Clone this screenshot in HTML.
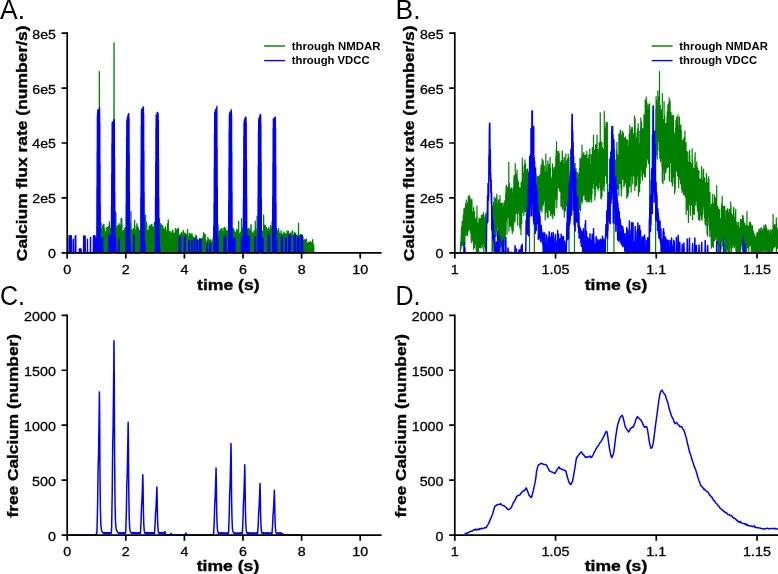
<!DOCTYPE html>
<html><head><meta charset="utf-8"><style>
html,body{margin:0;padding:0;background:#fff;width:778px;height:574px;overflow:hidden}
svg{display:block;font-family:"Liberation Sans",sans-serif;will-change:transform}
</style></head><body>
<svg width="778" height="574" viewBox="0 0 778 574" font-family="Liberation Sans, sans-serif">
<rect width="778" height="574" fill="#fff"/>
<text x="0" y="18.7" font-size="27" textLength="25" lengthAdjust="spacingAndGlyphs">A.</text>
<text x="395.5" y="18.7" font-size="27" textLength="25" lengthAdjust="spacingAndGlyphs">B.</text>
<text x="0" y="305.3" font-size="27" textLength="25" lengthAdjust="spacingAndGlyphs">C.</text>
<text x="395.5" y="305.3" font-size="27" textLength="25" lengthAdjust="spacingAndGlyphs">D.</text>
<polyline points="96.50,245.29 96.60,252.03 96.71,239.69 96.81,252.03 96.91,240.62 97.01,252.03 97.12,237.12 97.22,252.03 97.32,226.10 97.42,252.03 97.53,231.44 97.63,252.03 97.73,229.90 97.83,252.03 97.94,227.73 98.04,252.03 98.14,222.39 98.24,252.03 98.35,220.57 98.45,252.03 98.55,225.92 98.65,252.03 98.76,242.00 98.86,252.03 98.96,242.38 99.06,252.03 99.17,239.80 99.27,252.03 99.37,71.64 99.47,252.03 99.58,226.95 99.68,252.03 99.78,224.25 99.88,252.03 99.99,227.24 100.09,252.03 100.19,232.65 100.29,252.03 100.40,233.50 100.50,252.03 100.60,233.33 100.70,252.03 100.81,228.23 100.91,252.03 101.01,222.54 101.11,252.03 101.22,228.27 101.32,252.03 101.42,233.35 101.52,252.03 101.63,229.20 101.73,252.03 101.83,229.62 101.94,252.03 102.04,230.16 102.14,252.03 102.24,231.69 102.35,252.03 102.45,234.76 102.55,252.03 102.65,226.71 102.76,252.03 102.86,224.99 102.96,252.03 103.06,233.97 103.17,252.03 103.27,232.95 103.37,252.03 103.47,227.77 103.58,252.03 103.68,227.79 103.78,252.03 103.88,224.05 103.99,252.03 104.09,227.03 104.19,252.03 104.29,228.42 104.40,252.03 104.50,230.22 104.60,252.03 104.70,233.09 104.81,252.03 104.91,236.28 105.01,252.03 105.11,231.88 105.22,252.03 105.32,233.26 105.42,252.03 105.52,237.14 105.63,252.03 105.73,237.85 105.83,252.03 105.93,239.84 106.04,252.03 106.14,235.85 106.24,252.03 106.34,227.82 106.45,252.03 106.55,229.67 106.65,252.03 106.76,231.19 106.86,252.03 106.96,230.15 107.06,252.03 107.17,230.48 107.27,252.03 107.37,230.84 107.47,252.03 107.58,227.50 107.68,252.03 107.78,231.06 107.88,252.03 107.99,235.65 108.09,252.03 108.19,230.54 108.29,252.03 108.40,226.66 108.50,252.03 108.60,229.20 108.70,252.03 108.81,229.84 108.91,252.03 109.01,227.40 109.11,252.03 109.22,223.79 109.32,252.03 109.42,221.87 109.52,252.03 109.63,224.81 109.73,252.03 109.83,228.19 109.93,252.03 110.04,229.50 110.14,252.03 110.24,232.10 110.34,252.03 110.45,233.57 110.55,252.03 110.65,228.93 110.75,252.03 110.86,228.13 110.96,252.03 111.06,232.59 111.16,252.03 111.27,233.34 111.37,252.03 111.47,230.28 111.57,252.03 111.68,230.39 111.78,252.03 111.88,234.43 111.99,252.03 112.09,232.13 112.19,252.03 112.29,226.87 112.40,252.03 112.50,223.68 112.60,252.03 112.70,224.74 112.81,252.03 112.91,226.22 113.01,252.03 113.11,228.43 113.22,252.03 113.32,233.57 113.42,252.03 113.52,227.71 113.63,252.03 113.73,223.93 113.83,252.03 113.93,220.49 114.04,42.81 114.14,228.92 114.24,252.03 114.34,229.72 114.45,252.03 114.55,230.57 114.65,252.03 114.75,222.34 114.86,252.03 114.96,224.25 115.06,252.03 115.16,227.86 115.27,211.67 115.37,230.37 115.47,252.03 115.57,229.73 115.68,252.03 115.78,227.60 115.88,213.04 115.98,239.72 116.09,252.03 116.19,228.16 116.29,252.03 116.39,232.37 116.50,252.03 116.60,231.07 116.70,252.03 116.80,234.31 116.91,252.03 117.01,229.11 117.11,252.03 117.22,239.54 117.32,252.03 117.42,225.92 117.52,252.03 117.63,230.53 117.73,252.03 117.83,228.91 117.93,252.03 118.04,226.04 118.14,252.03 118.24,229.07 118.34,252.03 118.45,233.32 118.55,252.03 118.65,238.27 118.75,252.03 118.86,224.60 118.96,252.03 119.06,223.62 119.16,252.03 119.27,230.24 119.37,252.03 119.47,240.85 119.57,252.03 119.68,227.14 119.78,252.03 119.88,225.30 119.98,252.03 120.09,242.28 120.19,252.03 120.29,229.87 120.39,252.03 120.50,229.77 120.60,252.03 120.70,240.01 120.80,252.03 120.91,223.86 121.01,252.03 121.11,218.64 121.21,252.03 121.32,221.05 121.42,252.03 121.52,220.97 121.62,252.03 121.73,218.53 121.83,252.03 121.93,225.37 122.03,252.03 122.14,232.65 122.24,252.03 122.34,233.94 122.45,252.03 122.55,236.45 122.65,252.03 122.75,232.41 122.86,252.03 122.96,233.73 123.06,252.03 123.16,231.64 123.27,252.03 123.37,233.03 123.47,252.03 123.57,230.61 123.68,252.03 123.78,230.61 123.88,252.03 123.98,230.96 124.09,252.03 124.19,237.17 124.29,252.03 124.39,230.57 124.50,252.03 124.60,228.32 124.70,252.03 124.80,230.21 124.91,252.03 125.01,231.77 125.11,252.03 125.21,231.11 125.32,252.03 125.42,228.09 125.52,252.03 125.62,227.29 125.73,252.03 125.83,231.11 125.93,252.03 126.03,230.88 126.14,252.03 126.24,229.48 126.34,252.03 126.44,231.08 126.55,252.03 126.65,234.03 126.75,252.03 126.85,231.00 126.96,252.03 127.06,232.11 127.16,252.03 127.27,230.15 127.37,252.03 127.47,233.30 127.57,252.03 127.68,238.94 127.78,252.03 127.88,238.76 127.98,252.03 128.09,232.97 128.19,143.02 128.29,226.34 128.39,252.03 128.50,223.69 128.60,252.03 128.70,222.72 128.80,252.03 128.91,224.37 129.01,252.03 129.11,227.16 129.21,252.03 129.32,228.15 129.42,252.03 129.52,225.84 129.62,252.03 129.73,230.36 129.83,252.03 129.93,227.45 130.03,252.03 130.14,226.57 130.24,252.03 130.34,224.42 130.44,252.03 130.55,222.82 130.65,252.03 130.75,223.42 130.85,252.03 130.96,211.33 131.06,252.03 131.16,234.70 131.26,252.03 131.37,234.48 131.47,252.03 131.57,228.98 131.67,252.03 131.78,230.81 131.88,252.03 131.98,232.32 132.08,252.03 132.19,233.40 132.29,252.03 132.39,230.75 132.50,252.03 132.60,231.16 132.70,252.03 132.80,231.91 132.91,252.03 133.01,234.53 133.11,252.03 133.21,243.11 133.32,252.03 133.42,228.68 133.52,252.03 133.62,231.51 133.73,252.03 133.83,228.93 133.93,252.03 134.03,230.26 134.14,252.03 134.24,231.04 134.34,252.03 134.44,222.99 134.55,252.03 134.65,220.40 134.75,252.03 134.85,225.63 134.96,252.03 135.06,235.13 135.16,252.03 135.26,236.18 135.37,252.03 135.47,230.44 135.57,252.03 135.67,234.91 135.78,252.03 135.88,232.05 135.98,252.03 136.08,235.14 136.19,252.03 136.29,231.04 136.39,252.03 136.49,228.70 136.60,252.03 136.70,226.04 136.80,252.03 136.90,223.76 137.01,252.03 137.11,224.41 137.21,252.03 137.31,231.75 137.42,252.03 137.52,232.54 137.62,252.03 137.73,235.46 137.83,252.03 137.93,242.38 138.03,252.03 138.14,230.99 138.24,252.03 138.34,227.60 138.44,252.03 138.55,228.92 138.65,252.03 138.75,232.53 138.85,252.03 138.96,233.69 139.06,252.03 139.16,234.42 139.26,252.03 139.37,230.92 139.47,252.03 139.57,231.46 139.67,252.03 139.78,233.39 139.88,252.03 139.98,230.49 140.08,252.03 140.19,233.14 140.29,252.03 140.39,234.84 140.49,252.03 140.60,236.03 140.70,252.03 140.80,233.48 140.90,252.03 141.01,232.03 141.11,252.03 141.21,233.75 141.31,252.03 141.42,234.99 141.52,252.03 141.62,235.15 141.72,252.03 141.83,230.58 141.93,252.03 142.03,227.95 142.13,252.03 142.24,231.89 142.34,252.03 142.44,230.18 142.54,252.03 142.65,237.39 142.75,143.02 142.85,239.61 142.96,252.03 143.06,232.64 143.16,252.03 143.26,225.29 143.37,252.03 143.47,227.21 143.57,252.03 143.67,232.56 143.78,252.03 143.88,238.43 143.98,217.16 144.08,245.22 144.19,252.03 144.29,232.95 144.39,252.03 144.49,229.21 144.60,252.03 144.70,228.37 144.80,252.03 144.90,226.36 145.01,252.03 145.11,225.22 145.21,252.03 145.31,230.18 145.42,252.03 145.52,215.03 145.62,252.03 145.72,229.53 145.83,252.03 145.93,231.58 146.03,252.03 146.13,235.19 146.24,252.03 146.34,229.74 146.44,252.03 146.54,222.12 146.65,252.03 146.75,223.88 146.85,252.03 146.95,232.05 147.06,252.03 147.16,236.33 147.26,252.03 147.36,240.33 147.47,252.03 147.57,233.05 147.67,252.03 147.78,230.84 147.88,252.03 147.98,230.51 148.08,252.03 148.19,231.33 148.29,252.03 148.39,232.46 148.49,252.03 148.60,235.32 148.70,252.03 148.80,237.51 148.90,252.03 149.01,230.20 149.11,252.03 149.21,225.91 149.31,252.03 149.42,229.85 149.52,252.03 149.62,229.86 149.72,252.03 149.83,226.97 149.93,252.03 150.03,225.82 150.13,252.03 150.24,228.24 150.34,252.03 150.44,228.17 150.54,252.03 150.65,227.31 150.75,252.03 150.85,229.63 150.95,252.03 151.06,224.83 151.16,252.03 151.26,227.81 151.36,252.03 151.47,225.48 151.57,252.03 151.67,226.48 151.77,252.03 151.88,224.51 151.98,252.03 152.08,228.49 152.18,252.03 152.29,228.81 152.39,252.03 152.49,231.40 152.59,252.03 152.70,231.52 152.80,252.03 152.90,227.10 153.01,252.03 153.11,227.06 153.21,252.03 153.31,227.05 153.42,252.03 153.52,232.94 153.62,252.03 153.72,234.83 153.83,252.03 153.93,232.26 154.03,252.03 154.13,231.31 154.24,252.03 154.34,222.46 154.44,252.03 154.54,222.62 154.65,252.03 154.75,222.50 154.85,252.03 154.95,228.32 155.06,252.03 155.16,229.72 155.26,252.03 155.36,226.48 155.47,252.03 155.57,224.99 155.67,252.03 155.77,237.29 155.88,252.03 155.98,225.21 156.08,252.03 156.18,229.67 156.29,252.03 156.39,232.97 156.49,252.03 156.59,239.50 156.70,252.03 156.80,234.61 156.90,143.02 157.00,232.31 157.11,252.03 157.21,232.10 157.31,252.03 157.41,225.81 157.52,252.03 157.62,224.69 157.72,252.03 157.82,226.65 157.93,252.03 158.03,232.92 158.13,252.03 158.24,230.35 158.34,252.03 158.44,229.90 158.54,252.03 158.65,231.53 158.75,252.03 158.85,235.76 158.95,252.03 159.06,241.40 159.16,252.03 159.26,244.04 159.36,252.03 159.47,218.53 159.57,252.03 159.67,234.18 159.77,252.03 159.88,237.50 159.98,252.03 160.08,232.95 160.18,252.03 160.29,230.03 160.39,252.03 160.49,226.08 160.59,252.03 160.70,223.64 160.80,252.03 160.90,224.38 161.00,252.03 161.11,225.48 161.21,252.03 161.31,241.09 161.41,252.03 161.52,237.67 161.62,252.03 161.72,236.15 161.82,252.03 161.93,227.31 162.03,252.03 162.13,225.21 162.23,252.03 162.34,230.64 162.44,252.03 162.54,230.59 162.64,252.03 162.75,231.09 162.85,252.03 162.95,226.71 163.05,252.03 163.16,240.01 163.26,252.03 163.36,235.38 163.47,252.03 163.57,233.81 163.67,252.03 163.77,229.28 163.88,252.03 163.98,242.90 164.08,252.03 164.18,234.05 164.29,252.03 164.39,229.03 164.49,252.03 164.59,230.89 164.70,252.03 164.80,236.10 164.90,252.03 165.00,244.71 165.11,252.03 165.21,229.65 165.31,252.03 165.41,226.68 165.52,252.03 165.62,229.88 165.72,252.03 165.82,232.27 165.93,252.03 166.03,231.58 166.13,252.03 166.23,232.52 166.34,252.03 166.44,236.26 166.54,252.03 166.64,237.14 166.75,252.03 166.85,234.90 166.95,252.03 167.05,232.41 167.16,252.03 167.26,229.06 167.36,252.03 167.46,223.78 167.57,252.03 167.67,225.05 167.77,252.03 167.87,229.70 167.98,252.03 168.08,237.24 168.18,252.03 168.29,219.90 168.39,252.03 168.49,234.85 168.59,252.03 168.70,233.94 168.80,252.03 168.90,237.59 169.00,252.03 169.11,237.43 169.21,252.03 169.31,235.29 169.41,252.03 169.52,231.59 169.62,252.03 169.72,233.46 169.82,252.03 169.93,233.14 170.03,252.03 170.13,231.13 170.23,252.03 170.34,232.89 170.44,252.03 170.54,236.24 170.64,252.03 170.75,233.33 170.85,252.03 170.95,234.04 171.05,252.03 171.16,236.60 171.26,252.03 171.36,236.27 171.46,252.03 171.57,235.94 171.67,252.03 171.77,234.56 171.87,252.03 171.98,231.82 172.08,252.03 172.18,235.04 172.28,252.03 172.39,234.23 172.49,252.03 172.59,230.57 172.69,252.03 172.80,229.79 172.90,252.03 173.00,232.25 173.10,252.03 173.21,245.88 173.31,252.03 173.41,236.02 173.52,252.03 173.62,235.21 173.72,252.03 173.82,234.40 173.93,252.03 174.03,238.05 174.13,252.03 174.23,233.81 174.34,252.03 174.44,233.25 174.54,252.03 174.64,233.95 174.75,252.03 174.85,235.14 174.95,252.03 175.05,238.31 175.16,252.03 175.26,233.44 175.36,252.03 175.46,228.43 175.57,252.03 175.67,230.32 175.77,252.03 175.87,234.29 175.98,252.03 176.08,235.09 176.18,252.03 176.28,232.64 176.39,252.03 176.49,236.65 176.59,252.03 176.69,233.56 176.80,252.03 176.90,229.81 177.00,252.03 177.10,229.43 177.21,252.03 177.31,234.74 177.41,252.03 177.51,238.80 177.62,252.03 177.72,231.91 177.82,252.03 177.92,230.23 178.03,252.03 178.13,228.08 178.23,252.03 178.33,228.26 178.44,252.03 178.54,235.15 178.64,252.03 178.75,232.76 178.85,252.03 178.95,236.21 179.05,252.03 179.16,238.14 179.26,252.03 179.36,239.11 179.46,252.03 179.57,238.57 179.67,252.03 179.77,239.41 179.87,252.03 179.98,236.84 180.08,252.03 180.18,235.07 180.28,252.03 180.39,237.64 180.49,252.03 180.59,239.93 180.69,252.03 180.80,237.03 180.90,252.03 181.00,233.28 181.10,252.03 181.21,234.81 181.31,252.03 181.41,238.37 181.51,252.03 181.62,235.75 181.72,252.03 181.82,232.35 181.92,252.03 182.03,237.88 182.13,252.03 182.23,238.70 182.33,252.03 182.44,235.08 182.54,252.03 182.64,238.40 182.74,252.03 182.85,238.38 182.95,252.03 183.05,244.61 183.15,252.03 183.26,230.51 183.36,252.03 183.46,234.30 183.56,252.03 183.67,237.26 183.77,252.03 183.87,238.34 183.98,252.03 184.08,238.99 184.18,252.03 184.28,234.41 184.39,252.03 184.49,242.00 184.59,252.03 184.69,232.80 184.80,252.03 184.90,233.27 185.00,252.03 185.10,233.47 185.21,252.03 185.31,237.78 185.41,252.03 185.51,234.37 185.62,252.03 185.72,234.62 185.82,252.03 185.92,235.34 186.03,252.03 186.13,239.05 186.23,252.03 186.33,235.97 186.44,252.03 186.54,244.59 186.64,252.03 186.74,234.12 186.85,252.03 186.95,235.23 187.05,252.03 187.15,235.64 187.26,252.03 187.36,234.24 187.46,252.03 187.56,229.29 187.67,252.03 187.77,236.51 187.87,252.03 187.97,245.80 188.08,252.03 188.18,237.35 188.28,252.03 188.38,237.85 188.49,252.03 188.59,236.65 188.69,252.03 188.80,245.35 188.90,252.03 189.00,239.07 189.10,252.03 189.21,237.42 189.31,252.03 189.41,233.52 189.51,252.03 189.62,236.69 189.72,252.03 189.82,238.30 189.92,252.03 190.03,234.11 190.13,252.03 190.23,234.61 190.33,252.03 190.44,240.93 190.54,252.03 190.64,239.53 190.74,252.03 190.85,236.06 190.95,252.03 191.05,235.16 191.15,252.03 191.26,238.70 191.36,252.03 191.46,236.86 191.56,252.03 191.67,238.30 191.77,252.03 191.87,233.65 191.97,252.03 192.08,233.92 192.18,252.03 192.28,235.70 192.38,252.03 192.49,236.72 192.59,252.03 192.69,245.57 192.79,252.03 192.90,237.96 193.00,252.03 193.10,239.29 193.20,252.03 193.31,238.53 193.41,252.03 193.51,245.64 193.61,252.03 193.72,237.20 193.82,252.03 193.92,237.79 194.03,252.03 194.13,241.98 194.23,252.03 194.33,238.91 194.44,252.03 194.54,245.64 194.64,252.03 194.74,239.43 194.85,252.03 194.95,239.44 195.05,252.03 195.15,245.71 195.26,252.03 195.36,238.25 195.46,252.03 195.56,237.85 195.67,252.03 195.77,235.23 195.87,252.03 195.97,235.69 196.08,252.03 196.18,246.35 196.28,252.03 196.38,239.95 196.49,252.03 196.59,236.21 196.69,252.03 196.79,238.00 196.90,252.03 197.00,239.68 197.10,252.03 197.20,241.00 197.31,252.03 197.41,239.35 197.51,252.03 197.61,240.23 197.72,252.03 197.82,241.57 197.92,252.03 198.02,240.17 198.13,252.03 198.23,240.40 198.33,252.03 198.43,242.35 198.54,252.03 198.64,241.94 198.74,252.03 198.84,241.22 198.95,252.03 199.05,243.32 199.15,252.03 199.26,241.57 199.36,252.03 199.46,239.37 199.56,252.03 199.67,239.15 199.77,252.03 199.87,241.40 199.97,252.03 200.08,239.39 200.18,252.03 200.28,246.45 200.38,252.03 200.49,246.36 200.59,252.03 200.69,243.98 200.79,252.03 200.90,245.26 201.00,252.03 201.10,242.99 201.20,252.03 201.31,239.08 201.41,252.03 201.51,239.23 201.61,252.03 201.72,246.83 201.82,252.03 201.92,243.40 202.02,252.03 202.13,242.38 202.23,252.03 202.33,241.47 202.43,252.03 202.54,239.79 202.64,252.03 202.74,238.04 202.84,252.03 202.95,245.65 203.05,252.03 203.15,236.33 203.25,252.03 203.36,237.24 203.46,252.03 203.56,232.66 203.66,252.03 203.77,240.47 203.87,252.03 203.97,233.37 204.07,252.03 204.18,236.64 204.28,252.03 204.38,241.01 204.49,252.03 204.59,239.33 204.69,252.03 204.79,239.65 204.90,252.03 205.00,241.09 205.10,252.03 205.20,234.57 205.31,252.03 205.41,241.51 205.51,252.03 205.61,239.49 205.72,252.03 205.82,239.96 205.92,252.03 206.02,241.88 206.13,252.03 206.23,242.08 206.33,252.03 206.43,243.97 206.54,252.03 206.64,242.99 206.74,252.03 206.84,243.53 206.95,252.03 207.05,244.62 207.15,252.03 207.25,243.03 207.36,252.03 207.46,240.82 207.56,252.03 207.66,240.20 207.77,252.03 207.87,237.41 207.97,252.03 208.07,240.37 208.18,252.03 208.28,240.60 208.38,252.03 208.48,240.33 208.59,252.03 208.69,239.30 208.79,252.03 208.89,241.31 209.00,252.03 209.10,244.22 209.20,252.03 209.31,242.33 209.41,252.03 209.51,241.93 209.61,252.03 209.72,241.04 209.82,252.03 209.92,241.56 210.02,252.03 210.13,240.37 210.23,252.03 210.33,240.03 210.43,252.03 210.54,239.61 210.64,252.03 210.74,243.29 210.84,252.03 210.95,240.62 211.05,252.03 211.15,246.96 211.25,252.03 211.36,241.24 211.46,252.03 211.56,241.99 211.66,252.03 211.77,242.65 211.87,252.03 211.97,244.86 212.07,252.03 212.18,242.66 212.28,252.03 212.38,242.22 212.48,252.03 212.59,247.87 212.69,252.03 212.79,240.68 212.89,252.03 213.00,238.59 213.10,252.03 213.20,239.00 213.30,252.03 213.41,237.08 213.51,252.03 213.61,225.91 213.71,252.03 213.82,238.61 213.92,252.03 214.02,234.47 214.12,252.03 214.23,238.89 214.33,252.03 214.43,237.19 214.54,252.03 214.64,232.39 214.74,252.03 214.84,222.44 214.95,252.03 215.05,238.49 215.15,252.03 215.25,241.64 215.36,252.03 215.46,238.36 215.56,252.03 215.66,234.10 215.77,252.03 215.87,231.70 215.97,252.03 216.07,143.02 216.18,252.03 216.28,233.92 216.38,252.03 216.48,231.24 216.59,252.03 216.69,233.87 216.79,252.03 216.89,234.51 217.00,252.03 217.10,238.43 217.20,252.03 217.30,229.13 217.41,252.03 217.51,226.94 217.61,252.03 217.71,223.80 217.82,252.03 217.92,224.96 218.02,252.03 218.12,226.67 218.23,252.03 218.33,234.23 218.43,252.03 218.53,234.75 218.64,252.03 218.74,237.22 218.84,252.03 218.94,238.06 219.05,252.03 219.15,239.66 219.25,252.03 219.35,238.40 219.46,252.03 219.56,231.00 219.66,252.03 219.77,231.27 219.87,252.03 219.97,231.86 220.07,252.03 220.18,230.10 220.28,252.03 220.38,232.31 220.48,252.03 220.59,232.70 220.69,252.03 220.79,232.58 220.89,252.03 221.00,229.04 221.10,252.03 221.20,229.51 221.30,252.03 221.41,231.11 221.51,252.03 221.61,240.27 221.71,252.03 221.82,228.59 221.92,252.03 222.02,228.46 222.12,252.03 222.23,233.48 222.33,252.03 222.43,232.79 222.53,252.03 222.64,235.80 222.74,252.03 222.84,234.13 222.94,252.03 223.05,231.34 223.15,252.03 223.25,232.94 223.35,252.03 223.46,232.70 223.56,252.03 223.66,232.17 223.76,252.03 223.87,228.15 223.97,252.03 224.07,229.86 224.17,252.03 224.28,227.13 224.38,252.03 224.48,229.12 224.58,252.03 224.69,228.35 224.79,252.03 224.89,227.87 225.00,252.03 225.10,228.83 225.20,252.03 225.30,228.50 225.41,252.03 225.51,234.18 225.61,252.03 225.71,232.20 225.82,252.03 225.92,242.30 226.02,252.03 226.12,230.36 226.23,252.03 226.33,240.42 226.43,252.03 226.53,234.12 226.64,252.03 226.74,231.84 226.84,252.03 226.94,230.94 227.05,252.03 227.15,233.09 227.25,252.03 227.35,242.79 227.46,252.03 227.56,232.36 227.66,252.03 227.76,231.24 227.87,252.03 227.97,231.87 228.07,252.03 228.17,232.47 228.28,252.03 228.38,227.07 228.48,252.03 228.58,227.20 228.69,252.03 228.79,215.26 228.89,252.03 228.99,230.39 229.10,252.03 229.20,227.32 229.30,252.03 229.40,227.72 229.51,252.03 229.61,231.19 229.71,252.03 229.82,241.70 229.92,252.03 230.02,228.93 230.12,252.03 230.23,232.29 230.33,252.03 230.43,239.65 230.53,252.03 230.64,240.54 230.74,252.03 230.84,240.27 230.94,143.02 231.05,244.49 231.15,252.03 231.25,230.13 231.35,252.03 231.46,230.12 231.56,252.03 231.66,227.95 231.76,252.03 231.87,230.11 231.97,252.03 232.07,232.29 232.17,252.03 232.28,231.78 232.38,252.03 232.48,235.86 232.58,252.03 232.69,241.56 232.79,252.03 232.89,228.88 232.99,252.03 233.10,228.25 233.20,252.03 233.30,233.79 233.40,252.03 233.51,231.48 233.61,252.03 233.71,234.94 233.81,252.03 233.92,229.62 234.02,252.03 234.12,232.40 234.22,252.03 234.33,232.02 234.43,252.03 234.53,234.50 234.63,252.03 234.74,237.03 234.84,252.03 234.94,235.17 235.05,252.03 235.15,231.96 235.25,252.03 235.35,232.33 235.46,252.03 235.56,243.24 235.66,252.03 235.76,245.05 235.87,252.03 235.97,235.75 236.07,252.03 236.17,234.49 236.28,252.03 236.38,233.62 236.48,252.03 236.58,234.61 236.69,252.03 236.79,229.16 236.89,252.03 236.99,230.61 237.10,252.03 237.20,236.92 237.30,252.03 237.40,235.85 237.51,252.03 237.61,230.62 237.71,252.03 237.81,231.96 237.92,252.03 238.02,231.84 238.12,252.03 238.22,229.93 238.33,252.03 238.43,229.83 238.53,252.03 238.63,221.28 238.74,252.03 238.84,237.86 238.94,252.03 239.04,233.20 239.15,252.03 239.25,234.73 239.35,252.03 239.45,234.76 239.56,252.03 239.66,237.83 239.76,252.03 239.86,234.28 239.97,252.03 240.07,234.60 240.17,252.03 240.28,236.28 240.38,252.03 240.48,232.18 240.58,252.03 240.69,233.33 240.79,252.03 240.89,233.76 240.99,252.03 241.10,239.02 241.20,252.03 241.30,233.17 241.40,252.03 241.51,218.73 241.61,252.03 241.71,224.95 241.81,252.03 241.92,228.93 242.02,252.03 242.12,229.96 242.22,252.03 242.33,231.43 242.43,252.03 242.53,229.68 242.63,252.03 242.74,234.15 242.84,252.03 242.94,228.04 243.04,252.03 243.15,232.74 243.25,252.03 243.35,231.94 243.45,252.03 243.56,232.49 243.66,252.03 243.76,232.20 243.86,252.03 243.97,231.15 244.07,252.03 244.17,230.38 244.27,252.03 244.38,234.46 244.48,252.03 244.58,241.14 244.68,252.03 244.79,143.02 244.89,252.03 244.99,238.12 245.09,252.03 245.20,233.88 245.30,252.03 245.40,233.70 245.51,252.03 245.61,235.73 245.71,252.03 245.81,234.09 245.92,217.16 246.02,229.58 246.12,252.03 246.22,231.94 246.33,252.03 246.43,222.83 246.53,252.03 246.63,228.72 246.74,252.03 246.84,242.05 246.94,252.03 247.04,230.23 247.15,252.03 247.25,244.00 247.35,252.03 247.45,232.74 247.56,252.03 247.66,229.23 247.76,252.03 247.86,230.74 247.97,252.03 248.07,232.08 248.17,252.03 248.27,236.11 248.38,252.03 248.48,235.76 248.58,252.03 248.68,230.79 248.79,252.03 248.89,228.25 248.99,252.03 249.09,228.52 249.20,252.03 249.30,231.76 249.40,252.03 249.50,230.89 249.61,252.03 249.71,231.57 249.81,252.03 249.91,230.30 250.02,252.03 250.12,230.89 250.22,252.03 250.33,235.52 250.43,252.03 250.53,236.10 250.63,252.03 250.74,242.40 250.84,252.03 250.94,224.70 251.04,252.03 251.15,225.34 251.25,252.03 251.35,241.57 251.45,252.03 251.56,232.36 251.66,252.03 251.76,232.01 251.86,252.03 251.97,232.85 252.07,252.03 252.17,232.75 252.27,252.03 252.38,233.93 252.48,252.03 252.58,245.04 252.68,252.03 252.79,234.18 252.89,252.03 252.99,233.77 253.09,252.03 253.20,233.43 253.30,252.03 253.40,235.68 253.50,252.03 253.61,240.85 253.71,252.03 253.81,241.03 253.91,252.03 254.02,230.80 254.12,252.03 254.22,232.03 254.32,252.03 254.43,233.15 254.53,252.03 254.63,231.88 254.73,252.03 254.84,236.21 254.94,252.03 255.04,233.17 255.14,252.03 255.25,221.04 255.35,252.03 255.45,228.39 255.56,252.03 255.66,228.63 255.76,252.03 255.86,233.83 255.97,252.03 256.07,237.76 256.17,252.03 256.27,231.85 256.38,252.03 256.48,232.46 256.58,252.03 256.68,234.15 256.79,252.03 256.89,235.46 256.99,252.03 257.09,216.22 257.20,252.03 257.30,233.45 257.40,252.03 257.50,234.29 257.61,252.03 257.71,231.91 257.81,252.03 257.91,230.53 258.02,252.03 258.12,230.70 258.22,252.03 258.32,230.95 258.43,252.03 258.53,233.19 258.63,252.03 258.73,234.21 258.84,252.03 258.94,243.15 259.04,252.03 259.14,232.59 259.25,252.03 259.35,233.24 259.45,252.03 259.55,236.04 259.66,252.03 259.76,238.09 259.86,252.03 259.96,143.02 260.07,252.03 260.17,235.36 260.27,252.03 260.37,229.52 260.48,252.03 260.58,231.69 260.68,252.03 260.79,232.85 260.89,252.03 260.99,235.50 261.09,252.03 261.20,240.48 261.30,252.03 261.40,237.08 261.50,252.03 261.61,232.01 261.71,252.03 261.81,230.89 261.91,252.03 262.02,232.19 262.12,252.03 262.22,233.39 262.32,252.03 262.43,236.86 262.53,252.03 262.63,234.26 262.73,252.03 262.84,231.21 262.94,252.03 263.04,234.64 263.14,252.03 263.25,236.31 263.35,252.03 263.45,231.78 263.55,252.03 263.66,215.09 263.76,252.03 263.86,228.13 263.96,252.03 264.07,225.70 264.17,252.03 264.27,224.96 264.37,252.03 264.48,231.71 264.58,252.03 264.68,231.77 264.78,252.03 264.89,233.85 264.99,252.03 265.09,227.60 265.19,252.03 265.30,225.45 265.40,252.03 265.50,229.43 265.60,252.03 265.71,234.83 265.81,252.03 265.91,237.87 266.02,252.03 266.12,232.23 266.22,252.03 266.32,227.37 266.43,252.03 266.53,230.64 266.63,252.03 266.73,231.28 266.84,252.03 266.94,233.53 267.04,252.03 267.14,235.23 267.25,252.03 267.35,236.52 267.45,252.03 267.55,233.25 267.66,252.03 267.76,229.19 267.86,252.03 267.96,232.07 268.07,252.03 268.17,231.89 268.27,252.03 268.37,229.77 268.48,252.03 268.58,227.80 268.68,252.03 268.78,230.29 268.89,252.03 268.99,232.93 269.09,252.03 269.19,232.61 269.30,252.03 269.40,234.62 269.50,252.03 269.60,232.36 269.71,252.03 269.81,232.31 269.91,252.03 270.01,229.51 270.12,252.03 270.22,229.00 270.32,252.03 270.42,225.40 270.53,252.03 270.63,227.25 270.73,252.03 270.84,228.42 270.94,252.03 271.04,229.86 271.14,252.03 271.25,232.40 271.35,252.03 271.45,233.23 271.55,252.03 271.66,229.30 271.76,252.03 271.86,228.52 271.96,252.03 272.07,221.47 272.17,252.03 272.27,230.11 272.37,252.03 272.48,240.74 272.58,252.03 272.68,232.44 272.78,252.03 272.89,236.21 272.99,252.03 273.09,234.62 273.19,252.03 273.30,236.19 273.40,252.03 273.50,234.79 273.60,252.03 273.71,236.62 273.81,252.03 273.91,231.22 274.01,252.03 274.12,229.08 274.22,252.03 274.32,143.02 274.42,252.03 274.53,243.34 274.63,252.03 274.73,232.41 274.83,252.03 274.94,237.43 275.04,252.03 275.14,238.32 275.24,252.03 275.35,237.27 275.45,252.03 275.55,230.99 275.65,252.03 275.76,231.63 275.86,252.03 275.96,234.90 276.07,252.03 276.17,243.49 276.27,252.03 276.37,228.56 276.48,252.03 276.58,240.52 276.68,252.03 276.78,232.15 276.89,252.03 276.99,236.68 277.09,252.03 277.19,231.57 277.30,252.03 277.40,230.69 277.50,252.03 277.60,236.33 277.71,252.03 277.81,238.01 277.91,252.03 278.01,234.52 278.12,252.03 278.22,232.72 278.32,252.03 278.42,230.68 278.53,252.03 278.63,228.66 278.73,252.03 278.83,231.01 278.94,252.03 279.04,235.30 279.14,252.03 279.24,236.78 279.35,252.03 279.45,236.01 279.55,252.03 279.65,233.32 279.76,252.03 279.86,234.25 279.96,252.03 280.06,234.66 280.17,252.03 280.27,235.69 280.37,252.03 280.47,236.39 280.58,252.03 280.68,236.08 280.78,252.03 280.88,235.36 280.99,252.03 281.09,230.70 281.19,252.03 281.30,233.01 281.40,252.03 281.50,233.15 281.60,252.03 281.71,233.46 281.81,252.03 281.91,238.42 282.01,252.03 282.12,234.62 282.22,252.03 282.32,237.87 282.42,252.03 282.53,236.99 282.63,252.03 282.73,237.80 282.83,252.03 282.94,243.35 283.04,252.03 283.14,234.16 283.24,252.03 283.35,234.56 283.45,252.03 283.55,235.59 283.65,252.03 283.76,234.74 283.86,252.03 283.96,231.83 284.06,252.03 284.17,242.93 284.27,252.03 284.37,235.49 284.47,252.03 284.58,239.02 284.68,252.03 284.78,233.38 284.88,252.03 284.99,234.10 285.09,252.03 285.19,236.00 285.29,252.03 285.40,236.37 285.50,252.03 285.60,236.12 285.70,252.03 285.81,234.94 285.91,252.03 286.01,234.11 286.11,252.03 286.22,234.37 286.32,252.03 286.42,236.75 286.53,252.03 286.63,241.09 286.73,252.03 286.83,244.80 286.94,252.03 287.04,230.93 287.14,252.03 287.24,231.68 287.35,252.03 287.45,237.69 287.55,252.03 287.65,239.19 287.76,252.03 287.86,238.81 287.96,252.03 288.06,236.21 288.17,252.03 288.27,233.33 288.37,252.03 288.47,231.33 288.58,252.03 288.68,232.23 288.78,252.03 288.88,244.19 288.99,252.03 289.09,244.98 289.19,252.03 289.29,235.47 289.40,252.03 289.50,234.17 289.60,252.03 289.70,234.52 289.81,252.03 289.91,237.03 290.01,252.03 290.11,236.65 290.22,252.03 290.32,237.82 290.42,252.03 290.52,234.53 290.63,252.03 290.73,232.98 290.83,252.03 290.93,237.15 291.04,252.03 291.14,236.22 291.24,252.03 291.35,237.83 291.45,252.03 291.55,240.63 291.65,252.03 291.76,246.86 291.86,252.03 291.96,237.00 292.06,252.03 292.17,231.64 292.27,252.03 292.37,230.68 292.47,252.03 292.58,234.89 292.68,252.03 292.78,238.24 292.88,252.03 292.99,237.35 293.09,252.03 293.19,236.89 293.29,252.03 293.40,238.57 293.50,252.03 293.60,236.83 293.70,252.03 293.81,235.65 293.91,252.03 294.01,235.83 294.11,252.03 294.22,232.13 294.32,252.03 294.42,243.92 294.52,252.03 294.63,238.25 294.73,252.03 294.83,242.02 294.93,252.03 295.04,240.78 295.14,252.03 295.24,238.52 295.34,252.03 295.45,235.92 295.55,252.03 295.65,233.27 295.75,252.03 295.86,234.81 295.96,252.03 296.06,239.10 296.16,252.03 296.27,244.25 296.37,252.03 296.47,238.92 296.58,252.03 296.68,236.87 296.78,252.03 296.88,235.53 296.99,252.03 297.09,245.75 297.19,252.03 297.29,237.17 297.40,252.03 297.50,237.08 297.60,252.03 297.70,239.08 297.81,252.03 297.91,238.40 298.01,252.03 298.11,234.88 298.22,252.03 298.32,239.47 298.42,252.03 298.52,223.19 298.63,252.03 298.73,240.93 298.83,252.03 298.93,240.14 299.04,252.03 299.14,235.51 299.24,252.03 299.34,235.17 299.45,252.03 299.55,238.18 299.65,252.03 299.75,243.33 299.86,252.03 299.96,241.85 300.06,252.03 300.16,240.78 300.27,252.03 300.37,246.65 300.47,252.03 300.57,234.39 300.68,252.03 300.78,234.59 300.88,252.03 300.98,237.98 301.09,252.03 301.19,245.08 301.29,252.03 301.39,238.76 301.50,252.03 301.60,238.72 301.70,252.03 301.81,235.27 301.91,252.03 302.01,235.46 302.11,252.03 302.22,239.22 302.32,252.03 302.42,239.61 302.52,252.03 302.63,237.12 302.73,252.03 302.83,238.04 302.93,252.03 303.04,240.28 303.14,252.03 303.24,240.03 303.34,252.03 303.45,240.71 303.55,252.03 303.65,241.31 303.75,252.03 303.86,241.48 303.96,252.03 304.06,242.37 304.16,252.03 304.27,241.95 304.37,252.03 304.47,239.85 304.57,252.03 304.68,239.96 304.78,252.03 304.88,243.72 304.98,252.03 305.09,245.80 305.19,252.03 305.29,242.46 305.39,252.03 305.50,239.79 305.60,252.03 305.70,240.11 305.80,252.03 305.91,239.97 306.01,252.03 306.11,240.91 306.21,252.03 306.32,238.95 306.42,252.03 306.52,241.46 306.62,252.03 306.73,243.01 306.83,252.03 306.93,243.82 307.04,252.03 307.14,243.87 307.24,252.03 307.34,243.11 307.45,252.03 307.55,244.22 307.65,252.03 307.75,243.57 307.86,252.03 307.96,243.18 308.06,252.03 308.16,242.82 308.27,252.03 308.37,242.54 308.47,252.03 308.57,243.80 308.68,252.03 308.78,244.15 308.88,252.03 308.98,244.71 309.09,252.03 309.19,244.57 309.29,252.03 309.39,243.64 309.50,252.03 309.60,242.31 309.70,252.03 309.80,243.07 309.91,252.03 310.01,243.49 310.11,252.03 310.21,244.76 310.32,252.03 310.42,241.71 310.52,252.03 310.62,243.50 310.73,252.03 310.83,242.37 310.93,252.03 311.03,244.55 311.14,252.03 311.24,244.41 311.34,252.03 311.44,243.58 311.55,252.03 311.65,245.90 311.75,252.03 311.86,243.55 311.96,252.03 312.06,243.11 312.16,252.03 312.27,242.49 312.37,252.03 312.47,242.53 312.57,252.03 312.68,239.68 312.78,252.03 312.88,242.17 312.98,252.03 313.09,245.50 313.19,252.03 313.29,244.31 313.39,252.03 313.50,244.79 313.60,252.03 313.70,246.34 313.80,252.85" fill="none" stroke="#008000" stroke-width="1.3" stroke-linejoin="round"/>
<polyline points="67.20,252.85 67.30,252.85 67.41,252.85 67.51,252.85 67.61,252.85 67.71,252.85 67.82,252.85 67.92,252.85 68.02,252.85 68.12,252.85 68.23,252.85 68.33,252.85 68.43,252.85 68.53,252.85 68.64,252.85 68.74,252.85 68.84,252.85 68.94,252.85 69.05,235.66 69.15,252.85 69.25,236.33 69.35,252.85 69.46,235.84 69.56,252.85 69.66,236.30 69.76,252.85 69.87,236.23 69.97,252.85 70.07,235.65 70.17,252.85 70.28,235.56 70.38,252.85 70.48,235.95 70.58,252.85 70.69,236.13 70.79,252.85 70.89,235.85 70.99,252.85 71.10,236.28 71.20,252.85 71.30,235.65 71.40,252.85 71.51,252.85 71.61,252.85 71.71,252.85 71.81,252.85 71.92,252.85 72.02,252.85 72.12,252.85 72.22,252.85 72.33,252.85 72.43,252.85 72.53,252.85 72.64,252.85 72.74,252.85 72.84,252.85 72.94,252.85 73.05,252.85 73.15,239.76 73.25,252.85 73.35,239.17 73.46,252.85 73.56,252.85 73.66,252.85 73.76,252.85 73.87,252.85 73.97,252.85 74.07,252.85 74.17,252.85 74.28,252.85 74.38,252.85 74.48,252.85 74.58,252.85 74.69,252.85 74.79,252.85 74.89,252.85 74.99,252.85 75.10,252.85 75.20,236.23 75.30,252.85 75.40,235.70 75.51,252.85 75.61,235.59 75.71,252.85 75.81,236.14 75.92,252.85 76.02,252.85 76.12,252.85 76.22,252.85 76.33,252.85 76.43,252.85 76.53,252.85 76.63,252.85 76.74,252.85 76.84,252.85 76.94,252.85 77.04,252.85 77.15,252.85 77.25,252.85 77.35,252.85 77.45,252.85 77.56,252.85 77.66,252.85 77.76,252.85 77.87,252.85 77.97,252.85 78.07,252.85 78.17,252.85 78.28,252.85 78.38,252.85 78.48,252.85 78.58,252.85 78.69,252.85 78.79,252.85 78.89,252.85 78.99,252.85 79.10,252.85 79.20,252.85 79.30,249.08 79.40,252.85 79.51,249.10 79.61,252.85 79.71,249.03 79.81,252.85 79.92,249.07 80.02,252.85 80.12,249.15 80.22,252.85 80.33,249.10 80.43,252.85 80.53,249.09 80.63,252.85 80.74,249.04 80.84,252.85 80.94,249.17 81.04,252.85 81.15,249.06 81.25,252.85 81.35,252.85 81.45,252.85 81.56,252.85 81.66,252.85 81.76,252.85 81.86,252.85 81.97,252.85 82.07,252.85 82.17,252.85 82.27,252.85 82.38,252.85 82.48,252.85 82.58,252.85 82.69,252.85 82.79,252.85 82.89,252.85 82.99,252.85 83.10,252.85 83.20,252.85 83.30,252.85 83.40,252.85 83.51,252.85 83.61,235.90 83.71,252.85 83.81,236.56 83.92,252.85 84.02,236.39 84.12,252.85 84.22,236.38 84.33,252.85 84.43,236.59 84.53,252.85 84.63,235.86 84.74,252.85 84.84,235.92 84.94,252.85 85.04,236.16 85.15,252.85 85.25,236.30 85.35,252.85 85.45,252.85 85.56,252.85 85.66,252.85 85.76,252.85 85.86,252.85 85.97,252.85 86.07,252.85 86.17,252.85 86.27,252.85 86.38,252.85 86.48,252.85 86.58,252.85 86.68,252.85 86.79,252.85 86.89,252.85 86.99,252.85 87.09,252.85 87.20,252.85 87.30,252.85 87.40,252.85 87.50,239.27 87.61,252.85 87.71,252.85 87.81,252.85 87.92,252.85 88.02,252.85 88.12,252.85 88.22,252.85 88.33,252.85 88.43,252.85 88.53,252.85 88.63,252.85 88.74,252.85 88.84,252.85 88.94,252.85 89.04,252.85 89.15,252.85 89.25,252.85 89.35,252.85 89.45,252.85 89.56,252.85 89.66,252.85 89.76,252.85 89.86,252.85 89.97,252.85 90.07,252.85 90.17,252.85 90.27,252.85 90.38,237.34 90.48,252.85 90.58,237.48 90.68,252.85 90.79,252.85 90.89,252.85 90.99,252.85 91.09,252.85 91.20,252.85 91.30,252.85 91.40,252.85 91.50,252.85 91.61,252.85 91.71,252.85 91.81,252.85 91.91,252.85 92.02,252.85 92.12,252.85 92.22,252.85 92.32,252.85 92.43,252.85 92.53,252.85 92.63,252.85 92.73,252.85 92.84,252.85 92.94,252.85 93.04,252.85 93.15,252.85 93.25,252.85 93.35,236.18 93.45,252.85 93.56,235.91 93.66,252.85 93.76,235.56 93.86,252.85 93.97,235.85 94.07,252.85 94.17,235.59 94.27,252.85 94.38,236.38 94.48,252.85 94.58,236.29 94.68,252.85 94.79,235.75 94.89,252.85 94.99,236.41 95.09,252.85 95.20,236.33 95.30,252.85 95.40,252.85 95.50,252.85 95.61,252.85 95.71,252.85 95.81,252.85 95.91,252.85 96.02,252.85 96.12,252.85 96.22,252.85 96.32,252.85 96.43,252.85 96.53,238.12 96.63,252.85 96.73,237.87 96.84,252.85 96.94,187.54 97.04,252.30 97.14,151.44 97.25,252.30 97.35,115.85 97.45,252.30 97.55,112.60 97.66,252.30 97.76,109.86 97.86,252.30 97.97,113.22 98.07,252.30 98.17,112.97 98.27,252.30 98.38,110.13 98.48,252.30 98.58,110.92 98.68,252.30 98.79,110.24 98.89,252.30 98.99,111.40 99.09,252.30 99.20,109.22 99.30,252.30 99.40,109.91 99.50,252.30 99.61,107.66 99.71,252.30 99.81,123.34 99.91,252.30 100.02,163.57 100.12,252.30 100.22,203.34 100.32,238.06 100.43,252.85 100.53,241.83 100.63,252.85 100.73,244.79 100.84,252.85 100.94,243.72 101.04,252.85 101.14,247.15 101.25,252.85 101.35,252.85 101.45,252.85 101.55,252.85 101.66,252.85 101.76,252.85 101.86,252.85 101.96,252.85 102.07,237.97 102.17,252.85 102.27,238.47 102.37,252.85 102.48,237.98 102.58,252.85 102.68,237.78 102.78,252.85 102.89,252.85 102.99,252.85 103.09,252.85 103.20,252.85 103.30,252.85 103.40,252.85 103.50,252.85 103.61,252.85 103.71,252.85 103.81,252.85 103.91,252.85 104.02,252.85 104.12,252.85 104.22,252.85 104.32,252.85 104.43,252.85 104.53,252.85 104.63,252.85 104.73,252.85 104.84,252.85 104.94,252.85 105.04,252.85 105.14,252.85 105.25,252.85 105.35,252.85 105.45,252.85 105.55,252.85 105.66,252.85 105.76,252.85 105.86,252.85 105.96,252.85 106.07,252.85 106.17,252.85 106.27,252.85 106.37,252.85 106.48,252.85 106.58,252.85 106.68,252.85 106.78,252.85 106.89,252.85 106.99,252.85 107.09,252.85 107.19,252.85 107.30,252.85 107.40,252.85 107.50,252.85 107.60,252.85 107.71,252.85 107.81,252.85 107.91,252.85 108.01,252.85 108.12,252.85 108.22,252.85 108.32,252.85 108.43,252.85 108.53,252.85 108.63,252.85 108.73,235.04 108.84,252.85 108.94,235.26 109.04,252.85 109.14,235.79 109.25,252.85 109.35,235.19 109.45,252.85 109.55,235.90 109.66,252.85 109.76,235.76 109.86,252.85 109.96,235.82 110.07,252.85 110.17,235.46 110.27,252.85 110.37,235.82 110.48,252.85 110.58,236.13 110.68,252.85 110.78,252.85 110.89,252.85 110.99,252.85 111.09,252.85 111.19,252.85 111.30,252.85 111.40,252.85 111.50,205.80 111.60,252.30 111.71,173.65 111.81,252.30 111.91,143.62 112.01,252.30 112.12,122.67 112.22,252.30 112.32,122.52 112.42,252.30 112.53,123.56 112.63,252.30 112.73,123.81 112.83,252.30 112.94,121.92 113.04,252.30 113.14,122.22 113.24,252.30 113.35,121.21 113.45,252.30 113.55,122.51 113.66,252.30 113.76,119.43 113.86,252.30 113.96,120.76 114.07,252.30 114.17,120.23 114.27,252.30 114.37,120.36 114.48,252.30 114.58,157.63 114.68,252.30 114.78,192.70 114.89,252.30 114.99,235.79 115.09,252.85 115.19,236.90 115.30,252.85 115.40,239.14 115.50,252.85 115.60,241.99 115.71,252.85 115.81,247.35 115.91,252.85 116.01,252.85 116.12,252.85 116.22,252.85 116.32,252.85 116.42,252.85 116.53,252.85 116.63,252.85 116.73,252.85 116.83,252.85 116.94,252.85 117.04,252.85 117.14,252.85 117.24,252.85 117.35,252.85 117.45,252.85 117.55,252.85 117.65,252.85 117.76,252.85 117.86,252.85 117.96,252.85 118.06,252.85 118.17,252.85 118.27,252.85 118.37,252.85 118.47,239.88 118.58,252.85 118.68,239.56 118.78,252.85 118.89,239.16 118.99,252.85 119.09,239.22 119.19,252.85 119.30,239.89 119.40,252.85 119.50,252.85 119.60,252.85 119.71,252.85 119.81,252.85 119.91,252.85 120.01,252.85 120.12,252.85 120.22,252.85 120.32,252.85 120.42,252.85 120.53,252.85 120.63,252.85 120.73,252.85 120.83,252.85 120.94,252.85 121.04,252.85 121.14,252.85 121.24,252.85 121.35,252.85 121.45,252.85 121.55,252.85 121.65,252.85 121.76,252.85 121.86,252.85 121.96,252.85 122.06,252.85 122.17,252.85 122.27,252.85 122.37,252.85 122.47,252.85 122.58,252.85 122.68,252.85 122.78,252.85 122.88,252.85 122.99,252.85 123.09,252.85 123.19,252.85 123.29,252.85 123.40,252.85 123.50,252.85 123.60,252.85 123.71,252.85 123.81,252.85 123.91,252.85 124.01,252.85 124.12,252.85 124.22,252.85 124.32,252.85 124.42,252.85 124.53,252.85 124.63,252.85 124.73,252.85 124.83,252.85 124.94,252.85 125.04,252.85 125.14,252.85 125.24,252.85 125.35,252.85 125.45,252.85 125.55,252.85 125.65,252.85 125.76,252.85 125.86,252.85 125.96,252.85 126.06,252.85 126.17,202.78 126.27,252.30 126.37,168.15 126.47,252.30 126.58,137.28 126.68,252.30 126.78,120.67 126.88,252.30 126.99,120.49 127.09,252.30 127.19,118.35 127.29,252.30 127.40,117.98 127.50,252.30 127.60,117.06 127.70,252.30 127.81,116.03 127.91,252.30 128.01,115.01 128.11,252.30 128.22,117.25 128.32,252.30 128.42,117.88 128.52,252.30 128.63,116.00 128.73,252.30 128.83,113.47 128.94,252.30 129.04,118.62 129.14,252.30 129.24,153.76 129.35,252.30 129.45,193.04 129.55,252.30 129.65,236.50 129.76,252.85 129.86,242.15 129.96,252.85 130.06,243.46 130.17,252.85 130.27,244.34 130.37,252.85 130.47,245.21 130.58,252.85 130.68,252.85 130.78,252.85 130.88,252.85 130.99,252.85 131.09,252.85 131.19,252.85 131.29,252.85 131.40,252.85 131.50,252.85 131.60,252.85 131.70,252.85 131.81,252.85 131.91,252.85 132.01,252.85 132.11,252.85 132.22,252.85 132.32,252.85 132.42,252.85 132.52,252.85 132.63,252.85 132.73,252.85 132.83,252.85 132.93,252.85 133.04,252.85 133.14,252.85 133.24,252.85 133.34,252.85 133.45,252.85 133.55,252.85 133.65,252.85 133.75,235.35 133.86,252.85 133.96,234.98 134.06,252.85 134.17,235.09 134.27,252.85 134.37,235.14 134.47,252.85 134.58,252.85 134.68,252.85 134.78,252.85 134.88,252.85 134.99,252.85 135.09,252.85 135.19,252.85 135.29,252.85 135.40,252.85 135.50,252.85 135.60,252.85 135.70,252.85 135.81,252.85 135.91,252.85 136.01,252.85 136.11,252.85 136.22,252.85 136.32,252.85 136.42,252.85 136.52,252.85 136.63,252.85 136.73,252.85 136.83,252.85 136.93,252.85 137.04,252.85 137.14,252.85 137.24,252.85 137.34,252.85 137.45,252.85 137.55,252.85 137.65,252.85 137.75,252.85 137.86,252.85 137.96,252.85 138.06,252.85 138.16,252.85 138.27,252.85 138.37,252.85 138.47,252.85 138.57,252.85 138.68,252.85 138.78,252.85 138.88,252.85 138.99,252.85 139.09,252.85 139.19,252.85 139.29,252.85 139.40,252.85 139.50,252.85 139.60,252.85 139.70,252.85 139.81,252.85 139.91,252.85 140.01,252.85 140.11,252.85 140.22,252.85 140.32,252.85 140.42,252.85 140.52,252.85 140.63,252.85 140.73,252.85 140.83,197.33 140.93,252.30 141.04,161.08 141.14,252.30 141.24,126.11 141.34,252.30 141.45,111.61 141.55,252.30 141.65,109.47 141.75,252.30 141.86,108.86 141.96,252.30 142.06,111.30 142.16,252.30 142.27,109.94 142.37,252.30 142.47,109.00 142.57,252.30 142.68,110.78 142.78,252.30 142.88,108.47 142.98,252.30 143.09,106.66 143.19,252.30 143.29,107.04 143.39,252.30 143.50,107.30 143.60,252.30 143.70,114.40 143.80,252.30 143.91,151.12 144.01,252.30 144.11,192.29 144.22,239.76 144.32,252.85 144.42,238.31 144.52,252.85 144.63,245.18 144.73,252.85 144.83,244.65 144.93,252.85 145.04,244.01 145.14,252.85 145.24,252.85 145.34,252.85 145.45,252.85 145.55,252.85 145.65,252.85 145.75,252.85 145.86,252.85 145.96,252.85 146.06,252.85 146.16,252.85 146.27,252.85 146.37,252.85 146.47,252.85 146.57,252.85 146.68,252.85 146.78,252.85 146.88,252.85 146.98,252.85 147.09,252.85 147.19,252.85 147.29,252.85 147.39,252.85 147.50,252.85 147.60,252.85 147.70,252.85 147.80,252.85 147.91,252.85 148.01,252.85 148.11,252.85 148.21,252.85 148.32,252.85 148.42,252.85 148.52,252.85 148.62,252.85 148.73,252.85 148.83,252.85 148.93,252.85 149.03,252.85 149.14,252.85 149.24,252.85 149.34,252.85 149.45,252.85 149.55,252.85 149.65,252.85 149.75,252.85 149.86,252.85 149.96,252.85 150.06,252.85 150.16,252.85 150.27,252.85 150.37,252.85 150.47,252.85 150.57,252.85 150.68,252.85 150.78,252.85 150.88,252.85 150.98,252.85 151.09,252.85 151.19,252.85 151.29,252.85 151.39,252.85 151.50,252.85 151.60,252.85 151.70,252.85 151.80,252.85 151.91,252.85 152.01,252.85 152.11,252.85 152.21,252.85 152.32,252.85 152.42,252.85 152.52,252.85 152.62,252.85 152.73,252.85 152.83,252.85 152.93,252.85 153.03,252.85 153.14,252.85 153.24,252.85 153.34,252.85 153.44,252.85 153.55,252.85 153.65,252.85 153.75,252.85 153.85,252.85 153.96,252.85 154.06,252.85 154.16,252.85 154.26,252.85 154.37,252.85 154.47,252.85 154.57,252.85 154.68,252.85 154.78,252.85 154.88,252.85 154.98,252.85 155.09,252.85 155.19,252.85 155.29,252.85 155.39,252.85 155.50,197.15 155.60,252.30 155.70,162.35 155.80,252.30 155.91,127.82 156.01,252.30 156.11,115.26 156.21,252.30 156.32,115.59 156.42,252.30 156.52,116.40 156.62,252.30 156.73,116.40 156.83,252.30 156.93,116.76 157.03,252.30 157.14,112.26 157.24,252.30 157.34,113.79 157.44,252.30 157.55,112.50 157.65,252.30 157.75,113.06 157.85,252.30 157.96,113.23 158.06,252.30 158.16,113.27 158.26,252.30 158.37,120.45 158.47,252.30 158.57,158.80 158.67,252.30 158.78,197.79 158.88,239.51 158.98,235.58 159.08,240.89 159.19,235.19 159.29,244.88 159.39,252.85 159.50,245.25 159.60,252.85 159.70,247.32 159.80,252.85 159.91,252.85 160.01,252.85 160.11,252.85 160.21,252.85 160.32,252.85 160.42,252.85 160.52,252.85 160.62,252.85 160.73,252.85 160.83,252.85 160.93,252.85 161.03,252.85 161.14,252.85 161.24,252.85 161.34,252.85 161.44,252.85 161.55,252.85 161.65,252.85 161.75,252.85 161.85,252.85 161.96,252.85 162.06,252.85 162.16,252.85 162.26,252.85 162.37,252.85 162.47,252.85 162.57,252.85 162.67,252.85 162.78,252.85 162.88,252.85 162.98,252.85 163.08,252.85 163.19,252.85 163.29,252.85 163.39,252.85 163.49,252.85 163.60,252.85 163.70,252.85 163.80,252.85 163.90,252.85 164.01,252.85 164.11,252.85 164.21,252.85 164.31,252.85 164.42,252.85 164.52,252.85 164.62,252.85 164.73,252.85 164.83,252.85 164.93,252.85 165.03,252.85 165.14,252.85 165.24,252.85 165.34,252.85 165.44,252.85 165.55,252.85 165.65,252.85 165.75,252.85 165.85,252.85 165.96,252.85 166.06,252.85 166.16,252.85 166.26,252.85 166.37,252.85 166.47,252.85 166.57,252.85 166.67,252.85 166.78,252.85 166.88,252.85 166.98,252.85 167.08,252.85 167.19,252.85 167.29,252.85 167.39,252.85 167.49,252.85 167.60,252.85 167.70,252.85 167.80,252.85 167.90,252.85 168.01,252.85 168.11,252.85 168.21,252.85 168.31,252.85 168.42,252.85 168.52,252.85 168.62,252.85 168.72,252.85 168.83,252.85 168.93,252.85 169.03,252.85 169.13,252.85 169.24,252.85 169.34,252.85 169.44,252.85 169.54,252.85 169.65,252.85 169.75,252.85 169.85,252.85 169.96,252.85 170.06,252.85 170.16,252.85 170.26,252.85 170.37,252.85 170.47,252.85 170.57,252.85 170.67,252.85 170.78,252.85 170.88,252.85 170.98,252.85 171.08,252.85 171.19,252.85 171.29,252.85 171.39,252.85 171.49,252.85 171.60,252.85 171.70,252.85 171.80,252.85 171.90,252.85 172.01,252.85 172.11,252.85 172.21,252.85 172.31,252.85 172.42,252.85 172.52,252.85 172.62,252.85 172.72,252.85 172.83,252.85 172.93,252.85 173.03,252.85 173.13,252.85 173.24,252.85 173.34,252.85 173.44,252.85 173.54,252.85 173.65,252.85 173.75,252.85 173.85,252.85 173.95,252.85 174.06,252.85 174.16,252.85 174.26,252.85 174.36,252.85 174.47,252.85 174.57,252.85 174.67,252.85 174.77,252.85 174.88,252.85 174.98,252.85 175.08,252.85 175.19,252.85 175.29,252.85 175.39,252.85 175.49,252.85 175.60,252.85 175.70,252.85 175.80,252.85 175.90,252.85 176.01,252.85 176.11,252.85 176.21,252.85 176.31,252.85 176.42,252.85 176.52,252.85 176.62,252.85 176.72,252.85 176.83,252.85 176.93,252.85 177.03,252.85 177.13,252.85 177.24,252.85 177.34,252.85 177.44,252.85 177.54,252.85 177.65,252.85 177.75,252.85 177.85,252.85 177.95,252.85 178.06,252.85 178.16,252.85 178.26,252.85 178.36,252.85 178.47,252.85 178.57,252.85 178.67,252.85 178.77,252.85 178.88,252.85 178.98,252.85 179.08,237.05 179.18,252.85 179.29,236.52 179.39,252.85 179.49,236.74 179.59,252.85 179.70,236.86 179.80,252.85 179.90,237.18 180.00,252.85 180.11,236.35 180.21,252.85 180.31,237.37 180.42,252.85 180.52,237.25 180.62,252.85 180.72,252.85 180.83,252.85 180.93,252.85 181.03,252.85 181.13,252.85 181.24,252.85 181.34,252.85 181.44,252.85 181.54,252.85 181.65,252.85 181.75,252.85 181.85,252.85 181.95,252.85 182.06,252.85 182.16,252.85 182.26,252.85 182.36,252.85 182.47,252.85 182.57,252.85 182.67,252.85 182.77,252.85 182.88,252.85 182.98,252.85 183.08,252.85 183.18,252.85 183.29,252.85 183.39,252.85 183.49,252.85 183.59,252.85 183.70,252.85 183.80,252.85 183.90,252.85 184.00,252.85 184.11,252.85 184.21,252.85 184.31,237.33 184.41,252.85 184.52,237.56 184.62,252.85 184.72,236.51 184.82,252.85 184.93,237.36 185.03,252.85 185.13,236.75 185.24,252.85 185.34,237.11 185.44,252.85 185.54,252.85 185.65,252.85 185.75,252.85 185.85,252.85 185.95,252.85 186.06,252.85 186.16,252.85 186.26,252.85 186.36,252.85 186.47,252.85 186.57,252.85 186.67,252.85 186.77,252.85 186.88,252.85 186.98,252.85 187.08,252.85 187.18,252.85 187.29,252.85 187.39,252.85 187.49,252.85 187.59,252.85 187.70,252.85 187.80,252.85 187.90,252.85 188.00,252.85 188.11,252.85 188.21,252.85 188.31,252.85 188.41,252.85 188.52,252.85 188.62,252.85 188.72,252.85 188.82,240.81 188.93,252.85 189.03,240.88 189.13,252.85 189.23,240.89 189.34,252.85 189.44,240.63 189.54,252.85 189.64,252.85 189.75,252.85 189.85,252.85 189.95,252.85 190.05,252.85 190.16,252.85 190.26,252.85 190.36,252.85 190.47,252.85 190.57,252.85 190.67,252.85 190.77,252.85 190.88,252.85 190.98,252.85 191.08,252.85 191.18,252.85 191.29,252.85 191.39,252.85 191.49,252.85 191.59,252.85 191.70,240.62 191.80,252.85 191.90,240.63 192.00,252.85 192.11,240.62 192.21,252.85 192.31,252.85 192.41,252.85 192.52,252.85 192.62,252.85 192.72,252.85 192.82,252.85 192.93,252.85 193.03,252.85 193.13,252.85 193.23,252.85 193.34,252.85 193.44,252.85 193.54,252.85 193.64,252.85 193.75,252.85 193.85,252.85 193.95,252.85 194.05,252.85 194.16,252.85 194.26,238.67 194.36,252.85 194.46,238.69 194.57,252.85 194.67,238.55 194.77,252.85 194.87,238.03 194.98,252.85 195.08,252.85 195.18,252.85 195.28,252.85 195.39,252.85 195.49,252.85 195.59,252.85 195.70,252.85 195.80,252.85 195.90,252.85 196.00,252.85 196.11,252.85 196.21,252.85 196.31,252.85 196.41,252.85 196.52,252.85 196.62,252.85 196.72,252.85 196.82,252.85 196.93,252.85 197.03,240.02 197.13,252.85 197.23,240.29 197.34,252.85 197.44,252.85 197.54,252.85 197.64,252.85 197.75,252.85 197.85,252.85 197.95,252.85 198.05,252.85 198.16,252.85 198.26,252.85 198.36,252.85 198.46,252.85 198.57,252.85 198.67,252.85 198.77,252.85 198.87,252.85 198.98,252.85 199.08,252.85 199.18,252.85 199.28,252.85 199.39,252.85 199.49,239.39 199.59,252.85 199.69,238.76 199.80,252.85 199.90,239.14 200.00,252.85 200.10,238.91 200.21,252.85 200.31,239.33 200.41,252.85 200.51,239.71 200.62,252.85 200.72,239.65 200.82,252.85 200.93,238.93 201.03,252.85 201.13,239.01 201.23,252.85 201.34,252.85 201.44,252.85 201.54,252.85 201.64,252.85 201.75,252.85 201.85,252.85 201.95,252.85 202.05,252.85 202.16,252.85 202.26,252.85 202.36,252.85 202.46,252.85 202.57,252.85 202.67,252.85 202.77,252.85 202.87,252.85 202.98,252.85 203.08,252.85 203.18,252.85 203.28,252.85 203.39,252.85 203.49,252.85 203.59,252.85 203.69,252.85 203.80,252.85 203.90,252.85 204.00,252.85 204.10,252.85 204.21,252.85 204.31,252.85 204.41,252.85 204.51,252.85 204.62,252.85 204.72,252.85 204.82,252.85 204.92,252.85 205.03,252.85 205.13,252.85 205.23,252.85 205.33,252.85 205.44,252.85 205.54,252.85 205.64,252.85 205.75,252.85 205.85,252.85 205.95,252.85 206.05,252.85 206.16,252.85 206.26,252.85 206.36,252.85 206.46,252.85 206.57,252.85 206.67,252.85 206.77,252.85 206.87,252.85 206.98,252.85 207.08,242.89 207.18,252.85 207.28,243.01 207.39,252.85 207.49,243.02 207.59,252.85 207.69,252.85 207.80,252.85 207.90,252.85 208.00,252.85 208.10,252.85 208.21,252.85 208.31,252.85 208.41,252.85 208.51,252.85 208.62,252.85 208.72,252.85 208.82,252.85 208.92,252.85 209.03,252.85 209.13,252.85 209.23,252.85 209.33,252.85 209.44,252.85 209.54,252.85 209.64,243.90 209.74,252.85 209.85,244.07 209.95,252.85 210.05,244.00 210.15,252.85 210.26,243.92 210.36,252.85 210.46,244.25 210.56,252.85 210.67,243.91 210.77,252.85 210.87,252.85 210.98,252.85 211.08,252.85 211.18,252.85 211.28,252.85 211.39,252.85 211.49,252.85 211.59,252.85 211.69,252.85 211.80,252.85 211.90,252.85 212.00,252.85 212.10,252.85 212.21,252.85 212.31,252.85 212.41,252.85 212.51,252.85 212.62,252.85 212.72,252.85 212.82,252.85 212.92,252.85 213.03,252.85 213.13,252.85 213.23,252.85 213.33,252.85 213.44,252.85 213.54,252.85 213.64,252.85 213.74,252.85 213.85,252.85 213.95,252.85 214.05,202.37 214.15,252.30 214.26,167.75 214.36,252.30 214.46,133.55 214.56,252.30 214.67,112.91 214.77,252.30 214.87,111.85 214.97,252.30 215.08,112.21 215.18,252.30 215.28,111.26 215.38,252.30 215.49,109.59 215.59,252.30 215.69,110.83 215.79,252.30 215.90,109.54 216.00,252.30 216.10,110.62 216.21,252.30 216.31,108.38 216.41,252.30 216.51,109.14 216.62,252.30 216.72,109.76 216.82,252.30 216.92,106.11 217.03,252.30 217.13,148.59 217.23,252.30 217.33,186.60 217.44,252.30 217.54,240.37 217.64,252.85 217.74,237.69 217.85,252.85 217.95,240.38 218.05,252.85 218.15,246.69 218.26,252.85 218.36,248.18 218.46,252.85 218.56,252.85 218.67,252.85 218.77,252.85 218.87,252.85 218.97,252.85 219.08,252.85 219.18,252.85 219.28,252.85 219.38,252.85 219.49,252.85 219.59,252.85 219.69,252.85 219.79,252.85 219.90,252.85 220.00,252.85 220.10,252.85 220.20,252.85 220.31,252.85 220.41,252.85 220.51,252.85 220.61,252.85 220.72,252.85 220.82,252.85 220.92,252.85 221.03,252.85 221.13,252.85 221.23,252.85 221.33,252.85 221.44,252.85 221.54,252.85 221.64,252.85 221.74,252.85 221.85,252.85 221.95,252.85 222.05,252.85 222.15,252.85 222.26,252.85 222.36,252.85 222.46,252.85 222.56,252.85 222.67,252.85 222.77,252.85 222.87,252.85 222.97,252.85 223.08,252.85 223.18,252.85 223.28,252.85 223.38,252.85 223.49,252.85 223.59,252.85 223.69,252.85 223.79,252.85 223.90,252.85 224.00,252.85 224.10,236.27 224.20,252.85 224.31,236.82 224.41,252.85 224.51,236.40 224.61,252.85 224.72,236.70 224.82,252.85 224.92,235.81 225.02,252.85 225.13,236.19 225.23,252.85 225.33,236.23 225.43,252.85 225.54,235.80 225.64,252.85 225.74,236.88 225.84,252.85 225.95,236.89 226.05,252.85 226.15,252.85 226.26,252.85 226.36,252.85 226.46,252.85 226.56,252.85 226.67,252.85 226.77,252.85 226.87,252.85 226.97,252.85 227.08,252.85 227.18,252.85 227.28,252.85 227.38,252.85 227.49,252.85 227.59,252.85 227.69,252.85 227.79,252.85 227.90,252.85 228.00,252.85 228.10,252.85 228.20,252.85 228.31,252.85 228.41,252.85 228.51,252.85 228.61,252.85 228.72,201.00 228.82,252.30 228.92,167.76 229.02,252.30 229.13,130.75 229.23,252.30 229.33,116.01 229.43,252.30 229.54,113.40 229.64,252.30 229.74,115.18 229.84,252.30 229.95,112.13 230.05,252.30 230.15,112.76 230.25,252.30 230.36,112.12 230.46,252.30 230.56,112.25 230.66,252.30 230.77,113.69 230.87,252.30 230.97,111.91 231.07,252.30 231.18,109.61 231.28,252.30 231.38,110.77 231.49,252.30 231.59,114.67 231.69,252.30 231.79,152.49 231.90,252.30 232.00,191.22 232.10,252.30 232.20,241.33 232.31,252.85 232.41,243.75 232.51,252.85 232.61,243.05 232.72,252.85 232.82,245.19 232.92,252.85 233.02,245.66 233.13,252.85 233.23,252.85 233.33,252.85 233.43,252.85 233.54,252.85 233.64,238.16 233.74,252.85 233.84,238.17 233.95,252.85 234.05,238.83 234.15,252.85 234.25,238.49 234.36,252.85 234.46,238.17 234.56,252.85 234.66,238.43 234.77,252.85 234.87,238.35 234.97,252.85 235.07,238.45 235.18,252.85 235.28,252.85 235.38,252.85 235.48,252.85 235.59,252.85 235.69,252.85 235.79,252.85 235.89,252.85 236.00,252.85 236.10,252.85 236.20,252.85 236.30,252.85 236.41,252.85 236.51,252.85 236.61,252.85 236.72,252.85 236.82,252.85 236.92,252.85 237.02,252.85 237.13,252.85 237.23,252.85 237.33,252.85 237.43,252.85 237.54,252.85 237.64,252.85 237.74,252.85 237.84,252.85 237.95,252.85 238.05,252.85 238.15,252.85 238.25,252.85 238.36,252.85 238.46,252.85 238.56,252.85 238.66,252.85 238.77,252.85 238.87,252.85 238.97,252.85 239.07,252.85 239.18,252.85 239.28,252.85 239.38,252.85 239.48,252.85 239.59,252.85 239.69,252.85 239.79,252.85 239.89,252.85 240.00,252.85 240.10,252.85 240.20,252.85 240.30,252.85 240.41,252.85 240.51,252.85 240.61,252.85 240.71,252.85 240.82,252.85 240.92,252.85 241.02,252.85 241.12,252.85 241.23,252.85 241.33,252.85 241.43,252.85 241.54,237.57 241.64,252.85 241.74,237.03 241.84,252.85 241.95,236.97 242.05,252.85 242.15,237.63 242.25,252.85 242.36,236.76 242.46,252.85 242.56,252.85 242.66,252.85 242.77,252.85 242.87,252.85 242.97,252.85 243.07,252.85 243.18,252.85 243.28,252.85 243.38,200.65 243.48,252.30 243.59,168.01 243.69,252.30 243.79,135.89 243.89,252.30 244.00,122.67 244.10,252.30 244.20,121.30 244.30,252.30 244.41,119.91 244.51,252.30 244.61,120.96 244.71,252.30 244.82,118.92 244.92,252.30 245.02,121.36 245.12,252.30 245.23,117.39 245.33,252.30 245.43,120.05 245.53,252.30 245.64,118.99 245.74,252.30 245.84,116.81 245.94,252.30 246.05,117.96 246.15,252.30 246.25,122.38 246.35,252.30 246.46,159.56 246.56,252.30 246.66,196.96 246.77,236.56 246.87,252.85 246.97,237.06 247.07,252.85 247.18,245.07 247.28,252.85 247.38,242.28 247.48,252.85 247.59,246.37 247.69,252.85 247.79,252.85 247.89,252.85 248.00,252.85 248.10,252.85 248.20,236.61 248.30,252.85 248.41,236.08 248.51,252.85 248.61,236.21 248.71,252.85 248.82,236.49 248.92,252.85 249.02,236.96 249.12,252.85 249.23,236.30 249.33,252.85 249.43,252.85 249.53,252.85 249.64,252.85 249.74,252.85 249.84,252.85 249.94,252.85 250.05,252.85 250.15,252.85 250.25,252.85 250.35,252.85 250.46,252.85 250.56,252.85 250.66,252.85 250.76,252.85 250.87,252.85 250.97,252.85 251.07,252.85 251.17,252.85 251.28,252.85 251.38,252.85 251.48,252.85 251.58,252.85 251.69,252.85 251.79,252.85 251.89,252.85 252.00,252.85 252.10,252.85 252.20,252.85 252.30,252.85 252.41,252.85 252.51,252.85 252.61,252.85 252.71,252.85 252.82,252.85 252.92,252.85 253.02,252.85 253.12,252.85 253.23,252.85 253.33,252.85 253.43,252.85 253.53,252.85 253.64,252.85 253.74,252.85 253.84,252.85 253.94,252.85 254.05,252.85 254.15,252.85 254.25,252.85 254.35,252.85 254.46,252.85 254.56,252.85 254.66,252.85 254.76,252.85 254.87,252.85 254.97,237.11 255.07,252.85 255.17,236.78 255.28,252.85 255.38,236.74 255.48,252.85 255.58,236.64 255.69,252.85 255.79,252.85 255.89,252.85 255.99,252.85 256.10,252.85 256.20,252.85 256.30,252.85 256.40,252.85 256.51,252.85 256.61,252.85 256.71,252.85 256.81,252.85 256.92,252.85 257.02,252.85 257.12,252.85 257.23,252.85 257.33,252.85 257.43,252.85 257.53,252.85 257.64,252.85 257.74,252.85 257.84,252.85 257.94,252.85 258.05,197.84 258.15,252.30 258.25,165.23 258.35,252.30 258.46,130.91 258.56,252.30 258.66,120.05 258.76,252.30 258.87,119.14 258.97,252.30 259.07,117.98 259.17,252.30 259.28,117.18 259.38,252.30 259.48,118.67 259.58,252.30 259.69,116.48 259.79,252.30 259.89,115.06 259.99,252.30 260.10,115.06 260.20,252.30 260.30,116.05 260.40,252.30 260.51,114.52 260.61,252.30 260.71,115.37 260.81,252.30 260.92,124.38 261.02,252.30 261.12,161.58 261.22,252.30 261.33,198.28 261.43,237.74 261.53,238.05 261.63,240.92 261.74,238.26 261.84,238.51 261.94,238.82 262.05,244.07 262.15,238.59 262.25,245.07 262.35,238.31 262.46,252.85 262.56,238.00 262.66,252.85 262.76,238.30 262.87,252.85 262.97,238.25 263.07,252.85 263.17,252.85 263.28,252.85 263.38,252.85 263.48,252.85 263.58,252.85 263.69,252.85 263.79,252.85 263.89,252.85 263.99,252.85 264.10,252.85 264.20,252.85 264.30,252.85 264.40,252.85 264.51,252.85 264.61,252.85 264.71,252.85 264.81,252.85 264.92,252.85 265.02,252.85 265.12,252.85 265.22,252.85 265.33,252.85 265.43,252.85 265.53,252.85 265.63,252.85 265.74,252.85 265.84,252.85 265.94,252.85 266.04,252.85 266.15,252.85 266.25,252.85 266.35,252.85 266.45,252.85 266.56,252.85 266.66,252.85 266.76,252.85 266.86,252.85 266.97,252.85 267.07,252.85 267.17,252.85 267.28,252.85 267.38,252.85 267.48,252.85 267.58,252.85 267.69,252.85 267.79,252.85 267.89,252.85 267.99,252.85 268.10,252.85 268.20,233.96 268.30,252.85 268.40,234.25 268.51,252.85 268.61,234.29 268.71,252.85 268.81,234.02 268.92,252.85 269.02,234.83 269.12,252.85 269.22,235.11 269.33,252.85 269.43,235.13 269.53,252.85 269.63,252.85 269.74,252.85 269.84,252.85 269.94,252.85 270.04,252.85 270.15,252.85 270.25,252.85 270.35,252.85 270.45,252.85 270.56,252.85 270.66,252.85 270.76,252.85 270.86,252.85 270.97,252.85 271.07,252.85 271.17,252.85 271.27,252.85 271.38,252.85 271.48,252.85 271.58,252.85 271.68,252.85 271.79,252.85 271.89,252.85 271.99,252.85 272.09,252.85 272.20,252.85 272.30,252.85 272.40,252.85 272.51,252.85 272.61,252.85 272.71,196.16 272.81,252.30 272.92,162.76 273.02,252.30 273.12,128.68 273.22,252.30 273.33,118.86 273.43,252.30 273.53,120.65 273.63,252.30 273.74,119.44 273.84,252.30 273.94,119.46 274.04,252.30 274.15,119.46 274.25,252.30 274.35,118.04 274.45,252.30 274.56,118.79 274.66,252.30 274.76,118.34 274.86,252.30 274.97,117.48 275.07,252.30 275.17,117.25 275.27,252.30 275.38,116.79 275.48,252.30 275.58,128.05 275.68,252.30 275.79,165.30 275.89,252.30 275.99,202.04 276.09,237.27 276.20,252.85 276.30,238.97 276.40,252.85 276.50,240.08 276.61,252.85 276.71,241.95 276.81,252.85 276.91,244.80 277.02,252.85 277.12,252.85 277.22,252.85 277.32,252.85 277.43,252.85 277.53,252.85 277.63,252.85 277.74,252.85 277.84,252.85 277.94,252.85 278.04,252.85 278.15,252.85 278.25,252.85 278.35,252.85 278.45,252.85 278.56,252.85 278.66,252.85 278.76,252.85 278.86,252.85 278.97,252.85 279.07,252.85 279.17,252.85 279.27,252.85 279.38,252.85 279.48,252.85 279.58,252.85 279.68,252.85 279.79,252.85 279.89,252.85 279.99,252.85 280.09,252.85 280.20,252.85 280.30,252.85 280.40,252.85 280.50,252.85 280.61,252.85 280.71,252.85 280.81,252.85 280.91,252.85 281.02,252.85 281.12,252.85 281.22,252.85 281.32,237.03 281.43,252.85 281.53,236.60 281.63,252.85 281.73,237.14 281.84,252.85 281.94,236.40 282.04,252.85 282.14,237.11 282.25,252.85 282.35,237.07 282.45,252.85 282.56,237.37 282.66,252.85 282.76,252.85 282.86,252.85 282.97,252.85 283.07,252.85 283.17,252.85 283.27,252.85 283.38,252.85 283.48,252.85 283.58,252.85 283.68,252.85 283.79,252.85 283.89,252.85 283.99,252.85 284.09,252.85 284.20,252.85 284.30,252.85 284.40,252.85 284.50,252.85 284.61,252.85 284.71,252.85 284.81,252.85 284.91,252.85 285.02,252.85 285.12,252.85 285.22,252.85 285.32,252.85 285.43,252.85 285.53,238.00 285.63,252.85 285.73,238.89 285.84,252.85 285.94,238.95 286.04,252.85 286.14,238.51 286.25,252.85 286.35,238.35 286.45,252.85 286.55,252.85 286.66,252.85 286.76,252.85 286.86,252.85 286.96,252.85 287.07,252.85 287.17,252.85 287.27,252.85 287.37,252.85 287.48,252.85 287.58,252.85 287.68,252.85 287.79,252.85 287.89,252.85 287.99,252.85 288.09,252.85 288.20,252.85 288.30,252.85 288.40,252.85 288.50,252.85 288.61,234.98 288.71,252.85 288.81,235.17 288.91,252.85 289.02,235.19 289.12,252.85 289.22,236.00 289.32,252.85 289.43,235.49 289.53,252.85 289.63,234.93 289.73,252.85 289.84,236.08 289.94,252.85 290.04,235.70 290.14,252.85 290.25,235.29 290.35,252.85 290.45,235.29 290.55,252.85 290.66,252.85 290.76,252.85 290.86,252.85 290.96,252.85 291.07,252.85 291.17,252.85 291.27,252.85 291.37,252.85 291.48,252.85 291.58,252.85 291.68,252.85 291.78,252.85 291.89,252.85 291.99,252.85 292.09,252.85 292.19,252.85 292.30,252.85 292.40,252.85 292.50,252.85 292.60,252.85 292.71,252.85 292.81,252.85 292.91,252.85 293.02,252.85 293.12,252.85 293.22,252.85 293.32,252.85 293.43,252.85 293.53,252.85 293.63,252.85 293.73,252.85 293.84,252.85 293.94,252.85 294.04,252.85 294.14,234.88 294.25,252.85 294.35,235.11 294.45,252.85 294.55,234.07 294.66,252.85 294.76,234.58 294.86,252.85 294.96,235.05 295.07,252.85 295.17,234.73 295.27,252.85 295.37,252.85 295.48,252.85 295.58,252.85 295.68,252.85 295.78,252.85 295.89,252.85 295.99,252.85 296.09,252.85 296.19,252.85 296.30,252.85 296.40,252.85 296.50,252.85 296.60,252.85 296.71,252.85 296.81,252.85 296.91,252.85 297.01,252.85 297.12,252.85 297.22,252.85 297.32,237.73 297.42,252.85 297.53,237.53 297.63,252.85 297.73,236.89 297.83,252.85 297.94,237.26 298.04,252.85 298.14,237.00 298.25,252.85 298.35,236.81 298.45,252.85 298.55,237.18 298.66,252.85 298.76,237.20 298.86,252.85 298.96,237.66 299.07,252.85 299.17,252.85 299.27,252.85 299.37,252.85 299.48,252.85 299.58,252.85 299.68,252.85 299.78,252.85 299.89,252.85 299.99,252.85 300.09,252.85 300.19,252.85 300.30,252.85 300.40,252.85 300.50,252.85 300.60,252.85 300.71,252.85 300.81,252.85 300.91,252.85 301.01,252.85 301.12,235.39 301.22,252.85 301.32,235.38 301.42,252.85 301.53,235.93 301.63,252.85 301.73,235.48 301.83,252.85 301.94,235.37 302.04,252.85 302.14,235.32 302.24,252.85 302.35,235.30 302.45,252.85 302.55,236.28 302.65,252.85 302.76,252.85 302.86,252.85 302.96,252.85 303.07,252.85 303.17,252.85 303.27,252.85 303.37,252.85 303.48,252.85 303.58,252.85 303.68,252.85 303.78,252.85 303.89,252.85 303.99,252.85 304.09,252.85 304.19,252.85 304.30,252.85 304.40,252.85 304.50,252.85" fill="none" stroke="#0000ff" stroke-width="1.3" stroke-linejoin="round"/>
<polyline points="454.80,252.85 454.87,252.85 454.94,252.85 455.01,252.85 455.08,252.85 455.15,252.85 455.22,252.85 455.29,252.85 455.36,252.85 455.43,252.85 455.51,252.85 455.58,252.85 455.65,252.85 455.72,252.85 455.79,252.85 455.86,252.85 455.93,252.85 456.00,252.85 456.07,252.85 456.14,252.85 456.21,252.85 456.28,252.85 456.35,252.85 456.42,252.85 456.49,252.85 456.56,252.85 456.63,252.85 456.70,252.85 456.77,252.85 456.84,252.85 456.92,252.85 456.99,252.85 457.06,252.85 457.13,252.85 457.20,252.85 457.27,252.85 457.34,252.85 457.41,252.85 457.48,252.85 457.55,252.85 457.62,252.85 457.69,252.85 457.76,252.85 457.83,252.85 457.90,252.85 457.97,252.85 458.04,252.85 458.11,252.85 458.18,252.85 458.26,252.85 458.33,252.85 458.40,252.85 458.47,252.85 458.54,252.85 458.61,252.85 458.68,252.85 458.75,252.85 458.82,252.85 458.89,252.85 458.96,252.85 459.03,252.85 459.10,252.85 459.17,252.85 459.24,252.85 459.31,252.85 459.38,252.85 459.45,252.85 459.52,252.85 459.59,252.85 459.67,252.85 459.74,252.85 459.81,252.85 459.88,252.85 459.95,252.85 460.02,252.85 460.09,252.85 460.16,252.85 460.23,252.85 460.30,252.85 460.37,252.85 460.44,247.30 460.51,247.22 460.58,241.89 460.65,245.02 460.72,246.64 460.79,242.51 460.86,249.58 460.93,246.01 461.01,242.30 461.08,242.17 461.15,237.05 461.22,247.28 461.29,245.72 461.36,228.39 461.43,240.63 461.50,234.08 461.57,226.79 461.64,238.79 461.71,229.20 461.78,235.39 461.85,236.52 461.92,239.46 461.99,244.44 462.06,226.93 462.13,226.54 462.20,221.30 462.27,237.17 462.35,240.13 462.42,231.04 462.49,240.03 462.56,233.02 462.63,241.04 462.70,224.29 462.77,245.76 462.84,228.17 462.91,238.72 462.98,242.48 463.05,224.89 463.12,235.75 463.19,217.34 463.26,216.59 463.33,214.77 463.40,221.91 463.47,217.71 463.54,234.92 463.61,238.30 463.68,237.69 463.76,234.12 463.83,243.04 463.90,213.84 463.97,208.50 464.04,237.31 464.11,245.66 464.18,240.01 464.25,230.64 464.32,212.88 464.39,230.29 464.46,230.25 464.53,231.43 464.60,210.87 464.67,223.56 464.74,216.63 464.81,219.15 464.88,244.47 464.95,214.07 465.02,227.87 465.10,207.59 465.17,228.09 465.24,230.96 465.31,210.17 465.38,226.82 465.45,213.05 465.52,213.66 465.59,210.41 465.66,203.60 465.73,214.45 465.80,230.50 465.87,220.01 465.94,231.75 466.01,235.48 466.08,227.51 466.15,234.82 466.22,200.02 466.29,215.79 466.36,207.88 466.43,231.24 466.51,208.01 466.58,220.44 466.65,219.98 466.72,215.25 466.79,228.62 466.86,210.07 466.93,213.44 467.00,224.26 467.07,205.31 467.14,231.39 467.21,231.78 467.28,206.11 467.35,223.27 467.42,221.58 467.49,234.83 467.56,202.87 467.63,216.81 467.70,235.69 467.77,202.72 467.85,225.08 467.92,204.73 467.99,223.98 468.06,231.26 468.13,208.53 468.20,206.99 468.27,196.53 468.34,207.12 468.41,217.15 468.48,200.17 468.55,228.51 468.62,230.48 468.69,222.81 468.76,213.18 468.83,217.44 468.90,197.94 468.97,206.34 469.04,221.01 469.11,229.04 469.18,208.69 469.26,195.46 469.33,215.39 469.40,199.65 469.47,229.29 469.54,224.29 469.61,199.94 469.68,229.54 469.75,218.98 469.82,216.34 469.89,204.86 469.96,205.05 470.03,223.74 470.10,211.47 470.17,217.47 470.24,198.07 470.31,209.61 470.38,228.53 470.45,206.20 470.52,232.53 470.60,200.12 470.67,221.78 470.74,222.01 470.81,209.89 470.88,214.35 470.95,206.52 471.02,211.12 471.09,224.97 471.16,234.16 471.23,242.65 471.30,226.17 471.37,217.66 471.44,199.88 471.51,224.61 471.58,215.68 471.65,234.10 471.72,213.40 471.79,204.79 471.86,239.81 471.94,199.31 472.01,218.02 472.08,227.98 472.15,216.62 472.22,238.15 472.29,223.89 472.36,216.69 472.43,238.17 472.50,236.44 472.57,212.15 472.64,235.39 472.71,232.58 472.78,235.56 472.85,225.04 472.92,241.49 472.99,235.35 473.06,234.14 473.13,235.45 473.20,236.64 473.27,229.38 473.35,216.31 473.42,238.43 473.49,243.07 473.56,249.25 473.63,207.49 473.70,240.75 473.77,225.35 473.84,237.28 473.91,225.12 473.98,243.11 474.05,221.98 474.12,225.77 474.19,232.46 474.26,234.06 474.33,215.99 474.40,211.55 474.47,228.83 474.54,234.31 474.61,225.39 474.69,247.72 474.76,218.93 474.83,230.20 474.90,225.57 474.97,221.47 475.04,241.95 475.11,222.71 475.18,224.40 475.25,223.57 475.32,220.34 475.39,236.11 475.46,231.80 475.53,238.68 475.60,239.84 475.67,225.63 475.74,243.59 475.81,243.56 475.88,230.54 475.95,228.76 476.02,239.56 476.10,217.51 476.17,233.11 476.24,225.74 476.31,251.33 476.38,236.81 476.45,241.37 476.52,225.50 476.59,234.74 476.66,234.14 476.73,216.53 476.80,223.53 476.87,247.25 476.94,206.17 477.01,237.15 477.08,234.79 477.15,252.85 477.22,245.65 477.29,234.13 477.36,222.25 477.44,232.69 477.51,244.08 477.58,240.70 477.65,251.78 477.72,240.45 477.79,238.81 477.86,250.66 477.93,251.08 478.00,250.43 478.07,247.67 478.14,248.22 478.21,223.67 478.28,240.22 478.35,234.89 478.42,239.61 478.49,231.62 478.56,245.21 478.63,251.79 478.70,226.40 478.77,237.24 478.85,241.99 478.92,218.28 478.99,244.42 479.06,226.24 479.13,232.26 479.20,228.38 479.27,233.34 479.34,220.11 479.41,218.75 479.48,220.62 479.55,224.92 479.62,247.49 479.69,229.80 479.76,222.94 479.83,227.61 479.90,237.02 479.97,220.56 480.04,241.66 480.11,241.73 480.19,242.59 480.26,247.45 480.33,237.86 480.40,232.76 480.47,237.77 480.54,247.68 480.61,218.61 480.68,235.85 480.75,228.84 480.82,219.42 480.89,241.86 480.96,243.14 481.03,219.28 481.10,226.68 481.17,230.87 481.24,235.44 481.31,238.18 481.38,215.23 481.45,223.98 481.52,244.22 481.60,238.81 481.67,228.02 481.74,239.67 481.81,228.52 481.88,236.14 481.95,248.26 482.02,244.27 482.09,219.10 482.16,218.56 482.23,239.58 482.30,246.35 482.37,246.26 482.44,235.85 482.51,227.21 482.58,221.01 482.65,215.14 482.72,223.36 482.79,214.65 482.86,227.80 482.94,231.52 483.01,242.16 483.08,242.85 483.15,223.46 483.22,221.05 483.29,237.76 483.36,230.58 483.43,214.90 483.50,232.10 483.57,212.58 483.64,222.23 483.71,220.57 483.78,217.03 483.85,251.83 483.92,228.66 483.99,244.57 484.06,235.89 484.13,237.51 484.20,218.63 484.28,228.83 484.35,217.65 484.42,239.01 484.49,218.43 484.56,229.69 484.63,222.13 484.70,224.31 484.77,239.46 484.84,247.01 484.91,219.68 484.98,229.54 485.05,221.52 485.12,239.54 485.19,232.64 485.26,240.32 485.33,215.01 485.40,245.77 485.47,240.85 485.54,249.38 485.61,230.22 485.69,238.12 485.76,227.26 485.83,213.71 485.90,235.03 485.97,230.06 486.04,252.85 486.11,252.85 486.18,252.85 486.25,252.85 486.32,252.85 486.39,252.85 486.46,252.85 486.53,252.85 486.60,252.85 486.67,252.85 486.74,252.85 486.81,252.85 486.88,252.85 486.95,252.85 487.03,252.85 487.10,252.85 487.17,252.85 487.24,252.85 487.31,252.85 487.38,252.85 487.45,252.85 487.52,252.85 487.59,252.85 487.66,252.85 487.73,252.85 487.80,252.85 487.87,252.85 487.94,252.85 488.01,252.85 488.08,252.85 488.15,252.85 488.22,252.85 488.29,252.85 488.36,252.85 488.44,252.85 488.51,252.85 488.58,252.85 488.65,252.85 488.72,252.85 488.79,252.85 488.86,252.85 488.93,252.85 489.00,252.85 489.07,252.85 489.14,252.85 489.21,252.85 489.28,252.85 489.35,252.85 489.42,252.85 489.49,252.85 489.56,252.85 489.63,252.85 489.70,252.85 489.78,252.85 489.85,252.85 489.92,252.85 489.99,252.85 490.06,252.85 490.13,252.85 490.20,252.85 490.27,252.85 490.34,252.85 490.41,252.85 490.48,252.85 490.55,252.85 490.62,252.85 490.69,252.85 490.76,252.85 490.83,252.85 490.90,252.85 490.97,252.85 491.04,252.85 491.11,252.85 491.19,252.85 491.26,252.85 491.33,252.85 491.40,252.85 491.47,252.85 491.54,252.85 491.61,252.85 491.68,252.85 491.75,252.85 491.82,252.85 491.89,252.85 491.96,252.85 492.03,252.85 492.10,233.59 492.17,218.09 492.24,222.87 492.31,206.97 492.38,211.82 492.45,232.04 492.53,221.03 492.60,218.66 492.67,217.62 492.74,224.42 492.81,222.36 492.88,228.98 492.95,208.98 493.02,205.33 493.09,250.84 493.16,208.74 493.23,212.90 493.30,240.23 493.37,212.69 493.44,202.08 493.51,237.41 493.58,229.01 493.65,217.94 493.72,216.63 493.79,222.22 493.87,224.15 493.94,211.88 494.01,233.74 494.08,232.74 494.15,218.29 494.22,197.03 494.29,222.66 494.36,215.25 494.43,236.43 494.50,222.26 494.57,204.60 494.64,223.62 494.71,229.54 494.78,236.45 494.85,215.85 494.92,209.53 494.99,236.38 495.06,229.18 495.13,235.95 495.20,220.19 495.28,236.25 495.35,233.17 495.42,212.10 495.49,236.61 495.56,198.50 495.63,219.99 495.70,229.67 495.77,206.35 495.84,201.22 495.91,225.10 495.98,227.90 496.05,208.57 496.12,204.77 496.19,236.19 496.26,208.71 496.33,200.97 496.40,196.67 496.47,219.79 496.54,217.54 496.62,210.42 496.69,196.38 496.76,196.60 496.83,230.90 496.90,194.05 496.97,213.84 497.04,199.65 497.11,207.27 497.18,208.06 497.25,221.09 497.32,203.33 497.39,209.97 497.46,221.55 497.53,219.04 497.60,225.67 497.67,205.65 497.74,216.16 497.81,227.02 497.88,217.33 497.95,211.18 498.03,223.29 498.10,208.76 498.17,226.65 498.24,224.47 498.31,236.66 498.38,227.77 498.45,217.34 498.52,204.03 498.59,199.80 498.66,200.00 498.73,216.50 498.80,239.62 498.87,232.22 498.94,227.17 499.01,206.59 499.08,232.01 499.15,204.66 499.22,221.02 499.29,227.89 499.37,216.19 499.44,209.72 499.51,214.27 499.58,238.56 499.65,205.89 499.72,241.48 499.79,209.64 499.86,235.19 499.93,195.60 500.00,202.29 500.07,213.60 500.14,225.40 500.21,247.61 500.28,226.42 500.35,247.09 500.42,231.14 500.49,233.24 500.56,232.51 500.63,210.50 500.70,237.71 500.78,245.34 500.85,209.39 500.92,240.95 500.99,240.39 501.06,244.57 501.13,203.43 501.20,225.61 501.27,217.76 501.34,208.18 501.41,215.67 501.48,239.13 501.55,215.64 501.62,224.77 501.69,242.38 501.76,205.93 501.83,212.04 501.90,226.52 501.97,246.90 502.04,219.87 502.12,234.10 502.19,236.12 502.26,203.34 502.33,209.30 502.40,236.02 502.47,223.94 502.54,219.80 502.61,242.35 502.68,242.11 502.75,206.46 502.82,216.81 502.89,226.36 502.96,209.89 503.03,222.54 503.10,242.01 503.17,222.00 503.24,210.93 503.31,226.22 503.38,225.17 503.46,243.79 503.53,207.34 503.60,247.02 503.67,230.96 503.74,231.67 503.81,229.54 503.88,202.81 503.95,233.65 504.02,211.91 504.09,203.53 504.16,244.93 504.23,239.12 504.30,211.60 504.37,204.72 504.44,238.81 504.51,226.95 504.58,214.58 504.65,235.44 504.72,209.84 504.79,205.97 504.87,200.67 504.94,220.28 505.01,237.22 505.08,228.71 505.15,238.63 505.22,238.44 505.29,229.52 505.36,233.93 505.43,218.99 505.50,230.11 505.57,204.62 505.64,203.91 505.71,194.43 505.78,212.47 505.85,192.86 505.92,198.09 505.99,220.23 506.06,194.45 506.13,186.11 506.21,204.39 506.28,188.65 506.35,198.29 506.42,192.99 506.49,202.32 506.56,185.01 506.63,211.00 506.70,195.50 506.77,214.34 506.84,214.18 506.91,223.93 506.98,234.28 507.05,218.35 507.12,223.25 507.19,196.81 507.26,206.81 507.33,198.37 507.40,195.05 507.47,201.94 507.54,207.47 507.62,209.25 507.69,215.40 507.76,191.43 507.83,187.61 507.90,192.24 507.97,192.97 508.04,191.02 508.11,217.60 508.18,210.56 508.25,208.03 508.32,190.55 508.39,198.40 508.46,186.42 508.53,206.31 508.60,190.98 508.67,205.42 508.74,189.99 508.81,162.24 508.88,183.35 508.96,230.97 509.03,224.25 509.10,226.98 509.17,202.26 509.24,204.82 509.31,200.95 509.38,183.21 509.45,188.87 509.52,204.82 509.59,198.20 509.66,196.38 509.73,193.03 509.80,190.72 509.87,189.66 509.94,217.37 510.01,194.53 510.08,221.45 510.15,198.48 510.22,194.57 510.29,225.85 510.37,189.00 510.44,218.11 510.51,213.51 510.58,217.19 510.65,220.90 510.72,206.30 510.79,209.10 510.86,199.35 510.93,226.93 511.00,211.97 511.07,203.94 511.14,211.15 511.21,223.42 511.28,217.63 511.35,206.10 511.42,224.87 511.49,187.86 511.56,192.14 511.63,209.93 511.71,223.03 511.78,198.98 511.85,230.11 511.92,207.34 511.99,230.30 512.06,205.65 512.13,228.15 512.20,194.04 512.27,233.53 512.34,225.44 512.41,223.94 512.48,192.78 512.55,225.05 512.62,227.24 512.69,209.40 512.76,223.76 512.83,195.36 512.90,199.65 512.97,190.02 513.04,188.46 513.12,213.43 513.19,188.28 513.26,230.80 513.33,199.54 513.40,219.00 513.47,199.07 513.54,209.80 513.61,188.85 513.68,224.72 513.75,206.96 513.82,199.67 513.89,178.36 513.96,205.28 514.03,219.36 514.10,175.63 514.17,177.12 514.24,185.35 514.31,195.57 514.38,219.09 514.46,203.51 514.53,203.93 514.60,203.15 514.67,192.68 514.74,190.75 514.81,179.22 514.88,213.11 514.95,190.54 515.02,221.89 515.09,180.20 515.16,221.02 515.23,163.62 515.30,213.06 515.37,205.85 515.44,192.56 515.51,195.54 515.58,204.02 515.65,196.44 515.72,213.03 515.80,181.33 515.87,179.78 515.94,203.61 516.01,178.61 516.08,212.98 516.15,175.28 516.22,174.05 516.29,197.78 516.36,186.34 516.43,198.32 516.50,191.08 516.57,179.34 516.64,207.78 516.71,213.48 516.78,205.11 516.85,188.21 516.92,194.13 516.99,183.22 517.06,169.88 517.13,207.90 517.21,212.92 517.28,178.23 517.35,202.24 517.42,181.90 517.49,210.89 517.56,178.14 517.63,197.02 517.70,225.26 517.77,180.15 517.84,189.78 517.91,205.96 517.98,200.79 518.05,199.31 518.12,184.37 518.19,200.45 518.26,210.69 518.33,191.23 518.40,200.26 518.47,182.18 518.55,191.22 518.62,195.56 518.69,202.72 518.76,200.44 518.83,196.25 518.90,195.96 518.97,201.63 519.04,205.13 519.11,187.16 519.18,212.99 519.25,213.97 519.32,188.13 519.39,201.59 519.46,213.34 519.53,211.63 519.60,214.30 519.67,196.91 519.74,226.79 519.81,212.80 519.88,225.56 519.96,218.55 520.03,208.89 520.10,191.77 520.17,228.89 520.24,207.43 520.31,222.78 520.38,202.92 520.45,187.98 520.52,224.31 520.59,201.68 520.66,219.81 520.73,203.46 520.80,214.40 520.87,221.33 520.94,217.93 521.01,234.77 521.08,199.88 521.15,182.47 521.22,198.66 521.30,207.88 521.37,210.47 521.44,197.93 521.51,219.00 521.58,191.28 521.65,210.71 521.72,223.74 521.79,196.48 521.86,181.15 521.93,213.30 522.00,195.12 522.07,210.81 522.14,199.50 522.21,199.92 522.28,158.13 522.35,179.14 522.42,195.00 522.49,212.17 522.56,199.23 522.63,189.15 522.71,193.39 522.78,188.21 522.85,175.46 522.92,166.04 522.99,186.97 523.06,195.58 523.13,191.00 523.20,209.24 523.27,193.62 523.34,202.10 523.41,199.08 523.48,202.58 523.55,176.00 523.62,199.33 523.69,190.83 523.76,173.06 523.83,215.47 523.90,213.38 523.97,177.35 524.05,206.82 524.12,198.63 524.19,200.29 524.26,181.95 524.33,198.90 524.40,185.33 524.47,202.86 524.54,198.47 524.61,164.05 524.68,170.67 524.75,200.61 524.82,191.86 524.89,159.91 524.96,176.24 525.03,173.50 525.10,210.60 525.17,211.64 525.24,164.89 525.31,163.50 525.39,174.21 525.46,206.16 525.53,188.01 525.60,164.26 525.67,181.49 525.74,211.28 525.81,179.91 525.88,203.73 525.95,207.18 526.02,205.99 526.09,172.59 526.16,207.83 526.23,174.59 526.30,202.42 526.37,217.25 526.44,176.24 526.51,218.04 526.58,196.07 526.65,169.94 526.72,211.72 526.80,218.84 526.87,215.87 526.94,188.17 527.01,199.27 527.08,221.52 527.15,181.70 527.22,208.18 527.29,204.82 527.36,174.38 527.43,168.93 527.50,195.20 527.57,184.74 527.64,182.97 527.71,178.74 527.78,180.32 527.85,214.03 527.92,202.95 527.99,185.21 528.06,204.77 528.14,191.09 528.21,189.57 528.28,180.83 528.35,194.67 528.42,192.46 528.49,198.33 528.56,200.09 528.63,199.20 528.70,201.68 528.77,183.74 528.84,179.74 528.91,205.14 528.98,199.39 529.05,200.25 529.12,200.75 529.19,181.85 529.26,193.14 529.33,168.58 529.40,211.12 529.47,184.28 529.55,252.85 529.62,252.85 529.69,252.85 529.76,252.85 529.83,252.85 529.90,252.85 529.97,252.85 530.04,252.85 530.11,252.85 530.18,252.85 530.25,252.85 530.32,252.85 530.39,252.85 530.46,252.85 530.53,252.85 530.60,252.85 530.67,252.85 530.74,252.85 530.81,252.85 530.89,252.85 530.96,252.85 531.03,252.85 531.10,252.85 531.17,252.85 531.24,252.85 531.31,252.85 531.38,252.85 531.45,252.85 531.52,252.85 531.59,252.85 531.66,252.85 531.73,252.85 531.80,252.85 531.87,252.85 531.94,252.85 532.01,252.85 532.08,252.85 532.15,252.85 532.22,252.85 532.30,252.85 532.37,252.85 532.44,252.85 532.51,252.85 532.58,252.85 532.65,252.85 532.72,252.85 532.79,252.85 532.86,252.85 532.93,252.85 533.00,252.85 533.07,252.85 533.14,252.85 533.21,252.85 533.28,252.85 533.35,252.85 533.42,252.85 533.49,252.85 533.56,252.85 533.64,252.85 533.71,252.85 533.78,252.85 533.85,252.85 533.92,252.85 533.99,252.85 534.06,252.85 534.13,252.85 534.20,252.85 534.27,252.85 534.34,252.85 534.41,185.20 534.48,211.69 534.55,209.45 534.62,211.12 534.69,188.57 534.76,191.04 534.83,215.52 534.90,209.35 534.97,170.12 535.05,218.81 535.12,174.09 535.19,187.74 535.26,170.71 535.33,213.95 535.40,201.92 535.47,217.33 535.54,207.84 535.61,214.86 535.68,185.42 535.75,173.12 535.82,201.52 535.89,215.91 535.96,214.61 536.03,175.04 536.10,225.39 536.17,212.00 536.24,215.24 536.31,230.89 536.39,225.16 536.46,217.95 536.53,224.38 536.60,189.93 536.67,194.70 536.74,198.82 536.81,187.98 536.88,198.66 536.95,191.65 537.02,196.90 537.09,187.18 537.16,202.56 537.23,195.42 537.30,205.55 537.37,176.60 537.44,177.77 537.51,220.59 537.58,199.47 537.65,216.11 537.73,196.13 537.80,215.74 537.87,195.02 537.94,184.50 538.01,214.51 538.08,184.01 538.15,179.90 538.22,176.68 538.29,197.90 538.36,205.50 538.43,193.88 538.50,211.83 538.57,200.97 538.64,190.04 538.71,178.37 538.78,206.31 538.85,202.69 538.92,190.13 538.99,215.90 539.06,183.99 539.14,201.46 539.21,218.67 539.28,193.47 539.35,201.34 539.42,175.19 539.49,209.24 539.56,213.48 539.63,197.29 539.70,228.25 539.77,221.19 539.84,183.95 539.91,199.98 539.98,203.81 540.05,210.38 540.12,175.10 540.19,186.76 540.26,210.76 540.33,181.25 540.40,198.50 540.48,184.65 540.55,179.68 540.62,207.85 540.69,172.77 540.76,194.68 540.83,180.04 540.90,168.60 540.97,167.81 541.04,192.19 541.11,176.37 541.18,165.18 541.25,204.31 541.32,183.16 541.39,197.71 541.46,176.74 541.53,209.73 541.60,195.40 541.67,188.18 541.74,165.85 541.81,209.54 541.89,186.20 541.96,167.19 542.03,212.12 542.10,197.41 542.17,158.95 542.24,172.95 542.31,179.05 542.38,185.44 542.45,166.82 542.52,194.83 542.59,165.39 542.66,187.81 542.73,167.61 542.80,200.90 542.87,192.42 542.94,202.54 543.01,190.72 543.08,204.87 543.15,205.19 543.23,160.81 543.30,200.91 543.37,165.36 543.44,202.93 543.51,204.31 543.58,175.76 543.65,165.60 543.72,198.13 543.79,197.41 543.86,166.18 543.93,184.78 544.00,177.25 544.07,190.97 544.14,188.51 544.21,165.78 544.28,167.96 544.35,181.37 544.42,200.71 544.49,179.72 544.56,192.04 544.64,197.22 544.71,196.27 544.78,175.33 544.85,200.06 544.92,194.00 544.99,181.21 545.06,172.84 545.13,203.78 545.20,219.90 545.27,180.90 545.34,210.05 545.41,192.79 545.48,177.18 545.55,172.17 545.62,188.33 545.69,174.42 545.76,190.53 545.83,154.15 545.90,212.31 545.98,186.47 546.05,164.93 546.12,206.41 546.19,182.85 546.26,166.83 546.33,180.97 546.40,205.53 546.47,197.63 546.54,206.32 546.61,185.83 546.68,174.08 546.75,209.38 546.82,207.87 546.89,171.96 546.96,187.52 547.03,202.25 547.10,180.21 547.17,203.84 547.24,197.10 547.32,216.90 547.39,188.33 547.46,174.31 547.53,193.85 547.60,179.05 547.67,179.62 547.74,176.01 547.81,160.74 547.88,204.22 547.95,195.63 548.02,179.13 548.09,217.79 548.16,167.71 548.23,176.01 548.30,209.23 548.37,178.65 548.44,193.00 548.51,183.55 548.58,201.68 548.65,187.15 548.73,178.35 548.80,209.36 548.87,193.03 548.94,202.11 549.01,176.85 549.08,164.45 549.15,190.06 549.22,172.10 549.29,180.60 549.36,208.77 549.43,182.57 549.50,210.27 549.57,185.88 549.64,182.80 549.71,197.89 549.78,202.63 549.85,196.48 549.92,210.41 549.99,199.40 550.07,157.35 550.14,186.48 550.21,170.98 550.28,201.79 550.35,191.06 550.42,168.19 550.49,186.27 550.56,215.70 550.63,211.98 550.70,198.62 550.77,181.87 550.84,188.47 550.91,191.34 550.98,203.88 551.05,179.81 551.12,190.29 551.19,178.95 551.26,194.23 551.33,213.32 551.40,204.42 551.48,199.48 551.55,199.64 551.62,212.65 551.69,208.89 551.76,205.16 551.83,198.04 551.90,192.48 551.97,183.59 552.04,176.67 552.11,179.85 552.18,197.21 552.25,216.87 552.32,188.94 552.39,167.50 552.46,212.15 552.53,163.93 552.60,210.33 552.67,188.45 552.74,218.70 552.82,174.00 552.89,211.83 552.96,170.06 553.03,194.69 553.10,207.37 553.17,176.45 553.24,196.09 553.31,214.16 553.38,209.79 553.45,176.21 553.52,201.36 553.59,173.95 553.66,207.66 553.73,182.88 553.80,187.40 553.87,197.22 553.94,191.05 554.01,167.57 554.08,173.84 554.15,208.06 554.23,203.83 554.30,187.45 554.37,204.94 554.44,186.56 554.51,177.37 554.58,215.85 554.65,198.92 554.72,196.25 554.79,177.44 554.86,187.94 554.93,207.16 555.00,194.54 555.07,192.58 555.14,191.41 555.21,178.28 555.28,167.21 555.35,199.59 555.42,184.99 555.49,181.99 555.57,165.32 555.64,196.23 555.71,197.65 555.78,165.59 555.85,156.20 555.92,183.32 555.99,163.35 556.06,183.37 556.13,167.30 556.20,149.75 556.27,189.06 556.34,188.31 556.41,168.98 556.48,192.37 556.55,141.65 556.62,197.84 556.69,172.50 556.76,208.00 556.83,178.58 556.90,156.01 556.98,181.63 557.05,177.37 557.12,170.19 557.19,199.67 557.26,186.54 557.33,166.39 557.40,162.59 557.47,165.66 557.54,170.86 557.61,185.56 557.68,184.73 557.75,159.26 557.82,160.32 557.89,151.38 557.96,179.20 558.03,187.74 558.10,179.08 558.17,151.51 558.24,187.44 558.32,178.21 558.39,162.20 558.46,185.66 558.53,151.70 558.60,187.44 558.67,151.29 558.74,172.40 558.81,169.55 558.88,179.90 558.95,167.49 559.02,169.26 559.09,160.40 559.16,188.93 559.23,153.32 559.30,186.21 559.37,180.38 559.44,173.50 559.51,164.19 559.58,162.51 559.66,161.72 559.73,191.17 559.80,178.23 559.87,191.11 559.94,185.89 560.01,181.80 560.08,168.78 560.15,162.37 560.22,163.44 560.29,167.28 560.36,175.32 560.43,169.98 560.50,190.77 560.57,191.66 560.64,189.79 560.71,182.33 560.78,166.78 560.85,185.78 560.92,206.23 560.99,192.02 561.07,178.10 561.14,163.13 561.21,179.90 561.28,177.01 561.35,160.70 561.42,169.16 561.49,170.96 561.56,185.61 561.63,188.18 561.70,182.15 561.77,189.66 561.84,172.30 561.91,168.76 561.98,180.27 562.05,180.38 562.12,171.15 562.19,207.91 562.26,151.15 562.33,203.45 562.41,151.14 562.48,172.85 562.55,160.28 562.62,190.54 562.69,163.34 562.76,200.50 562.83,190.13 562.90,209.57 562.97,196.20 563.04,176.59 563.11,183.14 563.18,165.66 563.25,191.69 563.32,191.20 563.39,175.75 563.46,192.12 563.53,174.24 563.60,196.20 563.67,166.45 563.74,167.13 563.82,198.39 563.89,159.73 563.96,170.18 564.03,164.48 564.10,190.96 564.17,157.35 564.24,217.16 564.31,157.55 564.38,207.12 564.45,199.56 564.52,166.09 564.59,195.42 564.66,189.58 564.73,174.05 564.80,195.89 564.87,211.22 564.94,167.50 565.01,178.25 565.08,169.86 565.16,163.84 565.23,173.51 565.30,171.12 565.37,210.95 565.44,204.29 565.51,173.06 565.58,168.59 565.65,205.48 565.72,160.22 565.79,154.00 565.86,174.89 565.93,175.25 566.00,179.94 566.07,171.44 566.14,193.88 566.21,171.16 566.28,182.76 566.35,192.68 566.42,184.56 566.49,182.97 566.57,165.93 566.64,205.37 566.71,160.84 566.78,183.26 566.85,183.35 566.92,176.33 566.99,163.38 567.06,173.22 567.13,195.94 567.20,202.86 567.27,163.30 567.34,178.14 567.41,205.00 567.48,184.54 567.55,210.81 567.62,158.81 567.69,203.39 567.76,173.11 567.83,200.17 567.91,198.52 567.98,177.66 568.05,198.46 568.12,186.56 568.19,153.99 568.26,201.28 568.33,174.08 568.40,203.77 568.47,159.69 568.54,174.38 568.61,178.21 568.68,202.71 568.75,172.41 568.82,192.65 568.89,157.29 568.96,181.67 569.03,252.85 569.10,252.85 569.17,252.85 569.25,252.85 569.32,252.85 569.39,252.85 569.46,252.85 569.53,252.85 569.60,252.85 569.67,252.85 569.74,252.85 569.81,252.85 569.88,252.85 569.95,252.85 570.02,252.85 570.09,252.85 570.16,252.85 570.23,252.85 570.30,252.85 570.37,252.85 570.44,252.85 570.51,252.85 570.58,252.85 570.66,252.85 570.73,252.85 570.80,252.85 570.87,252.85 570.94,252.85 571.01,252.85 571.08,252.85 571.15,252.85 571.22,252.85 571.29,252.85 571.36,252.85 571.43,252.85 571.50,252.85 571.57,252.85 571.64,252.85 571.71,252.85 571.78,252.85 571.85,252.85 571.92,252.85 572.00,252.85 572.07,252.85 572.14,252.85 572.21,252.85 572.28,252.85 572.35,252.85 572.42,252.85 572.49,252.85 572.56,252.85 572.63,252.85 572.70,252.85 572.77,252.85 572.84,252.85 572.91,252.85 572.98,252.85 573.05,252.85 573.12,252.85 573.19,252.85 573.26,252.85 573.33,252.85 573.41,252.85 573.48,252.85 573.55,252.85 573.62,252.85 573.69,252.85 573.76,252.85 573.83,252.85 573.90,252.85 573.97,252.85 574.04,252.85 574.11,252.85 574.18,252.85 574.25,252.85 574.32,252.85 574.39,252.85 574.46,252.85 574.53,187.50 574.60,179.66 574.67,208.21 574.75,196.69 574.82,163.38 574.89,172.60 574.96,181.24 575.03,171.68 575.10,163.29 575.17,170.93 575.24,206.12 575.31,209.60 575.38,177.56 575.45,198.21 575.52,172.22 575.59,202.93 575.66,177.76 575.73,171.86 575.80,190.94 575.87,177.80 575.94,191.58 576.01,178.28 576.08,168.58 576.16,194.29 576.23,174.56 576.30,180.86 576.37,198.15 576.44,204.73 576.51,186.99 576.58,186.26 576.65,205.65 576.72,199.72 576.79,205.50 576.86,205.09 576.93,173.40 577.00,205.72 577.07,173.89 577.14,206.84 577.21,213.29 577.28,172.26 577.35,207.77 577.42,178.93 577.50,219.45 577.57,208.32 577.64,177.23 577.71,177.71 577.78,191.13 577.85,192.66 577.92,194.81 577.99,221.39 578.06,217.02 578.13,195.28 578.20,194.47 578.27,185.99 578.34,226.58 578.41,209.84 578.48,207.42 578.55,183.26 578.62,173.85 578.69,178.92 578.76,202.14 578.84,177.01 578.91,182.30 578.98,187.46 579.05,183.42 579.12,182.45 579.19,192.81 579.26,202.23 579.33,188.02 579.40,210.02 579.47,181.27 579.54,168.43 579.61,206.03 579.68,180.46 579.75,193.43 579.82,182.39 579.89,185.10 579.96,158.23 580.03,158.54 580.10,202.12 580.17,200.05 580.25,161.78 580.32,206.78 580.39,160.02 580.46,186.40 580.53,210.63 580.60,197.06 580.67,171.52 580.74,168.03 580.81,163.38 580.88,170.90 580.95,205.12 581.02,181.50 581.09,184.46 581.16,166.99 581.23,159.38 581.30,175.31 581.37,167.59 581.44,157.58 581.51,200.17 581.59,188.13 581.66,164.39 581.73,167.13 581.80,187.49 581.87,169.58 581.94,162.51 582.01,145.17 582.08,195.27 582.15,192.59 582.22,180.88 582.29,155.89 582.36,202.32 582.43,193.63 582.50,194.14 582.57,179.05 582.64,160.16 582.71,173.51 582.78,184.02 582.85,154.34 582.92,157.86 583.00,195.00 583.07,177.88 583.14,184.73 583.21,168.92 583.28,195.88 583.35,194.28 583.42,190.23 583.49,165.98 583.56,191.75 583.63,186.24 583.70,191.73 583.77,183.20 583.84,152.42 583.91,194.72 583.98,167.82 584.05,170.21 584.12,172.41 584.19,182.96 584.26,193.02 584.34,180.26 584.41,174.95 584.48,183.70 584.55,164.82 584.62,180.56 584.69,176.38 584.76,174.24 584.83,155.61 584.90,195.77 584.97,199.45 585.04,164.13 585.11,172.82 585.18,191.04 585.25,162.73 585.32,166.97 585.39,198.15 585.46,195.81 585.53,190.27 585.60,160.93 585.67,162.48 585.75,161.21 585.82,183.65 585.89,154.78 585.96,162.80 586.03,199.78 586.10,178.24 586.17,201.95 586.24,184.03 586.31,185.33 586.38,183.30 586.45,189.88 586.52,173.03 586.59,199.88 586.66,187.52 586.73,161.80 586.80,194.51 586.87,151.25 586.94,173.25 587.01,167.17 587.09,193.02 587.16,165.09 587.23,198.67 587.30,186.83 587.37,180.67 587.44,162.24 587.51,158.52 587.58,170.29 587.65,192.15 587.72,194.33 587.79,201.70 587.86,186.20 587.93,160.50 588.00,175.65 588.07,186.88 588.14,160.69 588.21,174.73 588.28,170.93 588.35,189.37 588.42,161.16 588.50,183.81 588.57,195.83 588.64,164.01 588.71,176.98 588.78,184.21 588.85,154.95 588.92,201.75 588.99,175.01 589.06,157.10 589.13,176.24 589.20,200.09 589.27,181.01 589.34,191.60 589.41,170.62 589.48,198.48 589.55,177.73 589.62,191.36 589.69,171.27 589.76,201.81 589.84,149.04 589.91,191.12 589.98,194.19 590.05,189.91 590.12,192.00 590.19,188.01 590.26,199.58 590.33,189.46 590.40,173.36 590.47,193.27 590.54,183.21 590.61,190.79 590.68,164.85 590.75,187.30 590.82,191.58 590.89,176.82 590.96,173.57 591.03,170.53 591.10,169.08 591.18,197.30 591.25,185.98 591.32,154.49 591.39,170.15 591.46,158.72 591.53,177.07 591.60,178.89 591.67,202.06 591.74,171.29 591.81,171.85 591.88,181.22 591.95,193.45 592.02,193.02 592.09,193.94 592.16,179.10 592.23,155.76 592.30,178.75 592.37,147.70 592.44,187.26 592.51,154.30 592.59,150.49 592.66,169.64 592.73,182.54 592.80,152.52 592.87,172.61 592.94,159.07 593.01,163.64 593.08,163.72 593.15,183.25 593.22,177.73 593.29,177.02 593.36,153.69 593.43,156.93 593.50,135.14 593.57,171.19 593.64,147.39 593.71,153.26 593.78,177.18 593.85,168.57 593.93,188.89 594.00,166.86 594.07,171.01 594.14,181.47 594.21,175.11 594.28,150.67 594.35,163.44 594.42,181.56 594.49,172.94 594.56,186.83 594.63,183.20 594.70,167.37 594.77,178.60 594.84,200.26 594.91,154.10 594.98,167.39 595.05,175.03 595.12,185.18 595.19,177.88 595.26,196.03 595.34,189.12 595.41,148.67 595.48,174.44 595.55,190.10 595.62,145.01 595.69,152.92 595.76,182.62 595.83,154.96 595.90,181.46 595.97,150.47 596.04,162.49 596.11,161.76 596.18,144.05 596.25,185.64 596.32,150.10 596.39,154.65 596.46,165.17 596.53,183.53 596.60,179.18 596.68,149.75 596.75,166.33 596.82,173.98 596.89,166.06 596.96,158.85 597.03,135.01 597.10,165.70 597.17,149.77 597.24,184.92 597.31,153.22 597.38,187.72 597.45,185.58 597.52,183.31 597.59,187.43 597.66,149.41 597.73,179.06 597.80,153.99 597.87,149.45 597.94,162.59 598.01,190.25 598.09,167.06 598.16,159.68 598.23,189.35 598.30,165.32 598.37,171.38 598.44,158.93 598.51,181.26 598.58,167.78 598.65,177.50 598.72,158.67 598.79,161.71 598.86,187.57 598.93,154.48 599.00,158.11 599.07,182.41 599.14,173.50 599.21,142.56 599.28,153.54 599.35,156.07 599.43,145.34 599.50,159.54 599.57,155.10 599.64,182.00 599.71,160.65 599.78,166.30 599.85,182.10 599.92,160.11 599.99,171.27 600.06,148.71 600.13,163.18 600.20,178.42 600.27,112.82 600.34,189.76 600.41,156.54 600.48,140.99 600.55,175.46 600.62,141.13 600.69,180.75 600.77,150.82 600.84,198.09 600.91,158.17 600.98,196.26 601.05,176.25 601.12,182.08 601.19,199.06 601.26,161.57 601.33,158.30 601.40,160.32 601.47,185.01 601.54,155.23 601.61,167.80 601.68,185.83 601.75,162.94 601.82,158.94 601.89,142.23 601.96,196.39 602.03,189.25 602.10,185.64 602.18,182.57 602.25,187.54 602.32,147.43 602.39,162.65 602.46,184.86 602.53,189.46 602.60,172.69 602.67,179.52 602.74,176.76 602.81,175.75 602.88,168.21 602.95,180.82 603.02,158.85 603.09,168.90 603.16,176.05 603.23,149.07 603.30,153.33 603.37,178.29 603.44,180.20 603.52,154.47 603.59,152.33 603.66,153.28 603.73,186.59 603.80,183.65 603.87,186.58 603.94,190.66 604.01,171.81 604.08,191.12 604.15,163.57 604.22,169.75 604.29,111.45 604.36,156.82 604.43,180.80 604.50,182.33 604.57,184.09 604.64,159.29 604.71,136.74 604.78,167.80 604.85,166.29 604.93,159.04 605.00,158.69 605.07,168.26 605.14,128.17 605.21,152.69 605.28,167.38 605.35,153.30 605.42,175.66 605.49,167.15 605.56,146.33 605.63,159.23 605.70,138.56 605.77,168.61 605.84,171.35 605.91,125.44 605.98,137.96 606.05,162.99 606.12,122.20 606.19,133.50 606.27,161.49 606.34,153.80 606.41,167.30 606.48,130.75 606.55,134.24 606.62,183.06 606.69,134.82 606.76,174.09 606.83,149.07 606.90,169.04 606.97,136.37 607.04,156.75 607.11,143.39 607.18,170.17 607.25,165.01 607.32,122.54 607.39,149.71 607.46,178.30 607.53,252.85 607.60,252.85 607.68,252.85 607.75,252.85 607.82,252.85 607.89,252.85 607.96,252.85 608.03,252.85 608.10,252.85 608.17,252.85 608.24,252.85 608.31,252.85 608.38,252.85 608.45,252.85 608.52,252.85 608.59,252.85 608.66,252.85 608.73,252.85 608.80,252.85 608.87,252.85 608.94,252.85 609.02,252.85 609.09,252.85 609.16,252.85 609.23,252.85 609.30,252.85 609.37,252.85 609.44,252.85 609.51,252.85 609.58,252.85 609.65,252.85 609.72,252.85 609.79,252.85 609.86,252.85 609.93,252.85 610.00,252.85 610.07,252.85 610.14,252.85 610.21,252.85 610.28,252.85 610.35,252.85 610.43,252.85 610.50,252.85 610.57,252.85 610.64,252.85 610.71,252.85 610.78,252.85 610.85,252.85 610.92,252.85 610.99,252.85 611.06,252.85 611.13,252.85 611.20,252.85 611.27,252.85 611.34,252.85 611.41,252.85 611.48,252.85 611.55,252.85 611.62,252.85 611.69,252.85 611.77,252.85 611.84,252.85 611.91,252.85 611.98,252.85 612.05,252.85 612.12,252.85 612.19,252.85 612.26,252.85 612.33,252.85 612.40,252.85 612.47,252.85 612.54,252.85 612.61,252.85 612.68,252.85 612.75,252.85 612.82,252.85 612.89,252.85 612.96,252.85 613.03,252.85 613.11,252.85 613.18,252.85 613.25,252.85 613.32,252.85 613.39,252.85 613.46,252.85 613.53,252.85 613.60,252.85 613.67,252.85 613.74,252.85 613.81,252.85 613.88,252.85 613.95,252.85 614.02,189.40 614.09,151.98 614.16,178.06 614.23,169.87 614.30,202.16 614.37,148.63 614.44,151.31 614.52,182.00 614.59,159.36 614.66,182.77 614.73,185.73 614.80,182.55 614.87,180.14 614.94,168.43 615.01,161.67 615.08,174.42 615.15,159.81 615.22,163.25 615.29,162.47 615.36,171.58 615.43,175.74 615.50,190.08 615.57,181.29 615.64,177.87 615.71,177.11 615.78,161.70 615.86,186.95 615.93,171.10 616.00,184.14 616.07,199.30 616.14,174.14 616.21,187.82 616.28,198.73 616.35,172.15 616.42,151.77 616.49,150.90 616.56,155.39 616.63,156.33 616.70,179.76 616.77,148.45 616.84,180.08 616.91,142.27 616.98,166.23 617.05,164.59 617.12,171.79 617.19,161.59 617.27,182.99 617.34,177.67 617.41,178.07 617.48,165.40 617.55,189.11 617.62,154.93 617.69,174.00 617.76,156.81 617.83,159.05 617.90,172.03 617.97,171.15 618.04,169.24 618.11,162.23 618.18,177.94 618.25,171.20 618.32,180.88 618.39,178.78 618.46,169.50 618.53,183.84 618.61,176.18 618.68,189.33 618.75,167.46 618.82,195.35 618.89,134.08 618.96,136.33 619.03,167.51 619.10,155.16 619.17,160.48 619.24,175.36 619.31,177.16 619.38,145.65 619.45,171.20 619.52,173.52 619.59,156.03 619.66,168.66 619.73,152.77 619.80,183.52 619.87,148.98 619.94,150.71 620.02,133.22 620.09,157.36 620.16,172.29 620.23,130.10 620.30,162.33 620.37,130.33 620.44,138.16 620.51,145.54 620.58,154.44 620.65,142.48 620.72,175.41 620.79,134.16 620.86,180.96 620.93,180.81 621.00,187.59 621.07,188.40 621.14,135.23 621.21,151.59 621.28,196.10 621.36,158.75 621.43,141.33 621.50,180.93 621.57,173.75 621.64,153.35 621.71,178.47 621.78,189.22 621.85,161.84 621.92,156.01 621.99,173.34 622.06,149.87 622.13,137.04 622.20,168.13 622.27,130.86 622.34,151.55 622.41,154.68 622.48,163.89 622.55,138.73 622.62,135.99 622.70,169.00 622.77,140.39 622.84,159.42 622.91,179.04 622.98,148.31 623.05,169.95 623.12,166.84 623.19,139.63 623.26,143.46 623.33,132.97 623.40,177.93 623.47,174.83 623.54,157.78 623.61,174.72 623.68,175.59 623.75,159.70 623.82,138.38 623.89,186.74 623.96,145.00 624.03,184.64 624.11,159.78 624.18,167.35 624.25,138.13 624.32,148.95 624.39,163.11 624.46,184.96 624.53,178.43 624.60,142.29 624.67,166.60 624.74,165.42 624.81,170.46 624.88,161.86 624.95,170.79 625.02,141.47 625.09,180.80 625.16,149.63 625.23,147.87 625.30,145.52 625.37,137.69 625.45,152.49 625.52,136.94 625.59,158.01 625.66,158.81 625.73,182.68 625.80,145.86 625.87,153.58 625.94,170.21 626.01,149.55 626.08,160.72 626.15,159.96 626.22,147.46 626.29,171.86 626.36,187.70 626.43,179.56 626.50,139.67 626.57,187.90 626.64,163.19 626.71,179.81 626.78,198.34 626.86,167.11 626.93,154.29 627.00,190.38 627.07,176.39 627.14,196.59 627.21,155.00 627.28,162.54 627.35,182.41 627.42,160.25 627.49,158.37 627.56,173.85 627.63,143.92 627.70,140.29 627.77,182.22 627.84,167.24 627.91,153.59 627.98,187.68 628.05,195.94 628.12,175.33 628.20,163.94 628.27,171.02 628.34,189.40 628.41,189.80 628.48,168.33 628.55,174.36 628.62,170.91 628.69,192.52 628.76,155.23 628.83,145.87 628.90,182.15 628.97,155.34 629.04,152.26 629.11,166.60 629.18,134.28 629.25,157.48 629.32,151.86 629.39,157.95 629.46,168.39 629.53,146.62 629.61,141.83 629.68,168.74 629.75,186.32 629.82,125.55 629.89,178.58 629.96,179.87 630.03,179.94 630.10,172.79 630.17,165.88 630.24,140.42 630.31,155.30 630.38,155.07 630.45,137.75 630.52,164.67 630.59,156.40 630.66,158.09 630.73,132.07 630.80,146.19 630.87,163.94 630.95,168.24 631.02,157.01 631.09,129.84 631.16,192.11 631.23,151.14 631.30,146.04 631.37,149.65 631.44,176.10 631.51,167.63 631.58,144.11 631.65,167.05 631.72,127.70 631.79,164.90 631.86,161.25 631.93,161.34 632.00,146.11 632.07,168.83 632.14,156.03 632.21,132.74 632.28,127.39 632.36,150.29 632.43,131.32 632.50,130.17 632.57,149.95 632.64,153.98 632.71,182.10 632.78,137.31 632.85,184.09 632.92,140.61 632.99,138.56 633.06,150.51 633.13,135.64 633.20,175.41 633.27,137.47 633.34,148.92 633.41,138.94 633.48,175.76 633.55,175.59 633.62,169.82 633.70,161.19 633.77,162.07 633.84,165.59 633.91,151.73 633.98,133.39 634.05,147.35 634.12,150.81 634.19,166.17 634.26,146.70 634.33,160.99 634.40,157.18 634.47,115.79 634.54,165.58 634.61,176.63 634.68,137.88 634.75,134.84 634.82,190.45 634.89,180.82 634.96,166.56 635.04,179.60 635.11,118.86 635.18,166.08 635.25,132.37 635.32,144.38 635.39,165.41 635.46,143.92 635.53,177.26 635.60,165.17 635.67,172.63 635.74,180.39 635.81,171.18 635.88,152.06 635.95,186.25 636.02,165.06 636.09,137.54 636.16,177.87 636.23,181.25 636.30,141.38 636.37,179.57 636.45,145.86 636.52,177.87 636.59,158.05 636.66,184.87 636.73,171.30 636.80,149.39 636.87,179.70 636.94,153.79 637.01,144.72 637.08,132.46 637.15,135.46 637.22,173.21 637.29,163.58 637.36,140.35 637.43,151.28 637.50,161.08 637.57,169.41 637.64,170.71 637.71,128.58 637.79,176.07 637.86,156.16 637.93,134.09 638.00,136.50 638.07,129.49 638.14,152.05 638.21,123.76 638.28,133.01 638.35,147.85 638.42,148.11 638.49,196.07 638.56,189.05 638.63,145.00 638.70,169.96 638.77,166.63 638.84,176.93 638.91,148.78 638.98,171.89 639.05,171.91 639.12,171.21 639.20,165.05 639.27,172.45 639.34,154.36 639.41,155.02 639.48,155.96 639.55,159.02 639.62,191.83 639.69,143.02 639.76,161.86 639.83,131.09 639.90,148.77 639.97,154.79 640.04,180.05 640.11,173.40 640.18,137.00 640.25,183.24 640.32,164.94 640.39,131.89 640.46,161.16 640.54,141.60 640.61,143.16 640.68,127.19 640.75,158.25 640.82,117.93 640.89,153.90 640.96,137.94 641.03,152.44 641.10,147.15 641.17,158.49 641.24,141.19 641.31,141.27 641.38,153.27 641.45,169.72 641.52,121.81 641.59,165.91 641.66,139.82 641.73,162.17 641.80,127.77 641.87,176.20 641.95,139.59 642.02,150.24 642.09,128.62 642.16,162.97 642.23,173.28 642.30,149.15 642.37,141.55 642.44,180.09 642.51,148.34 642.58,159.48 642.65,140.74 642.72,129.19 642.79,128.85 642.86,135.65 642.93,144.04 643.00,159.36 643.07,169.80 643.14,159.84 643.21,130.11 643.29,147.72 643.36,140.64 643.43,164.01 643.50,132.89 643.57,143.25 643.64,173.80 643.71,150.70 643.78,143.17 643.85,133.79 643.92,150.17 643.99,114.52 644.06,163.99 644.13,120.59 644.20,147.70 644.27,164.74 644.34,119.06 644.41,144.47 644.48,130.65 644.55,176.55 644.63,170.22 644.70,138.26 644.77,158.34 644.84,159.24 644.91,130.19 644.98,160.00 645.05,158.91 645.12,172.01 645.19,100.19 645.26,130.38 645.33,177.03 645.40,110.10 645.47,158.69 645.54,156.24 645.61,144.75 645.68,147.58 645.75,168.51 645.82,156.34 645.89,112.44 645.96,115.48 646.04,155.54 646.11,138.04 646.18,133.44 646.25,96.87 646.32,167.12 646.39,133.44 646.46,138.81 646.53,111.27 646.60,133.57 646.67,153.68 646.74,132.32 646.81,148.59 646.88,102.40 646.95,158.24 647.02,114.97 647.09,120.55 647.16,147.97 647.23,136.70 647.30,155.16 647.38,156.62 647.45,120.95 647.52,110.45 647.59,153.50 647.66,158.80 647.73,144.55 647.80,159.84 647.87,142.51 647.94,157.37 648.01,133.65 648.08,151.55 648.15,119.65 648.22,104.64 648.29,163.63 648.36,130.87 648.43,116.22 648.50,154.38 648.57,125.16 648.64,145.76 648.71,108.36 648.79,133.61 648.86,133.43 648.93,118.13 649.00,140.69 649.07,135.85 649.14,163.56 649.21,155.92 649.28,138.51 649.35,145.89 649.42,116.44 649.49,144.88 649.56,103.87 649.63,252.85 649.70,252.85 649.77,252.85 649.84,252.85 649.91,252.85 649.98,252.85 650.05,252.85 650.13,252.85 650.20,252.85 650.27,252.85 650.34,252.85 650.41,252.85 650.48,252.85 650.55,252.85 650.62,252.85 650.69,252.85 650.76,252.85 650.83,252.85 650.90,252.85 650.97,252.85 651.04,252.85 651.11,252.85 651.18,252.85 651.25,252.85 651.32,252.85 651.39,252.85 651.46,252.85 651.54,252.85 651.61,252.85 651.68,252.85 651.75,252.85 651.82,252.85 651.89,252.85 651.96,252.85 652.03,252.85 652.10,252.85 652.17,252.85 652.24,252.85 652.31,252.85 652.38,252.85 652.45,252.85 652.52,252.85 652.59,252.85 652.66,252.85 652.73,252.85 652.80,252.85 652.88,252.85 652.95,252.85 653.02,252.85 653.09,252.85 653.16,252.85 653.23,252.85 653.30,252.85 653.37,252.85 653.44,252.85 653.51,252.85 653.58,252.85 653.65,252.85 653.72,252.85 653.79,252.85 653.86,252.85 653.93,252.85 654.00,252.85 654.07,252.85 654.14,252.85 654.22,252.85 654.29,252.85 654.36,252.85 654.43,252.85 654.50,252.85 654.57,252.85 654.64,252.85 654.71,252.85 654.78,252.85 654.85,252.85 654.92,252.85 654.99,252.85 655.06,252.85 655.13,252.85 655.20,252.85 655.27,252.85 655.34,252.85 655.41,252.85 655.48,252.85 655.55,252.85 655.63,252.85 655.70,127.90 655.77,128.05 655.84,109.17 655.91,121.36 655.98,138.08 656.05,136.17 656.12,96.71 656.19,138.54 656.26,142.28 656.33,121.94 656.40,100.07 656.47,102.87 656.54,149.77 656.61,113.40 656.68,124.17 656.75,136.31 656.82,113.89 656.89,155.34 656.97,119.85 657.04,119.89 657.11,108.81 657.18,105.93 657.25,159.08 657.32,136.00 657.39,131.64 657.46,148.51 657.53,137.41 657.60,149.86 657.67,132.09 657.74,102.88 657.81,102.38 657.88,90.86 657.95,134.69 658.02,133.48 658.09,141.44 658.16,129.27 658.23,128.58 658.30,115.61 658.38,121.67 658.45,117.64 658.52,140.03 658.59,96.83 658.66,116.59 658.73,122.50 658.80,97.38 658.87,134.38 658.94,123.44 659.01,138.56 659.08,98.43 659.15,116.51 659.22,105.20 659.29,151.42 659.36,140.44 659.43,128.71 659.50,71.64 659.57,130.38 659.64,133.75 659.72,130.25 659.79,157.63 659.86,130.65 659.93,114.02 660.00,158.54 660.07,128.20 660.14,143.49 660.21,112.73 660.28,105.39 660.35,115.81 660.42,116.47 660.49,161.57 660.56,151.05 660.63,128.64 660.70,111.08 660.77,126.39 660.84,141.49 660.91,129.16 660.98,121.21 661.05,142.91 661.13,158.60 661.20,119.56 661.27,148.96 661.34,141.03 661.41,118.03 661.48,135.42 661.55,129.54 661.62,140.99 661.69,109.97 661.76,151.12 661.83,152.36 661.90,157.66 661.97,166.86 662.04,134.07 662.11,140.12 662.18,109.73 662.25,182.03 662.32,93.60 662.39,135.58 662.47,131.23 662.54,119.91 662.61,134.14 662.68,130.51 662.75,153.02 662.82,119.97 662.89,125.57 662.96,124.35 663.03,183.72 663.10,149.65 663.17,170.16 663.24,166.96 663.31,133.92 663.38,120.09 663.45,157.40 663.52,145.09 663.59,152.23 663.66,126.16 663.73,159.75 663.80,127.18 663.88,138.77 663.95,132.13 664.02,153.59 664.09,101.49 664.16,141.78 664.23,122.86 664.30,151.75 664.37,146.30 664.44,173.82 664.51,141.47 664.58,179.79 664.65,123.39 664.72,115.95 664.79,169.03 664.86,167.77 664.93,148.11 665.00,140.54 665.07,126.91 665.14,163.33 665.22,149.83 665.29,172.85 665.36,123.73 665.43,132.52 665.50,150.77 665.57,165.41 665.64,158.49 665.71,133.84 665.78,134.02 665.85,149.13 665.92,172.17 665.99,123.70 666.06,159.10 666.13,151.37 666.20,128.26 666.27,155.50 666.34,134.62 666.41,162.02 666.48,168.57 666.56,131.69 666.63,151.26 666.70,123.58 666.77,151.67 666.84,133.92 666.91,156.33 666.98,116.86 667.05,128.66 667.12,162.69 667.19,135.72 667.26,111.42 667.33,132.47 667.40,162.05 667.47,135.97 667.54,167.35 667.61,150.28 667.68,120.33 667.75,162.53 667.82,157.03 667.89,104.84 667.97,116.95 668.04,115.98 668.11,157.53 668.18,129.42 668.25,123.38 668.32,166.33 668.39,103.90 668.46,166.88 668.53,123.77 668.60,130.67 668.67,104.26 668.74,147.24 668.81,107.51 668.88,124.50 668.95,104.68 669.02,131.92 669.09,135.88 669.16,97.97 669.23,135.34 669.31,145.42 669.38,181.07 669.45,151.86 669.52,119.18 669.59,153.83 669.66,114.74 669.73,137.77 669.80,126.02 669.87,119.94 669.94,123.16 670.01,129.17 670.08,100.85 670.15,132.54 670.22,116.80 670.29,162.51 670.36,117.96 670.43,157.71 670.50,141.61 670.57,137.27 670.64,152.24 670.72,159.09 670.79,131.20 670.86,132.05 670.93,127.50 671.00,112.68 671.07,131.67 671.14,173.04 671.21,150.48 671.28,181.91 671.35,148.37 671.42,172.91 671.49,134.41 671.56,137.97 671.63,122.88 671.70,161.21 671.77,125.59 671.84,144.60 671.91,156.23 671.98,144.75 672.06,148.33 672.13,171.85 672.20,142.90 672.27,115.37 672.34,186.09 672.41,176.20 672.48,137.88 672.55,155.08 672.62,131.45 672.69,138.29 672.76,139.29 672.83,152.46 672.90,139.24 672.97,154.91 673.04,161.40 673.11,136.47 673.18,164.29 673.25,173.59 673.32,143.90 673.39,115.57 673.47,147.26 673.54,176.94 673.61,176.09 673.68,163.15 673.75,150.03 673.82,151.95 673.89,141.39 673.96,177.57 674.03,147.18 674.10,183.91 674.17,135.62 674.24,133.90 674.31,162.77 674.38,175.80 674.45,180.26 674.52,182.95 674.59,156.31 674.66,193.77 674.73,144.00 674.81,133.61 674.88,177.95 674.95,135.05 675.02,151.46 675.09,191.00 675.16,132.82 675.23,160.76 675.30,187.38 675.37,128.12 675.44,151.46 675.51,141.46 675.58,150.88 675.65,133.34 675.72,153.63 675.79,157.37 675.86,170.61 675.93,120.35 676.00,170.67 676.07,160.18 676.15,152.96 676.22,150.08 676.29,126.57 676.36,138.04 676.43,158.87 676.50,150.72 676.57,138.56 676.64,169.30 676.71,117.12 676.78,163.97 676.85,171.65 676.92,138.83 676.99,119.77 677.06,122.71 677.13,124.26 677.20,125.30 677.27,149.38 677.34,130.09 677.41,149.03 677.48,122.59 677.56,146.27 677.63,176.11 677.70,161.85 677.77,146.41 677.84,142.70 677.91,175.70 677.98,114.78 678.05,168.59 678.12,160.06 678.19,168.07 678.26,160.76 678.33,160.10 678.40,170.71 678.47,132.46 678.54,125.61 678.61,176.61 678.68,187.64 678.75,133.77 678.82,131.98 678.90,143.95 678.97,128.85 679.04,128.44 679.11,172.24 679.18,136.00 679.25,174.23 679.32,167.83 679.39,153.78 679.46,117.13 679.53,149.57 679.60,174.46 679.67,169.86 679.74,176.23 679.81,157.24 679.88,125.65 679.95,142.30 680.02,179.16 680.09,161.90 680.16,161.77 680.23,166.77 680.31,136.16 680.38,155.59 680.45,155.56 680.52,183.68 680.59,137.17 680.66,148.60 680.73,165.82 680.80,170.46 680.87,124.74 680.94,154.68 681.01,146.27 681.08,152.97 681.15,178.25 681.22,176.72 681.29,130.37 681.36,155.09 681.43,188.55 681.50,152.25 681.57,177.98 681.65,181.09 681.72,141.37 681.79,184.76 681.86,174.66 681.93,180.16 682.00,192.99 682.07,140.44 682.14,185.24 682.21,178.88 682.28,188.07 682.35,173.79 682.42,166.31 682.49,150.85 682.56,150.37 682.63,179.38 682.70,183.13 682.77,161.05 682.84,165.69 682.91,189.46 682.98,150.13 683.06,190.99 683.13,170.34 683.20,140.59 683.27,165.48 683.34,142.58 683.41,175.86 683.48,153.28 683.55,187.76 683.62,159.43 683.69,194.99 683.76,138.11 683.83,140.24 683.90,181.92 683.97,171.57 684.04,180.45 684.11,157.68 684.18,157.84 684.25,194.51 684.32,191.88 684.40,147.67 684.47,167.69 684.54,137.45 684.61,161.81 684.68,164.65 684.75,181.00 684.82,148.46 684.89,151.66 684.96,131.01 685.03,180.75 685.10,192.96 685.17,162.84 685.24,196.95 685.31,187.25 685.38,186.57 685.45,173.52 685.52,183.45 685.59,184.07 685.66,145.50 685.73,182.22 685.81,156.96 685.88,161.47 685.95,169.97 686.02,142.54 686.09,154.72 686.16,214.58 686.23,180.31 686.30,184.09 686.37,168.14 686.44,183.03 686.51,173.28 686.58,151.36 686.65,189.26 686.72,164.60 686.79,168.79 686.86,189.26 686.93,198.39 687.00,161.74 687.07,172.59 687.15,180.66 687.22,170.99 687.29,198.46 687.36,189.48 687.43,210.01 687.50,177.95 687.57,181.45 687.64,166.33 687.71,162.48 687.78,187.75 687.85,151.97 687.92,160.19 687.99,193.76 688.06,204.01 688.13,184.78 688.20,208.82 688.27,205.15 688.34,205.33 688.41,222.50 688.49,162.24 688.56,174.76 688.63,190.11 688.70,176.71 688.77,193.39 688.84,172.24 688.91,173.96 688.98,163.31 689.05,165.84 689.12,179.84 689.19,188.75 689.26,191.08 689.33,204.26 689.40,195.49 689.47,169.54 689.54,160.29 689.61,150.32 689.68,176.14 689.75,171.97 689.82,154.85 689.90,180.10 689.97,205.27 690.04,202.72 690.11,193.87 690.18,203.29 690.25,215.54 690.32,182.38 690.39,184.34 690.46,162.45 690.53,204.39 690.60,213.01 690.67,167.04 690.74,163.67 690.81,163.48 690.88,201.40 690.95,170.16 691.02,203.42 691.09,183.38 691.16,173.89 691.24,187.26 691.31,169.82 691.38,190.09 691.45,201.81 691.52,204.45 691.59,177.58 691.66,167.53 691.73,163.97 691.80,201.27 691.87,191.11 691.94,191.49 692.01,204.97 692.08,197.67 692.15,173.59 692.22,148.87 692.29,198.81 692.36,199.89 692.43,186.10 692.50,208.07 692.57,219.57 692.65,210.94 692.72,160.15 692.79,173.23 692.86,173.81 692.93,194.25 693.00,169.71 693.07,193.54 693.14,173.67 693.21,190.39 693.28,184.96 693.35,210.07 693.42,213.79 693.49,168.71 693.56,206.04 693.63,192.72 693.70,170.31 693.77,202.52 693.84,168.36 693.91,179.95 693.99,191.32 694.06,186.02 694.13,195.03 694.20,172.83 694.27,180.80 694.34,214.52 694.41,172.14 694.48,168.86 694.55,187.29 694.62,181.67 694.69,188.19 694.76,173.21 694.83,181.63 694.90,176.46 694.97,156.66 695.04,200.35 695.11,199.28 695.18,152.68 695.25,185.10 695.32,202.08 695.40,195.78 695.47,164.66 695.54,190.08 695.61,201.13 695.68,184.25 695.75,205.35 695.82,174.69 695.89,197.04 695.96,180.89 696.03,195.93 696.10,192.11 696.17,194.91 696.24,196.33 696.31,172.98 696.38,173.71 696.45,174.61 696.52,173.46 696.59,166.52 696.66,200.97 696.74,161.76 696.81,169.93 696.88,200.33 696.95,193.01 697.02,169.73 697.09,191.39 697.16,167.30 697.23,200.66 697.30,207.96 697.37,168.31 697.44,183.77 697.51,211.01 697.58,209.16 697.65,177.39 697.72,202.74 697.79,208.86 697.86,204.08 697.93,210.86 698.00,178.53 698.08,176.63 698.15,170.34 698.22,194.59 698.29,178.72 698.36,218.35 698.43,202.66 698.50,199.44 698.57,206.36 698.64,195.70 698.71,219.72 698.78,189.96 698.85,205.43 698.92,170.93 698.99,209.51 699.06,182.78 699.13,209.70 699.20,179.95 699.27,200.55 699.34,209.32 699.41,198.68 699.49,212.27 699.56,194.80 699.63,210.29 699.70,211.10 699.77,213.55 699.84,209.70 699.91,220.52 699.98,208.68 700.05,181.86 700.12,216.27 700.19,178.97 700.26,205.82 700.33,208.93 700.40,203.27 700.47,214.67 700.54,206.80 700.61,212.46 700.68,211.81 700.75,202.49 700.83,186.52 700.90,179.07 700.97,179.75 701.04,188.53 701.11,184.80 701.18,178.85 701.25,183.46 701.32,202.66 701.39,187.99 701.46,190.09 701.53,179.18 701.60,218.65 701.67,166.49 701.74,207.21 701.81,212.34 701.88,187.29 701.95,215.05 702.02,189.77 702.09,220.17 702.16,192.02 702.24,216.96 702.31,183.59 702.38,205.07 702.45,205.72 702.52,200.21 702.59,206.14 702.66,207.53 702.73,180.08 702.80,212.12 702.87,214.38 702.94,206.01 703.01,202.52 703.08,182.91 703.15,208.95 703.22,180.50 703.29,170.33 703.36,198.19 703.43,204.97 703.50,173.39 703.58,169.10 703.65,199.58 703.72,202.00 703.79,193.42 703.86,191.27 703.93,186.77 704.00,188.74 704.07,206.39 704.14,200.28 704.21,187.46 704.28,184.66 704.35,179.58 704.42,191.50 704.49,182.60 704.56,217.81 704.63,177.78 704.70,195.71 704.77,183.47 704.84,205.31 704.91,182.53 704.99,213.70 705.06,224.02 705.13,216.70 705.20,192.32 705.27,217.20 705.34,223.38 705.41,183.88 705.48,198.43 705.55,183.28 705.62,222.57 705.69,225.27 705.76,203.40 705.83,208.46 705.90,198.48 705.97,220.23 706.04,216.49 706.11,198.71 706.18,191.37 706.25,216.85 706.33,203.93 706.40,173.56 706.47,199.77 706.54,217.94 706.61,184.70 706.68,195.36 706.75,200.85 706.82,194.43 706.89,178.43 706.96,201.97 707.03,234.01 707.10,220.29 707.17,211.75 707.24,228.92 707.31,224.69 707.38,183.93 707.45,204.13 707.52,221.48 707.59,184.59 707.66,235.91 707.74,208.39 707.81,190.05 707.88,199.00 707.95,209.39 708.02,182.76 708.09,216.65 708.16,200.43 708.23,191.13 708.30,207.56 708.37,187.39 708.44,185.19 708.51,189.53 708.58,205.06 708.65,206.10 708.72,176.52 708.79,216.76 708.86,180.31 708.93,179.01 709.00,191.18 709.08,198.41 709.15,224.94 709.22,216.28 709.29,218.19 709.36,224.75 709.43,204.77 709.50,217.56 709.57,229.14 709.64,214.51 709.71,192.60 709.78,228.57 709.85,236.55 709.92,192.55 709.99,194.46 710.06,203.89 710.13,220.53 710.20,220.94 710.27,208.87 710.34,218.40 710.42,207.95 710.49,206.68 710.56,212.13 710.63,229.58 710.70,226.37 710.77,224.12 710.84,220.68 710.91,210.84 710.98,221.66 711.05,215.97 711.12,208.00 711.19,239.65 711.26,239.12 711.33,248.27 711.40,218.46 711.47,204.43 711.54,214.66 711.61,245.63 711.68,242.90 711.75,227.65 711.83,230.36 711.90,239.12 711.97,219.92 712.04,236.67 712.11,237.56 712.18,246.25 712.25,202.74 712.32,210.52 712.39,224.65 712.46,211.34 712.53,204.97 712.60,235.78 712.67,215.97 712.74,194.35 712.81,205.36 712.88,231.39 712.95,229.37 713.02,233.05 713.09,203.55 713.17,205.97 713.24,218.35 713.31,247.59 713.38,238.35 713.45,232.12 713.52,231.14 713.59,228.93 713.66,224.54 713.73,221.87 713.80,204.17 713.87,212.09 713.94,228.35 714.01,206.09 714.08,218.89 714.15,224.96 714.22,228.84 714.29,231.46 714.36,229.43 714.43,223.81 714.50,195.00 714.58,215.33 714.65,240.93 714.72,207.81 714.79,212.16 714.86,216.99 714.93,204.81 715.00,202.92 715.07,220.75 715.14,202.25 715.21,224.87 715.28,239.66 715.35,197.68 715.42,220.60 715.49,207.23 715.56,198.77 715.63,212.53 715.70,235.91 715.77,236.72 715.84,228.41 715.92,219.58 715.99,211.63 716.06,217.13 716.13,218.93 716.20,207.47 716.27,214.05 716.34,235.41 716.41,230.75 716.48,212.67 716.55,232.35 716.62,238.60 716.69,185.58 716.76,212.81 716.83,220.54 716.90,239.75 716.97,226.80 717.04,221.66 717.11,232.29 717.18,219.83 717.25,238.96 717.33,238.89 717.40,206.37 717.47,235.30 717.54,240.82 717.61,243.83 717.68,209.96 717.75,231.54 717.82,236.47 717.89,244.94 717.96,207.15 718.03,227.78 718.10,225.21 718.17,242.92 718.24,215.57 718.31,221.94 718.38,239.37 718.45,252.85 718.52,250.40 718.59,241.95 718.67,230.79 718.74,252.85 718.81,227.53 718.88,209.23 718.95,210.75 719.02,209.10 719.09,230.33 719.16,224.41 719.23,246.27 719.30,230.67 719.37,246.37 719.44,209.87 719.51,227.72 719.58,227.29 719.65,238.37 719.72,223.49 719.79,240.95 719.86,218.58 719.93,239.77 720.01,235.58 720.08,240.73 720.15,239.08 720.22,235.74 720.29,252.85 720.36,242.58 720.43,252.85 720.50,234.55 720.57,245.52 720.64,239.30 720.71,220.58 720.78,223.10 720.85,218.77 720.92,218.98 720.99,236.16 721.06,248.56 721.13,227.07 721.20,235.22 721.27,208.14 721.34,210.94 721.42,215.92 721.49,226.57 721.56,238.86 721.63,203.95 721.70,214.75 721.77,223.54 721.84,227.07 721.91,206.47 721.98,241.06 722.05,215.65 722.12,201.64 722.19,196.58 722.26,217.42 722.33,210.35 722.40,218.38 722.47,210.80 722.54,229.66 722.61,215.48 722.68,246.09 722.76,225.69 722.83,243.88 722.90,231.41 722.97,214.31 723.04,207.34 723.11,216.24 723.18,206.46 723.25,229.77 723.32,214.61 723.39,233.35 723.46,232.54 723.53,208.68 723.60,207.58 723.67,237.60 723.74,230.76 723.81,226.54 723.88,211.29 723.95,239.17 724.02,206.38 724.09,229.95 724.17,227.98 724.24,210.52 724.31,211.57 724.38,237.83 724.45,214.65 724.52,226.23 724.59,225.09 724.66,215.87 724.73,217.35 724.80,206.17 724.87,234.53 724.94,214.91 725.01,234.19 725.08,219.66 725.15,235.32 725.22,251.59 725.29,220.24 725.36,233.34 725.43,239.39 725.51,247.40 725.58,252.85 725.65,246.76 725.72,235.24 725.79,223.09 725.86,243.18 725.93,229.16 726.00,228.65 726.07,251.46 726.14,252.85 726.21,210.60 726.28,248.36 726.35,217.40 726.42,220.08 726.49,212.25 726.56,218.77 726.63,252.85 726.70,234.59 726.77,225.06 726.84,239.99 726.92,226.11 726.99,238.53 727.06,230.33 727.13,236.80 727.20,225.37 727.27,209.83 727.34,249.96 727.41,248.21 727.48,236.63 727.55,226.23 727.62,208.54 727.69,221.37 727.76,232.78 727.83,216.37 727.90,249.06 727.97,216.94 728.04,241.08 728.11,212.54 728.18,220.97 728.26,243.77 728.33,252.85 728.40,239.97 728.47,248.78 728.54,252.85 728.61,235.28 728.68,225.64 728.75,239.45 728.82,220.04 728.89,224.37 728.96,233.15 729.03,218.77 729.10,231.71 729.17,228.84 729.24,208.98 729.31,248.07 729.38,215.42 729.45,235.73 729.52,225.59 729.60,248.11 729.67,233.62 729.74,227.01 729.81,252.70 729.88,250.38 729.95,233.05 730.02,221.59 730.09,238.49 730.16,231.95 730.23,214.31 730.30,209.74 730.37,226.64 730.44,210.23 730.51,214.43 730.58,223.51 730.65,233.30 730.72,201.89 730.79,232.96 730.86,211.76 730.93,228.51 731.01,205.95 731.08,221.22 731.15,246.12 731.22,217.39 731.29,248.21 731.36,243.35 731.43,233.49 731.50,252.78 731.57,216.43 731.64,232.35 731.71,229.85 731.78,247.67 731.85,213.90 731.92,224.27 731.99,231.34 732.06,229.07 732.13,236.20 732.20,236.73 732.27,247.87 732.35,216.77 732.42,242.05 732.49,238.48 732.56,228.63 732.63,237.15 732.70,215.49 732.77,239.08 732.84,221.98 732.91,235.14 732.98,242.57 733.05,225.28 733.12,216.37 733.19,219.28 733.26,231.23 733.33,238.19 733.40,220.74 733.47,208.26 733.54,245.81 733.61,222.52 733.68,226.52 733.76,207.44 733.83,231.96 733.90,211.97 733.97,219.79 734.04,224.71 734.11,247.93 734.18,235.16 734.25,235.62 734.32,219.74 734.39,235.58 734.46,247.18 734.53,227.04 734.60,225.55 734.67,226.26 734.74,223.74 734.81,232.46 734.88,227.68 734.95,217.52 735.02,239.89 735.10,245.25 735.17,229.16 735.24,224.29 735.31,217.35 735.38,228.37 735.45,222.16 735.52,239.71 735.59,212.19 735.66,216.07 735.73,209.01 735.80,241.43 735.87,250.02 735.94,230.75 736.01,235.06 736.08,252.61 736.15,239.21 736.22,235.24 736.29,229.26 736.36,233.42 736.43,252.20 736.51,236.06 736.58,238.23 736.65,231.59 736.72,230.25 736.79,252.85 736.86,244.78 736.93,252.85 737.00,222.87 737.07,247.03 737.14,246.99 737.21,222.10 737.28,252.15 737.35,252.85 737.42,228.59 737.49,237.40 737.56,242.11 737.63,227.07 737.70,252.85 737.77,225.60 737.85,236.79 737.92,231.75 737.99,239.31 738.06,227.67 738.13,252.32 738.20,231.18 738.27,242.50 738.34,252.85 738.41,252.85 738.48,248.80 738.55,241.26 738.62,237.50 738.69,231.27 738.76,222.06 738.83,237.83 738.90,229.40 738.97,249.17 739.04,252.10 739.11,241.25 739.18,250.39 739.26,237.24 739.33,246.95 739.40,252.85 739.47,230.68 739.54,240.90 739.61,232.70 739.68,234.96 739.75,252.85 739.82,238.51 739.89,227.79 739.96,252.85 740.03,237.81 740.10,243.01 740.17,231.54 740.24,233.63 740.31,245.75 740.38,251.61 740.45,249.45 740.52,219.37 740.60,219.84 740.67,237.96 740.74,238.00 740.81,243.73 740.88,229.68 740.95,222.74 741.02,239.27 741.09,240.81 741.16,233.16 741.23,232.61 741.30,233.38 741.37,223.72 741.44,236.29 741.51,227.71 741.58,227.39 741.65,219.85 741.72,244.92 741.79,228.74 741.86,246.02 741.94,245.87 742.01,224.92 742.08,230.49 742.15,245.11 742.22,250.00 742.29,238.59 742.36,236.80 742.43,222.51 742.50,218.79 742.57,215.51 742.64,231.53 742.71,233.97 742.78,230.16 742.85,241.24 742.92,231.54 742.99,238.70 743.06,215.88 743.13,233.36 743.20,239.70 743.27,234.63 743.35,244.02 743.42,218.53 743.49,233.63 743.56,230.89 743.63,224.88 743.70,242.48 743.77,242.19 743.84,251.24 743.91,248.69 743.98,229.95 744.05,240.30 744.12,248.29 744.19,252.65 744.26,245.86 744.33,246.26 744.40,225.52 744.47,223.05 744.54,226.98 744.61,233.12 744.69,234.23 744.76,244.37 744.83,231.38 744.90,235.06 744.97,252.85 745.04,252.85 745.11,240.33 745.18,240.48 745.25,230.21 745.32,226.17 745.39,239.31 745.46,231.98 745.53,251.42 745.60,237.33 745.67,240.60 745.74,243.13 745.81,249.88 745.88,225.00 745.95,230.03 746.02,232.37 746.10,233.58 746.17,230.78 746.24,236.24 746.31,238.09 746.38,231.33 746.45,252.85 746.52,227.13 746.59,247.94 746.66,250.84 746.73,245.80 746.80,234.48 746.87,238.43 746.94,211.67 747.01,242.57 747.08,243.40 747.15,230.30 747.22,238.06 747.29,226.60 747.36,226.59 747.44,241.38 747.51,247.68 747.58,240.98 747.65,244.56 747.72,246.66 747.79,244.62 747.86,226.34 747.93,238.71 748.00,239.27 748.07,242.44 748.14,229.32 748.21,227.26 748.28,244.85 748.35,245.53 748.42,229.14 748.49,241.90 748.56,242.37 748.63,247.89 748.70,238.82 748.77,252.85 748.85,235.80 748.92,227.86 748.99,233.02 749.06,225.10 749.13,232.32 749.20,236.95 749.27,246.31 749.34,222.81 749.41,238.77 749.48,229.39 749.55,224.38 749.62,227.99 749.69,240.60 749.76,233.93 749.83,222.50 749.90,233.52 749.97,242.29 750.04,245.15 750.11,225.24 750.19,244.62 750.26,226.89 750.33,224.16 750.40,222.46 750.47,241.28 750.54,234.33 750.61,228.67 750.68,227.82 750.75,234.98 750.82,234.49 750.89,231.89 750.96,223.99 751.03,246.33 751.10,238.25 751.17,235.83 751.24,236.20 751.31,252.20 751.38,234.71 751.45,241.94 751.53,251.90 751.60,227.03 751.67,244.67 751.74,249.42 751.81,233.29 751.88,240.17 751.95,240.05 752.02,238.96 752.09,240.04 752.16,237.95 752.23,232.48 752.30,246.19 752.37,225.65 752.44,246.93 752.51,242.05 752.58,238.20 752.65,236.27 752.72,252.85 752.79,252.85 752.86,242.68 752.94,232.59 753.01,249.00 753.08,232.51 753.15,244.60 753.22,238.26 753.29,250.41 753.36,231.04 753.43,240.92 753.50,248.04 753.57,239.17 753.64,240.09 753.71,247.67 753.78,247.14 753.85,244.13 753.92,233.24 753.99,241.90 754.06,252.85 754.13,236.15 754.20,243.28 754.28,249.81 754.35,246.84 754.42,252.53 754.49,252.85 754.56,252.35 754.63,252.85 754.70,243.51 754.77,237.73 754.84,235.15 754.91,249.03 754.98,242.33 755.05,252.85 755.12,245.99 755.19,237.65 755.26,252.85 755.33,250.04 755.40,240.52 755.47,251.84 755.54,244.40 755.61,241.49 755.69,243.22 755.76,252.44 755.83,241.45 755.90,246.54 755.97,240.59 756.04,237.28 756.11,244.72 756.18,236.86 756.25,249.93 756.32,252.85 756.39,236.44 756.46,252.33 756.53,243.79 756.60,248.42 756.67,248.07 756.74,246.04 756.81,234.60 756.88,233.32 756.95,242.04 757.03,234.34 757.10,232.17 757.17,245.63 757.24,242.40 757.31,232.41 757.38,244.80 757.45,252.85 757.52,237.74 757.59,249.21 757.66,233.32 757.73,244.27 757.80,243.30 757.87,240.78 757.94,245.79 758.01,239.65 758.08,252.85 758.15,250.54 758.22,252.85 758.29,252.85 758.36,250.90 758.44,252.85 758.51,235.22 758.58,246.02 758.65,237.95 758.72,233.66 758.79,230.27 758.86,252.85 758.93,231.61 759.00,229.45 759.07,251.43 759.14,232.29 759.21,233.70 759.28,244.82 759.35,252.59 759.42,252.85 759.49,252.54 759.56,252.85 759.63,232.68 759.70,248.82 759.78,231.49 759.85,241.06 759.92,231.72 759.99,232.33 760.06,252.85 760.13,237.43 760.20,244.53 760.27,228.16 760.34,247.07 760.41,236.03 760.48,252.80 760.55,248.96 760.62,242.76 760.69,252.14 760.76,233.34 760.83,240.42 760.90,246.40 760.97,238.88 761.04,233.66 761.11,247.96 761.19,231.00 761.26,245.71 761.33,240.59 761.40,251.32 761.47,236.10 761.54,245.54 761.61,247.27 761.68,243.57 761.75,227.96 761.82,233.81 761.89,244.82 761.96,251.63 762.03,235.49 762.10,229.11 762.17,235.39 762.24,243.55 762.31,231.93 762.38,243.03 762.45,230.81 762.53,238.24 762.60,252.85 762.67,246.66 762.74,239.83 762.81,251.03 762.88,241.95 762.95,244.81 763.02,251.27 763.09,246.90 763.16,251.72 763.23,250.47 763.30,236.54 763.37,248.47 763.44,239.81 763.51,241.50 763.58,228.90 763.65,244.06 763.72,236.52 763.79,246.36 763.87,225.22 763.94,236.12 764.01,237.29 764.08,233.40 764.15,247.37 764.22,241.84 764.29,226.78 764.36,249.71 764.43,237.40 764.50,246.32 764.57,235.15 764.64,241.68 764.71,247.34 764.78,251.87 764.85,241.05 764.92,245.94 764.99,246.68 765.06,234.66 765.13,245.01 765.20,232.40 765.28,245.99 765.35,249.65 765.42,239.73 765.49,235.21 765.56,224.70 765.63,233.57 765.70,252.59 765.77,237.76 765.84,231.80 765.91,239.52 765.98,225.34 766.05,237.89 766.12,234.71 766.19,240.95 766.26,234.84 766.33,247.66 766.40,246.36 766.47,240.47 766.54,228.16 766.62,242.93 766.69,228.35 766.76,236.35 766.83,240.47 766.90,250.02 766.97,229.84 767.04,242.74 767.11,252.02 767.18,247.09 767.25,250.16 767.32,234.57 767.39,249.57 767.46,234.15 767.53,236.42 767.60,243.85 767.67,244.84 767.74,240.15 767.81,252.85 767.88,250.76 767.95,231.37 768.03,239.26 768.10,246.82 768.17,232.51 768.24,249.32 768.31,229.87 768.38,235.27 768.45,235.53 768.52,252.18 768.59,230.73 768.66,233.60 768.73,238.04 768.80,236.26 768.87,244.08 768.94,240.97 769.01,252.47 769.08,235.49 769.15,241.69 769.22,238.95 769.29,248.19 769.37,251.66 769.44,241.52 769.51,245.86 769.58,249.17 769.65,243.86 769.72,252.61 769.79,240.08 769.86,246.90 769.93,243.03 770.00,230.73 770.07,247.32 770.14,238.20 770.21,239.00 770.28,230.05 770.35,230.37 770.42,244.80 770.49,233.29 770.56,245.52 770.63,238.29 770.70,234.42 770.78,229.59 770.85,231.61 770.92,234.63 770.99,237.69 771.06,252.85 771.13,234.31 771.20,237.30 771.27,249.29 771.34,252.85 771.41,243.94 771.48,239.53 771.55,249.86 771.62,248.06 771.69,239.22 771.76,252.85 771.83,237.93 771.90,242.66 771.97,251.87 772.04,241.83 772.12,246.29 772.19,230.20 772.26,246.35 772.33,243.24 772.40,244.97 772.47,243.37 772.54,252.19 772.61,236.00 772.68,230.99 772.75,242.46 772.82,234.36 772.89,236.76 772.96,247.76 773.03,231.20 773.10,214.41 773.17,232.28 773.24,240.06 773.31,239.44 773.38,240.16 773.46,243.53 773.53,248.10 773.60,231.02 773.67,225.55 773.74,233.41 773.81,230.26 773.88,244.65 773.95,235.90 774.02,231.56 774.09,235.61 774.16,236.31 774.23,243.59 774.30,239.54 774.37,225.03 774.44,224.81 774.51,247.02 774.58,238.55 774.65,233.96 774.72,237.08 774.79,234.95 774.87,247.12 774.94,224.66 775.01,229.80 775.08,246.14 775.15,239.86 775.22,240.71 775.29,233.36 775.36,234.73 775.43,244.67 775.50,240.73 775.57,227.51 775.64,243.23 775.71,242.06 775.78,236.66 775.85,239.13 775.92,230.95 775.99,245.57 776.06,238.17 776.13,240.97 776.21,240.00 776.28,217.95 776.35,242.47 776.42,251.72 776.49,222.77 776.56,240.61 776.63,241.74 776.70,231.27 776.77,240.35 776.84,233.07 776.91,227.83 776.98,230.93 777.05,237.31 777.12,242.10 777.19,234.70 777.26,233.37 777.33,248.42 777.40,234.56 777.47,233.93 777.54,248.26 777.62,232.09 777.69,247.80 777.76,230.64 777.83,236.17 777.90,235.16 777.97,234.02 778.04,248.99 778.11,243.34 778.18,244.79 778.25,244.16 778.32,248.58 778.39,227.86 778.46,235.85 778.53,251.29 778.60,245.33 778.67,236.89 778.74,233.85" fill="none" stroke="#008000" stroke-width="1.2" stroke-linejoin="round"/>
<polyline points="454.80,252.85 455.02,252.85 455.24,252.85 455.46,252.85 455.69,252.85 455.91,252.85 456.13,252.85 456.35,252.85 456.57,252.85 456.79,252.85 457.02,252.85 457.24,252.85 457.46,252.85 457.68,252.85 457.90,252.85 458.12,252.85 458.35,252.85 458.57,252.85 458.79,252.85 459.01,252.85 459.23,252.85 459.45,252.85 459.68,252.85 459.90,252.85 460.12,252.85 460.34,252.85 460.56,252.85 460.78,252.85 461.01,252.85 461.23,252.85 461.45,252.85 461.67,252.85 461.89,252.85 462.11,252.85 462.33,252.85 462.56,252.85 462.78,252.85 463.00,252.85 463.22,252.85 463.44,252.85 463.66,252.85 463.89,252.85 464.11,242.69 464.33,252.85 464.55,252.85 464.77,247.36 464.99,252.85 465.22,252.85 465.44,252.85 465.66,252.85 465.88,252.85 466.10,252.85 466.32,252.85 466.55,252.85 466.77,252.85 466.99,252.85 467.21,252.85 467.43,252.85 467.65,252.85 467.88,252.85 468.10,252.85 468.32,252.85 468.54,252.85 468.76,252.85 468.98,252.85 469.21,252.85 469.43,252.85 469.65,252.85 469.87,252.85 470.09,252.85 470.31,252.85 470.53,252.85 470.76,252.85 470.98,252.85 471.20,252.85 471.42,252.85 471.64,252.85 471.86,252.85 472.09,252.85 472.31,252.85 472.53,252.85 472.75,252.85 472.97,252.85 473.19,252.85 473.42,252.85 473.64,252.85 473.86,252.85 474.08,252.85 474.30,252.85 474.52,252.85 474.75,252.85 474.97,252.85 475.19,252.85 475.41,252.85 475.63,252.85 475.85,252.85 476.08,252.85 476.30,252.85 476.52,252.85 476.74,252.85 476.96,252.85 477.18,252.85 477.40,252.85 477.63,252.85 477.85,252.85 478.07,252.85 478.29,252.85 478.51,252.85 478.73,252.85 478.96,252.85 479.18,252.85 479.40,252.85 479.62,252.85 479.84,252.85 480.06,252.85 480.29,252.85 480.51,252.85 480.73,252.85 480.95,252.85 481.17,252.85 481.39,252.85 481.62,252.85 481.84,252.85 482.06,252.85 482.28,252.85 482.50,252.85 482.72,252.85 482.95,252.85 483.17,252.85 483.39,252.85 483.61,252.85 483.83,252.85 484.05,252.85 484.28,252.85 484.50,252.85 484.72,252.85 484.94,252.85 485.16,252.85 485.38,252.85 485.60,252.85 485.83,252.85 486.05,252.85 486.27,252.85 486.49,233.65 486.71,219.41 486.93,223.79 487.16,211.53 487.38,217.97 487.60,195.72 487.82,222.01 488.04,183.59 488.26,200.69 488.49,192.27 488.71,196.93 488.93,155.50 489.15,161.92 489.37,132.77 489.59,123.26 489.82,123.26 490.04,174.01 490.26,149.67 490.48,181.47 490.70,173.13 490.92,193.28 491.15,179.64 491.37,203.86 491.59,192.46 491.81,230.10 492.03,208.69 492.25,223.39 492.47,216.64 492.70,238.92 492.92,220.53 493.14,234.00 493.36,223.68 493.58,241.52 493.80,234.72 494.03,240.36 494.25,236.22 494.47,251.97 494.69,235.46 494.91,251.74 495.13,252.85 495.36,252.85 495.58,252.85 495.80,252.85 496.02,252.85 496.24,252.85 496.46,242.01 496.69,252.85 496.91,252.85 497.13,251.58 497.35,252.85 497.57,252.37 497.79,231.25 498.02,252.85 498.24,252.85 498.46,251.48 498.68,252.85 498.90,252.85 499.12,252.85 499.35,252.85 499.57,236.52 499.79,252.85 500.01,252.85 500.23,252.85 500.45,252.85 500.67,252.85 500.90,252.85 501.12,252.85 501.34,252.85 501.56,252.85 501.78,252.85 502.00,252.85 502.23,241.03 502.45,252.85 502.67,252.85 502.89,252.85 503.11,252.85 503.33,252.85 503.56,239.88 503.78,252.85 504.00,252.85 504.22,251.89 504.44,252.85 504.66,252.40 504.89,252.85 505.11,252.33 505.33,252.85 505.55,252.13 505.77,237.17 505.99,252.85 506.22,252.85 506.44,252.85 506.66,252.85 506.88,252.85 507.10,252.85 507.32,252.85 507.54,252.85 507.77,252.85 507.99,248.11 508.21,252.85 508.43,252.85 508.65,252.85 508.87,252.85 509.10,252.07 509.32,252.85 509.54,252.85 509.76,252.85 509.98,252.85 510.20,252.85 510.43,252.74 510.65,252.85 510.87,252.85 511.09,252.85 511.31,252.29 511.53,252.85 511.76,252.85 511.98,252.85 512.20,252.85 512.42,252.85 512.64,252.85 512.86,252.85 513.09,252.85 513.31,252.85 513.53,252.85 513.75,252.85 513.97,252.85 514.19,252.85 514.41,252.78 514.64,252.85 514.86,252.85 515.08,245.75 515.30,252.85 515.52,247.92 515.74,252.85 515.97,252.85 516.19,252.66 516.41,249.25 516.63,252.85 516.85,252.85 517.07,252.85 517.30,252.85 517.52,252.85 517.74,252.85 517.96,252.85 518.18,252.85 518.40,252.85 518.63,252.85 518.85,252.05 519.07,249.71 519.29,252.85 519.51,250.40 519.73,252.85 519.96,252.85 520.18,252.85 520.40,252.85 520.62,252.85 520.84,249.26 521.06,252.85 521.29,246.12 521.51,252.85 521.73,249.86 521.95,252.85 522.17,244.33 522.39,252.85 522.61,252.85 522.84,252.85 523.06,252.85 523.28,252.85 523.50,252.85 523.72,252.85 523.94,252.85 524.17,252.85 524.39,252.85 524.61,252.85 524.83,252.85 525.05,252.85 525.27,252.85 525.50,252.85 525.72,252.85 525.94,238.46 526.16,220.24 526.38,229.32 526.60,218.80 526.83,228.90 527.05,214.19 527.27,233.15 527.49,206.38 527.71,234.23 527.93,206.91 528.16,233.95 528.38,184.47 528.60,235.82 528.82,172.16 529.04,212.00 529.26,179.58 529.48,197.20 529.71,156.60 529.93,216.32 530.15,165.15 530.37,207.88 530.59,154.66 530.81,205.32 531.04,128.47 531.26,207.64 531.48,157.17 531.70,215.79 531.92,110.90 532.14,185.93 532.37,110.90 532.59,197.79 532.81,140.37 533.03,204.17 533.25,132.68 533.47,220.95 533.70,126.40 533.92,223.90 534.14,157.18 534.36,204.13 534.58,161.21 534.80,213.07 535.03,174.36 535.25,233.36 535.47,167.88 535.69,227.85 535.91,193.67 536.13,229.41 536.36,185.41 536.58,218.83 536.80,189.59 537.02,223.28 537.24,192.42 537.46,219.47 537.68,216.66 537.91,215.19 538.13,206.91 538.35,239.55 538.57,211.62 538.79,233.14 539.01,213.42 539.24,238.12 539.46,214.93 539.68,236.05 539.90,216.76 540.12,229.17 540.34,224.59 540.57,241.11 540.79,226.54 541.01,241.92 541.23,225.51 541.45,231.85 541.67,229.95 541.90,238.12 542.12,232.78 542.34,236.26 542.56,234.14 542.78,244.60 543.00,236.68 543.23,252.67 543.45,241.22 543.67,251.07 543.89,232.43 544.11,251.35 544.33,242.72 544.55,251.48 544.78,233.25 545.00,252.28 545.22,245.04 545.44,252.29 545.66,247.93 545.88,250.91 546.11,247.83 546.33,250.96 546.55,235.09 546.77,251.27 546.99,247.36 547.21,251.55 547.44,247.33 547.66,252.67 547.88,244.74 548.10,252.80 548.32,237.49 548.54,252.74 548.77,239.16 548.99,252.05 549.21,231.75 549.43,251.54 549.65,237.28 549.87,251.51 550.10,247.84 550.32,251.55 550.54,240.66 550.76,252.62 550.98,237.42 551.20,252.55 551.43,233.09 551.65,251.40 551.87,247.57 552.09,251.29 552.31,236.98 552.53,251.49 552.75,238.37 552.98,251.99 553.20,232.59 553.42,251.69 553.64,241.99 553.86,251.38 554.08,244.91 554.31,252.03 554.53,245.40 554.75,251.76 554.97,237.52 555.19,252.33 555.41,234.86 555.64,252.07 555.86,243.39 556.08,252.11 556.30,244.34 556.52,252.65 556.74,243.77 556.97,252.40 557.19,240.84 557.41,252.83 557.63,230.49 557.85,252.08 558.07,238.65 558.30,252.12 558.52,234.15 558.74,251.98 558.96,248.47 559.18,252.81 559.40,241.24 559.62,251.88 559.85,239.23 560.07,251.60 560.29,238.81 560.51,252.59 560.73,238.86 560.95,251.65 561.18,234.20 561.40,252.65 561.62,241.41 561.84,252.06 562.06,243.19 562.28,252.22 562.51,237.04 562.73,252.82 562.95,238.81 563.17,252.29 563.39,236.50 563.61,251.97 563.84,245.36 564.06,252.47 564.28,249.21 564.50,251.80 564.72,241.33 564.94,252.82 565.17,248.19 565.39,251.86 565.61,245.91 565.83,252.62 566.05,246.27 566.27,251.87 566.49,241.96 566.72,232.76 566.94,222.38 567.16,239.83 567.38,205.47 567.60,222.31 567.82,212.07 568.05,231.20 568.27,202.31 568.49,239.00 568.71,194.84 568.93,227.30 569.15,184.45 569.38,209.10 569.60,182.14 569.82,223.98 570.04,175.54 570.26,219.90 570.48,170.68 570.71,185.36 570.93,149.49 571.15,202.06 571.37,154.59 571.59,214.91 571.81,134.67 572.04,114.20 572.26,115.62 572.48,186.93 572.70,130.99 572.92,155.25 573.14,142.71 573.37,210.17 573.59,156.54 573.81,188.92 574.03,166.94 574.25,224.80 574.47,183.21 574.69,220.46 574.92,171.06 575.14,230.92 575.36,173.53 575.58,211.75 575.80,178.67 576.02,217.97 576.25,202.80 576.47,221.82 576.69,195.46 576.91,219.47 577.13,204.49 577.35,222.39 577.58,197.95 577.80,222.70 578.02,209.49 578.24,227.85 578.46,213.01 578.68,232.66 578.91,212.55 579.13,238.33 579.35,225.54 579.57,237.46 579.79,227.61 580.01,236.36 580.24,227.95 580.46,236.60 580.68,232.66 580.90,242.84 581.12,236.69 581.34,246.30 581.56,230.98 581.79,244.04 582.01,234.23 582.23,244.39 582.45,239.03 582.67,252.17 582.89,231.91 583.12,250.42 583.34,228.67 583.56,251.13 583.78,237.93 584.00,250.34 584.22,242.98 584.45,252.14 584.67,236.48 584.89,252.40 585.11,224.55 585.33,252.54 585.55,220.68 585.78,251.53 586.00,240.11 586.22,251.20 586.44,231.54 586.66,250.39 586.88,246.52 587.11,252.70 587.33,245.63 587.55,251.65 587.77,237.57 587.99,251.11 588.21,246.61 588.44,250.97 588.66,242.02 588.88,252.66 589.10,238.97 589.32,251.13 589.54,244.83 589.76,252.05 589.99,233.87 590.21,252.44 590.43,246.67 590.65,252.82 590.87,240.36 591.09,252.09 591.32,249.27 591.54,252.62 591.76,245.97 591.98,251.85 592.20,234.38 592.42,252.61 592.65,245.12 592.87,251.50 593.09,242.23 593.31,252.29 593.53,228.72 593.75,252.12 593.98,237.68 594.20,252.35 594.42,244.44 594.64,252.17 594.86,248.74 595.08,252.78 595.31,247.03 595.53,251.94 595.75,243.86 595.97,251.17 596.19,236.65 596.41,252.06 596.63,238.26 596.86,251.40 597.08,245.95 597.30,251.38 597.52,248.30 597.74,251.22 597.96,240.03 598.19,252.34 598.41,241.73 598.63,251.15 598.85,241.72 599.07,252.31 599.29,249.85 599.52,252.22 599.74,240.21 599.96,251.43 600.18,239.40 600.40,251.19 600.62,239.15 600.85,252.65 601.07,250.10 601.29,251.31 601.51,243.50 601.73,251.39 601.95,240.74 602.18,251.46 602.40,236.24 602.62,251.26 602.84,242.63 603.06,251.83 603.28,244.49 603.51,251.71 603.73,239.08 603.95,252.37 604.17,240.60 604.39,251.27 604.61,247.89 604.83,252.21 605.06,246.61 605.28,251.69 605.50,235.77 605.72,234.77 605.94,224.48 606.16,231.29 606.39,224.30 606.61,230.49 606.83,211.12 607.05,236.20 607.27,212.11 607.49,238.47 607.72,204.09 607.94,230.56 608.16,199.26 608.38,207.23 608.60,192.34 608.82,219.43 609.05,201.51 609.27,220.33 609.49,184.27 609.71,222.41 609.93,158.93 610.15,223.77 610.38,160.52 610.60,194.90 610.82,152.02 611.04,203.21 611.26,167.43 611.48,199.09 611.70,135.74 611.93,126.55 612.15,140.37 612.37,166.93 612.59,126.55 612.81,193.83 613.03,134.92 613.26,223.04 613.48,159.55 613.70,202.40 613.92,139.88 614.14,209.78 614.36,177.95 614.59,208.62 614.81,179.00 615.03,223.38 615.25,180.14 615.47,224.50 615.69,176.90 615.92,231.33 616.14,185.09 616.36,224.14 616.58,185.35 616.80,213.88 617.02,193.62 617.25,209.01 617.47,200.40 617.69,240.10 617.91,203.29 618.13,228.20 618.35,208.08 618.57,232.06 618.80,215.60 619.02,241.76 619.24,211.81 619.46,230.40 619.68,221.21 619.90,237.08 620.13,218.96 620.35,239.66 620.57,223.11 620.79,241.88 621.01,225.28 621.23,244.24 621.46,225.86 621.68,240.93 621.90,228.45 622.12,239.97 622.34,235.66 622.56,246.15 622.79,226.79 623.01,246.66 623.23,229.35 623.45,236.59 623.67,234.40 623.89,243.36 624.12,234.24 624.34,245.32 624.56,233.83 624.78,251.02 625.00,233.78 625.22,251.66 625.45,237.35 625.67,250.17 625.89,242.49 626.11,251.57 626.33,243.24 626.55,252.69 626.77,227.57 627.00,252.47 627.22,239.75 627.44,252.79 627.66,229.80 627.88,251.36 628.10,235.60 628.33,252.07 628.55,245.27 628.77,250.45 628.99,242.48 629.21,252.78 629.43,221.12 629.66,251.49 629.88,229.80 630.10,251.31 630.32,240.20 630.54,251.75 630.76,236.90 630.99,251.93 631.21,235.87 631.43,250.85 631.65,222.70 631.87,251.60 632.09,238.97 632.32,251.24 632.54,222.71 632.76,252.07 632.98,222.96 633.20,250.82 633.42,246.54 633.64,251.88 633.87,241.65 634.09,252.52 634.31,246.01 634.53,251.29 634.75,243.67 634.97,252.33 635.20,226.57 635.42,251.97 635.64,231.96 635.86,251.31 636.08,238.42 636.30,252.07 636.53,238.68 636.75,251.84 636.97,245.71 637.19,251.83 637.41,230.10 637.63,251.03 637.86,222.94 638.08,251.17 638.30,233.62 638.52,252.43 638.74,245.39 638.96,251.62 639.19,227.88 639.41,252.62 639.63,225.60 639.85,252.63 640.07,240.30 640.29,252.30 640.52,230.59 640.74,251.47 640.96,236.82 641.18,251.30 641.40,240.72 641.62,251.97 641.84,240.18 642.07,252.57 642.29,247.26 642.51,251.22 642.73,236.89 642.95,251.62 643.17,236.88 643.40,252.12 643.62,248.42 643.84,251.51 644.06,244.50 644.28,251.91 644.50,234.96 644.73,252.24 644.95,237.66 645.17,251.70 645.39,246.50 645.61,251.85 645.83,245.73 646.06,252.71 646.28,249.83 646.50,251.59 646.72,240.67 646.94,252.00 647.16,245.22 647.39,251.88 647.61,237.94 647.83,251.45 648.05,237.99 648.27,252.42 648.49,243.46 648.71,252.85 648.94,252.85 649.16,252.85 649.38,219.28 649.60,223.76 649.82,208.07 650.04,225.57 650.27,196.69 650.49,231.58 650.71,195.19 650.93,224.73 651.15,180.19 651.37,199.87 651.60,168.91 651.82,198.33 652.04,182.48 652.26,213.44 652.48,135.10 652.70,191.40 652.93,114.70 653.15,105.96 653.37,105.96 653.59,150.43 653.81,140.45 654.03,202.25 654.26,144.69 654.48,188.27 654.70,131.30 654.92,172.68 655.14,144.80 655.36,192.96 655.59,181.69 655.81,220.55 656.03,182.52 656.25,195.17 656.47,192.36 656.69,220.70 656.91,195.43 657.14,208.25 657.36,215.34 657.58,230.34 657.80,208.48 658.02,219.38 658.24,213.04 658.47,234.04 658.69,217.27 658.91,238.12 659.13,230.81 659.35,227.38 659.57,227.26 659.80,239.03 660.02,220.90 660.24,240.72 660.46,233.07 660.68,244.09 660.90,228.63 661.13,252.65 661.35,241.55 661.57,251.54 661.79,239.58 662.01,252.70 662.23,242.14 662.46,251.23 662.68,242.40 662.90,251.23 663.12,231.11 663.34,251.12 663.56,228.68 663.78,252.12 664.01,232.21 664.23,251.98 664.45,245.25 664.67,251.16 664.89,247.68 665.11,251.15 665.34,236.99 665.56,251.96 665.78,245.98 666.00,251.26 666.22,239.09 666.44,252.54 666.67,248.91 666.89,251.93 667.11,240.36 667.33,251.80 667.55,248.80 667.77,252.85 668.00,248.72 668.22,251.59 668.44,240.39 668.66,252.62 668.88,240.18 669.10,251.90 669.33,250.27 669.55,251.53 669.77,247.79 669.99,252.18 670.21,247.91 670.43,252.45 670.65,240.74 670.88,252.34 671.10,243.45 671.32,251.76 671.54,238.07 671.76,252.74 671.98,247.13 672.21,251.76 672.43,248.29 672.65,251.89 672.87,248.96 673.09,251.70 673.31,245.32 673.54,251.93 673.76,240.20 673.98,251.74 674.20,241.60 674.42,252.85 674.64,252.85 674.87,252.85 675.09,252.85 675.31,252.85 675.53,252.85 675.75,252.85 675.97,252.85 676.20,252.85 676.42,237.45 676.64,252.85 676.86,252.85 677.08,252.85 677.30,252.85 677.53,252.85 677.75,252.85 677.97,252.85 678.19,235.19 678.41,252.85 678.63,252.85 678.85,252.85 679.08,252.85 679.30,252.85 679.52,252.85 679.74,242.35 679.96,252.85 680.18,252.85 680.41,252.85 680.63,252.85 680.85,252.85 681.07,252.85 681.29,252.85 681.51,252.85 681.74,252.85 681.96,252.85 682.18,244.16 682.40,252.85 682.62,252.85 682.84,252.85 683.07,252.85 683.29,252.85 683.51,252.85 683.73,252.85 683.95,242.93 684.17,252.85 684.40,252.85 684.62,252.85 684.84,252.85 685.06,252.85 685.28,252.85 685.50,252.85 685.72,252.85 685.95,252.85 686.17,252.85 686.39,252.85 686.61,252.85 686.83,252.85 687.05,252.85 687.28,238.89 687.50,252.85 687.72,252.85 687.94,252.85 688.16,252.85 688.38,252.85 688.61,252.85 688.83,252.85 689.05,252.85 689.27,252.85 689.49,238.20 689.71,252.85 689.94,252.85 690.16,252.85 690.38,252.85 690.60,252.85 690.82,252.85 691.04,252.85 691.27,252.85 691.49,252.85 691.71,252.85 691.93,252.85 692.15,252.85 692.37,252.85 692.60,243.60 692.82,252.85 693.04,252.85 693.26,252.85 693.48,252.85 693.70,252.85 693.92,252.85 694.15,252.85 694.37,252.85 694.59,252.85 694.81,237.99 695.03,252.85 695.25,252.85 695.48,252.85 695.70,252.85 695.92,252.85 696.14,252.85 696.36,245.47 696.58,252.85 696.81,252.85 697.03,252.85 697.25,252.85 697.47,252.85 697.69,252.85 697.91,252.85 698.14,252.85 698.36,252.85 698.58,252.85 698.80,252.85 699.02,245.01 699.24,252.85 699.47,252.85 699.69,252.85 699.91,252.85 700.13,252.85 700.35,252.85 700.57,252.85 700.79,252.85 701.02,252.85 701.24,252.85 701.46,252.85 701.68,242.44 701.90,252.85 702.12,252.85 702.35,252.85 702.57,252.85 702.79,252.85 703.01,252.85 703.23,252.85 703.45,252.85 703.68,252.85 703.90,252.85 704.12,252.85 704.34,252.85 704.56,252.85 704.78,252.85 705.01,252.85 705.23,240.46 705.45,252.85 705.67,252.85 705.89,252.85 706.11,252.85 706.34,252.85 706.56,252.85 706.78,252.85 707.00,252.85 707.22,252.85 707.44,252.85 707.66,245.59 707.89,252.85 708.11,252.85 708.33,252.85 708.55,252.85 708.77,252.85 708.99,252.85 709.22,252.85 709.44,252.85 709.66,252.85 709.88,252.85 710.10,252.85 710.32,252.85 710.55,252.85 710.77,252.85 710.99,252.85 711.21,252.85 711.43,252.85 711.65,252.85 711.88,252.85 712.10,252.85 712.32,252.85 712.54,252.85 712.76,252.85 712.98,252.85 713.21,252.85 713.43,252.85 713.65,252.85 713.87,252.85 714.09,252.85 714.31,252.85 714.54,252.85 714.76,252.85 714.98,252.85 715.20,252.85 715.42,252.85 715.64,252.85 715.86,252.85 716.09,252.85 716.31,252.85 716.53,252.85 716.75,241.32 716.97,252.85 717.19,252.85 717.42,252.85 717.64,252.85 717.86,252.85 718.08,252.85 718.30,252.85 718.52,252.85 718.75,252.85 718.97,252.85 719.19,252.85 719.41,252.85 719.63,252.85 719.85,252.85 720.08,252.85 720.30,243.24 720.52,252.85 720.74,252.85 720.96,252.85 721.18,252.85 721.41,252.85 721.63,252.85 721.85,252.85 722.07,252.85 722.29,252.85 722.51,252.85 722.73,252.85 722.96,252.85 723.18,252.85 723.40,252.85 723.62,252.85 723.84,239.12 724.06,252.85 724.29,252.85 724.51,252.85 724.73,252.85 724.95,252.85 725.17,252.85 725.39,252.85 725.62,252.85 725.84,252.85 726.06,252.85 726.28,252.85 726.50,252.85 726.72,252.85 726.95,252.85 727.17,252.85 727.39,252.85 727.61,252.85 727.83,252.85 728.05,252.85 728.28,252.85 728.50,252.85 728.72,252.85 728.94,252.85 729.16,252.85 729.38,252.85 729.61,252.85 729.83,252.85 730.05,252.85 730.27,252.85 730.49,252.85 730.71,252.85 730.93,252.85 731.16,252.85 731.38,252.85 731.60,252.85 731.82,252.85 732.04,252.85 732.26,252.85 732.49,252.85 732.71,252.85 732.93,252.85 733.15,252.85 733.37,252.85 733.59,252.85 733.82,252.85 734.04,252.85 734.26,252.85 734.48,252.85 734.70,252.85 734.92,252.85 735.15,252.85 735.37,252.85 735.59,252.85 735.81,252.85 736.03,252.85 736.25,252.85 736.48,252.85 736.70,252.85 736.92,252.85 737.14,252.85 737.36,252.85 737.58,252.85 737.80,252.85 738.03,252.85 738.25,252.85 738.47,252.85 738.69,252.85 738.91,252.85 739.13,252.85 739.36,252.85 739.58,252.85 739.80,252.85 740.02,252.85 740.24,252.85 740.46,252.85 740.69,252.85 740.91,252.85 741.13,252.85 741.35,252.85 741.57,252.85 741.79,252.85 742.02,252.85 742.24,252.85 742.46,252.85 742.68,252.85 742.90,252.85 743.12,252.85 743.35,237.75 743.57,252.85 743.79,252.85 744.01,252.85 744.23,252.85 744.45,252.85 744.68,252.85 744.90,244.61 745.12,252.85 745.34,252.85 745.56,252.85 745.78,252.85 746.00,252.85 746.23,252.85 746.45,252.85 746.67,252.85 746.89,252.85 747.11,252.85 747.33,252.85 747.56,252.85 747.78,252.85 748.00,252.85 748.22,252.85 748.44,252.85 748.66,252.85 748.89,252.85 749.11,252.85 749.33,252.85 749.55,252.85 749.77,252.85 749.99,252.85 750.22,252.85 750.44,252.85 750.66,252.85 750.88,252.85 751.10,252.85 751.32,252.85 751.55,252.85 751.77,252.85 751.99,252.85 752.21,252.85 752.43,252.85 752.65,252.85 752.87,252.85 753.10,252.85 753.32,252.85 753.54,252.85 753.76,252.85 753.98,252.85 754.20,252.85 754.43,252.85 754.65,252.85 754.87,252.85 755.09,252.85 755.31,252.85 755.53,252.85 755.76,252.85 755.98,252.85 756.20,252.85 756.42,252.85 756.64,252.85 756.86,252.85 757.09,252.85 757.31,252.85 757.53,252.85 757.75,252.85 757.97,252.85 758.19,252.85 758.42,252.85 758.64,252.85 758.86,252.85 759.08,252.85 759.30,252.85 759.52,252.85 759.74,252.85 759.97,252.85 760.19,252.85 760.41,252.85 760.63,252.85 760.85,252.85 761.07,252.85 761.30,252.85 761.52,252.85 761.74,252.85 761.96,252.85 762.18,252.85 762.40,252.85 762.63,252.85 762.85,252.85 763.07,252.85 763.29,252.85 763.51,252.85 763.73,252.85 763.96,252.85 764.18,252.85 764.40,252.85 764.62,252.85 764.84,252.85 765.06,252.85 765.29,252.85 765.51,252.85 765.73,252.85 765.95,252.85 766.17,252.85 766.39,252.85 766.62,252.85 766.84,252.85 767.06,252.85 767.28,252.85 767.50,252.85 767.72,252.85 767.94,252.85 768.17,252.85 768.39,252.85 768.61,252.85 768.83,252.85 769.05,252.85 769.27,252.85 769.50,252.85 769.72,252.85 769.94,252.85 770.16,252.85 770.38,252.85 770.60,252.85 770.83,252.85 771.05,252.85 771.27,252.85 771.49,252.85 771.71,252.85 771.93,252.85 772.16,252.85 772.38,252.85 772.60,252.85 772.82,252.85 773.04,252.85 773.26,252.85 773.49,252.85 773.71,252.85 773.93,252.85 774.15,252.85 774.37,252.85 774.59,252.85 774.81,252.85 775.04,252.85 775.26,252.85 775.48,252.85 775.70,252.85 775.92,252.85 776.14,252.85 776.37,252.85 776.59,252.85 776.81,252.85 777.03,252.85 777.25,252.85 777.47,252.85 777.70,252.85 777.92,252.85 778.14,252.85 778.36,252.85 778.58,252.85 778.80,252.85 779.03,252.85 779.25,252.85 779.47,252.85" fill="none" stroke="#0000ff" stroke-width="1.5" stroke-linejoin="round"/>
<polyline points="67.20,535.10 67.26,535.10 67.32,535.10 67.38,535.10 67.43,535.10 67.49,535.10 67.55,535.10 67.61,535.10 67.67,535.10 67.73,535.10 67.79,535.10 67.84,535.10 67.90,535.10 67.96,535.10 68.02,535.10 68.08,535.10 68.14,535.10 68.20,535.10 68.26,535.10 68.31,535.10 68.37,535.10 68.43,535.10 68.49,535.10 68.55,535.10 68.61,535.10 68.67,535.10 68.72,535.10 68.78,535.10 68.84,535.10 68.90,535.10 68.96,535.10 69.02,535.10 69.08,535.10 69.13,535.10 69.19,535.10 69.25,535.10 69.31,535.10 69.37,535.10 69.43,535.10 69.49,535.10 69.54,535.10 69.60,535.10 69.66,535.10 69.72,535.10 69.78,535.10 69.84,535.10 69.90,535.10 69.95,535.10 70.01,535.10 70.07,535.10 70.13,535.10 70.19,535.10 70.25,535.10 70.31,535.10 70.37,535.10 70.42,535.10 70.48,535.10 70.54,535.10 70.60,535.10 70.66,535.10 70.72,535.10 70.78,535.10 70.83,535.10 70.89,535.10 70.95,535.10 71.01,535.10 71.07,535.10 71.13,535.10 71.19,535.10 71.24,535.10 71.30,535.10 71.36,535.10 71.42,535.10 71.48,535.10 71.54,535.10 71.60,535.10 71.65,535.10 71.71,535.10 71.77,535.10 71.83,535.10 71.89,535.10 71.95,535.10 72.01,535.10 72.07,535.10 72.12,535.10 72.18,535.10 72.24,535.10 72.30,535.10 72.36,535.10 72.42,535.10 72.48,535.10 72.53,535.10 72.59,535.10 72.65,535.10 72.71,535.10 72.77,535.10 72.83,535.10 72.89,535.10 72.94,535.10 73.00,535.10 73.06,535.10 73.12,535.10 73.18,535.10 73.24,535.10 73.30,535.10 73.35,535.10 73.41,535.10 73.47,535.10 73.53,535.10 73.59,535.10 73.65,535.10 73.71,535.10 73.76,535.10 73.82,535.10 73.88,535.10 73.94,535.10 74.00,535.10 74.06,535.10 74.12,535.10 74.18,535.10 74.23,535.10 74.29,535.10 74.35,535.10 74.41,535.10 74.47,535.10 74.53,535.10 74.59,535.10 74.64,535.10 74.70,535.10 74.76,535.10 74.82,535.10 74.88,535.10 74.94,535.10 75.00,535.10 75.05,535.10 75.11,535.10 75.17,535.10 75.23,535.10 75.29,535.10 75.35,535.10 75.41,535.10 75.46,535.10 75.52,535.10 75.58,535.10 75.64,535.10 75.70,535.10 75.76,535.10 75.82,535.10 75.87,535.10 75.93,535.10 75.99,535.10 76.05,535.10 76.11,535.10 76.17,535.10 76.23,535.10 76.29,535.10 76.34,535.10 76.40,535.10 76.46,535.10 76.52,535.10 76.58,535.10 76.64,535.10 76.70,535.10 76.75,535.10 76.81,535.10 76.87,535.10 76.93,535.10 76.99,535.10 77.05,535.10 77.11,535.10 77.16,535.10 77.22,535.10 77.28,535.10 77.34,535.10 77.40,535.10 77.46,535.10 77.52,535.10 77.57,535.10 77.63,535.10 77.69,535.10 77.75,535.10 77.81,535.10 77.87,535.10 77.93,535.10 77.99,535.10 78.04,535.10 78.10,535.10 78.16,535.10 78.22,535.10 78.28,535.10 78.34,535.10 78.40,535.10 78.45,535.10 78.51,535.10 78.57,535.10 78.63,535.10 78.69,535.10 78.75,535.10 78.81,535.10 78.86,535.10 78.92,535.10 78.98,535.10 79.04,535.10 79.10,535.10 79.16,535.10 79.22,535.10 79.27,535.10 79.33,535.10 79.39,535.10 79.45,535.10 79.51,535.10 79.57,535.10 79.63,535.10 79.68,535.10 79.74,535.10 79.80,535.10 79.86,535.10 79.92,535.10 79.98,535.10 80.04,535.10 80.10,535.10 80.15,535.10 80.21,535.10 80.27,535.10 80.33,535.10 80.39,535.10 80.45,535.10 80.51,535.10 80.56,535.10 80.62,535.10 80.68,535.10 80.74,535.10 80.80,535.10 80.86,535.10 80.92,535.10 80.97,535.10 81.03,535.10 81.09,535.10 81.15,535.10 81.21,535.10 81.27,535.10 81.33,535.10 81.38,535.10 81.44,535.10 81.50,535.10 81.56,535.10 81.62,535.10 81.68,535.10 81.74,535.10 81.80,535.10 81.85,535.10 81.91,535.10 81.97,535.10 82.03,535.10 82.09,535.10 82.15,535.10 82.21,535.10 82.26,535.10 82.32,535.10 82.38,535.10 82.44,535.10 82.50,535.10 82.56,535.10 82.62,535.10 82.67,535.10 82.73,535.10 82.79,535.10 82.85,535.10 82.91,535.10 82.97,535.10 83.03,535.10 83.08,535.10 83.14,535.10 83.20,535.10 83.26,535.10 83.32,535.10 83.38,535.10 83.44,535.10 83.49,535.10 83.55,535.10 83.61,535.10 83.67,535.10 83.73,535.10 83.79,535.10 83.85,535.10 83.91,535.10 83.96,535.10 84.02,535.10 84.08,535.10 84.14,535.10 84.20,535.10 84.26,535.10 84.32,535.10 84.37,535.10 84.43,535.10 84.49,535.10 84.55,535.10 84.61,535.10 84.67,535.10 84.73,535.10 84.78,535.10 84.84,535.10 84.90,535.10 84.96,535.10 85.02,535.10 85.08,535.10 85.14,535.10 85.19,535.10 85.25,535.10 85.31,535.10 85.37,535.10 85.43,535.10 85.49,535.10 85.55,535.10 85.61,535.10 85.66,535.10 85.72,535.10 85.78,535.10 85.84,535.10 85.90,535.10 85.96,535.10 86.02,535.10 86.07,535.10 86.13,535.10 86.19,535.10 86.25,535.10 86.31,535.10 86.37,535.10 86.43,535.10 86.48,535.10 86.54,535.10 86.60,535.10 86.66,535.10 86.72,535.10 86.78,535.10 86.84,535.10 86.89,535.10 86.95,535.10 87.01,535.10 87.07,535.10 87.13,535.10 87.19,535.10 87.25,535.10 87.30,535.10 87.36,535.10 87.42,535.10 87.48,535.10 87.54,535.10 87.60,535.10 87.66,535.10 87.72,535.10 87.77,535.10 87.83,535.10 87.89,535.10 87.95,535.10 88.01,535.10 88.07,535.10 88.13,535.10 88.18,535.10 88.24,535.10 88.30,535.10 88.36,535.10 88.42,535.10 88.48,535.10 88.54,535.10 88.59,535.10 88.65,535.10 88.71,535.10 88.77,535.10 88.83,535.10 88.89,535.10 88.95,535.10 89.00,535.10 89.06,535.10 89.12,535.10 89.18,535.10 89.24,535.10 89.30,535.10 89.36,535.10 89.41,535.10 89.47,535.10 89.53,535.10 89.59,535.10 89.65,535.10 89.71,535.10 89.77,535.10 89.83,535.10 89.88,535.10 89.94,535.10 90.00,535.10 90.06,535.10 90.12,535.10 90.18,535.10 90.24,535.10 90.29,535.10 90.35,535.10 90.41,535.10 90.47,535.10 90.53,535.10 90.59,535.10 90.65,535.10 90.70,535.10 90.76,535.10 90.82,535.10 90.88,535.10 90.94,535.10 91.00,535.10 91.06,535.10 91.11,535.10 91.17,535.10 91.23,535.10 91.29,535.10 91.35,535.10 91.41,535.10 91.47,535.10 91.53,535.10 91.58,535.10 91.64,535.10 91.70,535.10 91.76,535.10 91.82,535.10 91.88,535.10 91.94,535.10 91.99,535.10 92.05,535.10 92.11,535.10 92.17,535.10 92.23,535.10 92.29,535.10 92.35,535.10 92.40,535.10 92.46,535.10 92.52,535.10 92.58,535.10 92.64,535.10 92.70,535.10 92.76,535.10 92.81,535.10 92.87,535.10 92.93,535.10 92.99,535.10 93.05,535.10 93.11,535.10 93.17,535.10 93.22,535.10 93.28,535.10 93.34,535.10 93.40,535.10 93.46,535.10 93.52,535.10 93.58,535.10 93.64,535.10 93.69,535.10 93.75,535.10 93.81,535.10 93.87,535.10 93.93,535.10 93.99,535.10 94.05,535.10 94.10,535.10 94.16,535.10 94.22,535.10 94.28,535.10 94.34,535.10 94.40,535.10 94.46,535.10 94.51,535.10 94.57,535.10 94.63,535.10 94.69,535.10 94.75,535.10 94.81,535.10 94.87,535.10 94.92,535.10 94.98,535.10 95.04,535.10 95.10,535.10 95.16,535.10 95.22,535.10 95.28,535.10 95.34,535.10 95.39,535.10 95.45,535.10 95.51,535.10 95.57,535.10 95.63,535.10 95.69,535.10 95.75,535.10 95.80,535.10 95.86,535.10 95.92,535.10 95.98,535.10 96.04,535.10 96.10,535.10 96.16,535.10 96.21,535.10 96.27,535.10 96.33,535.10 96.39,535.10 96.45,535.10 96.51,532.42 96.57,532.65 96.62,533.15 96.68,533.33 96.74,532.76 96.80,532.11 96.86,531.47 96.92,530.82 96.98,530.18 97.03,529.53 97.09,527.65 97.15,525.03 97.21,522.42 97.27,519.80 97.33,517.18 97.39,514.57 97.45,511.95 97.50,509.34 97.56,506.72 97.62,504.10 97.68,500.33 97.74,495.87 97.80,491.42 97.86,486.96 97.91,482.50 97.97,478.05 98.03,473.59 98.09,469.47 98.15,467.53 98.21,465.59 98.27,463.65 98.32,461.71 98.38,459.78 98.44,457.84 98.50,455.90 98.56,452.74 98.62,448.86 98.68,444.99 98.73,441.11 98.79,437.23 98.85,433.36 98.91,429.48 98.97,425.54 99.03,421.18 99.09,416.82 99.14,412.46 99.20,408.10 99.26,403.55 99.32,397.73 99.38,391.92 99.44,393.89 99.50,400.28 99.56,406.68 99.61,413.07 99.67,419.46 99.73,428.83 99.79,439.87 99.85,450.92 99.91,461.96 99.97,473.01 100.02,479.84 100.08,484.29 100.14,488.75 100.20,493.21 100.26,497.66 100.32,502.12 100.38,506.58 100.43,510.68 100.49,512.61 100.55,514.55 100.61,516.49 100.67,518.43 100.73,520.36 100.79,522.30 100.84,524.24 100.90,525.26 100.96,525.77 101.02,526.27 101.08,526.78 101.14,527.29 101.20,527.80 101.26,528.31 101.31,528.82 101.37,529.33 101.43,529.83 101.49,530.11 101.55,530.25 101.61,530.40 101.67,530.54 101.72,530.69 101.78,530.84 101.84,530.98 101.90,531.13 101.96,531.27 102.02,531.42 102.08,531.56 102.13,531.71 102.19,531.85 102.25,532.00 102.31,532.14 102.37,532.22 102.43,532.27 102.49,532.32 102.54,532.36 102.60,532.41 102.66,532.46 102.72,532.50 102.78,532.55 102.84,532.60 102.90,532.64 102.95,532.69 103.01,532.74 103.07,532.78 103.13,532.83 103.19,532.88 103.25,532.76 103.31,532.97 103.37,533.02 103.42,532.85 103.48,533.04 103.54,533.15 103.60,533.20 103.66,533.25 103.72,533.29 103.78,533.13 103.83,533.24 103.89,533.12 103.95,532.97 104.01,532.73 104.07,533.08 104.13,533.54 104.19,532.82 104.24,533.15 104.30,532.87 104.36,533.22 104.42,533.06 104.48,533.16 104.54,533.13 104.60,532.84 104.65,533.27 104.71,533.09 104.77,533.08 104.83,533.21 104.89,533.61 104.95,533.05 105.01,533.75 105.07,533.46 105.12,533.23 105.18,533.03 105.24,532.94 105.30,532.94 105.36,532.99 105.42,533.21 105.48,532.86 105.53,533.18 105.59,532.88 105.65,533.62 105.71,533.34 105.77,533.25 105.83,533.13 105.89,533.65 105.94,532.95 106.00,532.91 106.06,532.95 106.12,533.24 106.18,532.80 106.24,533.25 106.30,532.93 106.35,533.14 106.41,533.13 106.47,533.16 106.53,533.13 106.59,532.88 106.65,532.81 106.71,532.81 106.76,532.93 106.82,532.98 106.88,533.03 106.94,532.74 107.00,533.22 107.06,533.26 107.12,533.11 107.18,533.49 107.23,533.18 107.29,533.14 107.35,533.35 107.41,533.25 107.47,532.97 107.53,533.18 107.59,533.11 107.64,532.90 107.70,533.26 107.76,533.38 107.82,533.13 107.88,533.03 107.94,533.52 108.00,532.98 108.05,533.19 108.11,533.22 108.17,533.31 108.23,533.17 108.29,532.91 108.35,533.01 108.41,532.95 108.46,533.20 108.52,532.77 108.58,532.84 108.64,533.13 108.70,533.70 108.76,533.11 108.82,532.52 108.88,533.14 108.93,533.35 108.99,532.75 109.05,533.26 109.11,533.01 109.17,532.95 109.23,533.45 109.29,533.10 109.34,532.86 109.40,533.20 109.46,532.98 109.52,533.13 109.58,532.90 109.64,532.72 109.70,533.36 109.75,533.19 109.81,533.04 109.87,533.26 109.93,533.30 109.99,533.20 110.05,533.18 110.11,533.27 110.16,533.05 110.22,532.94 110.28,532.96 110.34,532.97 110.40,532.86 110.46,533.42 110.52,533.15 110.57,533.08 110.63,533.01 110.69,533.48 110.75,532.71 110.81,533.32 110.87,533.06 110.93,532.96 110.99,532.88 111.04,533.27 111.10,533.24 111.16,533.04 111.22,532.99 111.28,532.75 111.34,531.88 111.40,531.00 111.45,530.13 111.51,529.25 111.57,528.38 111.63,527.51 111.69,524.79 111.75,521.25 111.81,517.71 111.86,514.17 111.92,510.63 111.98,507.09 112.04,503.56 112.10,500.02 112.16,496.48 112.22,492.94 112.27,487.67 112.33,481.64 112.39,475.61 112.45,469.58 112.51,463.55 112.57,457.52 112.63,451.49 112.68,446.12 112.74,443.49 112.80,440.87 112.86,438.25 112.92,435.63 112.98,433.01 113.04,430.38 113.10,427.76 113.15,423.31 113.21,418.07 113.27,412.83 113.33,407.58 113.39,402.34 113.45,397.09 113.51,391.85 113.56,386.47 113.62,380.58 113.68,374.68 113.74,368.78 113.80,362.88 113.86,356.58 113.92,348.72 113.97,340.85 114.03,344.54 114.09,353.20 114.15,361.85 114.21,370.50 114.27,379.15 114.33,392.22 114.38,407.16 114.44,422.11 114.50,437.06 114.56,452.00 114.62,460.69 114.68,466.72 114.74,472.75 114.80,478.78 114.85,484.81 114.91,490.84 114.97,496.88 115.03,502.21 115.09,504.83 115.15,507.46 115.21,510.08 115.26,512.70 115.32,515.32 115.38,517.94 115.44,520.57 115.50,521.82 115.56,522.51 115.62,523.20 115.67,523.89 115.73,524.58 115.79,525.26 115.85,525.95 115.91,526.64 115.97,527.33 116.03,528.02 116.08,528.36 116.14,528.55 116.20,528.75 116.26,528.95 116.32,529.14 116.38,529.34 116.44,529.54 116.49,529.73 116.55,529.93 116.61,530.13 116.67,530.32 116.73,530.52 116.79,530.72 116.85,530.91 116.91,531.11 116.96,531.21 117.02,531.28 117.08,531.34 117.14,531.40 117.20,531.46 117.26,531.53 117.32,531.59 117.37,531.65 117.43,531.72 117.49,531.78 117.55,531.84 117.61,531.90 117.67,531.97 117.73,532.03 117.78,532.09 117.84,532.16 117.90,532.22 117.96,532.28 118.02,532.35 118.08,532.41 118.14,532.47 118.19,532.53 118.25,532.60 118.31,532.66 118.37,532.72 118.43,533.38 118.49,532.63 118.55,533.16 118.61,533.43 118.66,532.99 118.72,532.90 118.78,533.11 118.84,533.08 118.90,532.90 118.96,533.01 119.02,533.27 119.07,532.99 119.13,532.92 119.19,533.05 119.25,532.93 119.31,532.99 119.37,533.17 119.43,533.15 119.48,532.99 119.54,533.24 119.60,532.87 119.66,532.85 119.72,533.57 119.78,533.14 119.84,533.29 119.89,533.26 119.95,533.09 120.01,533.16 120.07,533.00 120.13,533.05 120.19,533.04 120.25,533.29 120.30,533.20 120.36,532.80 120.42,533.67 120.48,532.74 120.54,533.24 120.60,532.86 120.66,533.69 120.72,533.21 120.77,532.94 120.83,533.09 120.89,532.90 120.95,533.31 121.01,533.24 121.07,533.27 121.13,533.01 121.18,533.02 121.24,533.15 121.30,533.18 121.36,533.19 121.42,533.10 121.48,533.33 121.54,533.13 121.59,533.15 121.65,533.24 121.71,533.25 121.77,532.80 121.83,533.26 121.89,533.03 121.95,532.82 122.00,532.96 122.06,533.12 122.12,532.90 122.18,533.43 122.24,533.39 122.30,533.21 122.36,533.17 122.42,533.14 122.47,532.71 122.53,532.75 122.59,533.13 122.65,533.07 122.71,533.32 122.77,533.05 122.83,533.42 122.88,532.81 122.94,533.24 123.00,533.00 123.06,533.41 123.12,532.82 123.18,532.99 123.24,532.69 123.29,533.11 123.35,533.48 123.41,533.29 123.47,533.40 123.53,532.77 123.59,533.26 123.65,533.29 123.70,532.99 123.76,533.06 123.82,533.01 123.88,533.23 123.94,533.56 124.00,533.42 124.06,533.60 124.11,532.84 124.17,532.92 124.23,533.20 124.29,532.98 124.35,532.97 124.41,532.98 124.47,533.00 124.53,532.93 124.58,533.10 124.64,533.61 124.70,533.73 124.76,532.84 124.82,532.99 124.88,533.67 124.94,533.08 124.99,533.31 125.05,533.24 125.11,533.69 125.17,532.95 125.23,533.14 125.29,532.94 125.35,532.88 125.40,532.84 125.46,532.76 125.52,532.95 125.58,532.44 125.64,531.93 125.70,531.42 125.76,530.92 125.81,530.02 125.87,527.97 125.93,525.92 125.99,523.86 126.05,521.81 126.11,519.75 126.17,517.70 126.22,515.65 126.28,513.59 126.34,511.54 126.40,509.12 126.46,505.62 126.52,502.12 126.58,498.62 126.64,495.12 126.69,491.62 126.75,488.12 126.81,484.63 126.87,482.62 126.93,481.10 126.99,479.58 127.05,478.05 127.10,476.53 127.16,475.01 127.22,473.49 127.28,471.58 127.34,468.54 127.40,465.49 127.46,462.45 127.51,459.41 127.57,456.36 127.63,453.32 127.69,450.28 127.75,446.95 127.81,443.52 127.87,440.10 127.92,436.68 127.98,433.26 128.04,428.97 128.10,424.40 128.16,422.33 128.22,427.35 128.28,432.37 128.34,437.39 128.39,442.41 128.45,448.39 128.51,457.06 128.57,465.73 128.63,474.40 128.69,483.07 128.75,490.39 128.80,493.89 128.86,497.39 128.92,500.89 128.98,504.38 129.04,507.88 129.10,511.38 129.16,514.88 129.21,516.87 129.27,518.39 129.33,519.91 129.39,521.43 129.45,522.96 129.51,524.48 129.57,526.00 129.62,527.22 129.68,527.62 129.74,528.02 129.80,528.42 129.86,528.82 129.92,529.22 129.98,529.62 130.03,530.02 130.09,530.42 130.15,530.82 130.21,531.14 130.27,531.25 130.33,531.37 130.39,531.48 130.45,531.59 130.50,531.71 130.56,531.82 130.62,531.94 130.68,532.05 130.74,532.16 130.80,532.28 130.86,532.39 130.91,532.51 130.97,532.62 131.03,532.74 131.09,532.83 131.15,532.86 131.21,532.90 131.27,532.94 131.32,532.97 131.38,533.01 131.44,532.64 131.50,533.08 131.56,533.12 131.62,533.12 131.68,533.19 131.73,533.23 131.79,533.18 131.85,533.11 131.91,533.34 131.97,532.73 132.03,533.00 132.09,532.82 132.15,532.84 132.20,533.15 132.26,532.57 132.32,533.08 132.38,533.52 132.44,533.62 132.50,533.10 132.56,532.91 132.61,533.09 132.67,532.72 132.73,533.17 132.79,532.98 132.85,532.94 132.91,533.33 132.97,533.04 133.02,533.02 133.08,532.86 133.14,532.84 133.20,532.89 133.26,533.27 133.32,532.94 133.38,532.87 133.43,533.10 133.49,532.94 133.55,532.93 133.61,532.84 133.67,533.09 133.73,533.00 133.79,533.06 133.84,533.09 133.90,533.24 133.96,533.18 134.02,533.35 134.08,533.15 134.14,532.95 134.20,532.97 134.26,532.94 134.31,533.13 134.37,532.80 134.43,533.21 134.49,532.94 134.55,533.01 134.61,533.27 134.67,533.26 134.72,532.94 134.78,533.10 134.84,533.05 134.90,532.43 134.96,532.98 135.02,533.08 135.08,532.94 135.13,533.24 135.19,533.14 135.25,533.01 135.31,533.28 135.37,533.11 135.43,533.15 135.49,533.08 135.54,533.49 135.60,532.72 135.66,533.12 135.72,532.98 135.78,533.33 135.84,533.39 135.90,533.10 135.95,533.18 136.01,532.96 136.07,533.31 136.13,533.32 136.19,533.03 136.25,532.95 136.31,532.90 136.37,533.11 136.42,533.05 136.48,533.28 136.54,532.82 136.60,532.85 136.66,532.86 136.72,533.46 136.78,532.91 136.83,533.27 136.89,533.00 136.95,533.01 137.01,532.84 137.07,533.15 137.13,533.18 137.19,533.33 137.24,533.37 137.30,532.98 137.36,533.31 137.42,532.96 137.48,533.19 137.54,533.23 137.60,532.90 137.65,532.92 137.71,533.33 137.77,533.15 137.83,533.11 137.89,532.96 137.95,533.27 138.01,533.20 138.07,533.13 138.12,532.96 138.18,532.91 138.24,533.23 138.30,532.72 138.36,533.02 138.42,533.28 138.48,533.45 138.53,533.22 138.59,533.63 138.65,533.07 138.71,532.99 138.77,532.83 138.83,533.00 138.89,533.49 138.94,533.17 139.00,532.96 139.06,533.59 139.12,533.29 139.18,532.97 139.24,533.10 139.30,533.55 139.35,533.22 139.41,533.11 139.47,532.65 139.53,533.21 139.59,533.31 139.65,533.06 139.71,533.04 139.76,532.99 139.82,532.79 139.88,533.13 139.94,533.41 140.00,533.10 140.06,533.11 140.12,532.90 140.18,532.93 140.23,533.27 140.29,532.94 140.35,532.89 140.41,532.84 140.47,532.31 140.53,531.20 140.59,530.10 140.64,529.00 140.70,527.90 140.76,526.80 140.82,525.69 140.88,524.59 140.94,523.49 141.00,522.39 141.05,521.04 141.11,519.16 141.17,517.29 141.23,515.41 141.29,513.53 141.35,511.65 141.41,509.78 141.46,507.90 141.52,506.89 141.58,506.07 141.64,505.25 141.70,504.44 141.76,503.62 141.82,502.80 141.88,501.99 141.93,500.91 141.99,499.28 142.05,497.65 142.11,496.01 142.17,494.38 142.23,492.75 142.29,491.11 142.34,489.48 142.40,487.68 142.46,485.84 142.52,484.01 142.58,482.17 142.64,480.33 142.70,477.99 142.75,475.55 142.81,474.75 142.87,477.45 142.93,480.14 142.99,482.84 143.05,485.53 143.11,488.86 143.16,493.51 143.22,498.17 143.28,502.82 143.34,507.47 143.40,511.22 143.46,513.10 143.52,514.98 143.57,516.86 143.63,518.74 143.69,520.61 143.75,522.49 143.81,524.37 143.87,525.37 143.93,526.19 143.99,527.00 144.04,527.82 144.10,528.63 144.16,529.45 144.22,530.27 144.28,530.89 144.34,531.10 144.40,531.31 144.45,531.53 144.51,531.74 144.57,531.96 144.63,532.17 144.69,532.39 144.75,532.45 144.81,532.81 144.86,532.98 144.92,533.04 144.98,533.10 145.04,533.16 145.10,532.96 145.16,533.28 145.22,533.08 145.27,532.72 145.33,533.24 145.39,533.31 145.45,533.59 145.51,533.14 145.57,533.47 145.63,532.99 145.69,532.75 145.74,532.99 145.80,533.29 145.86,532.97 145.92,533.22 145.98,533.36 146.04,533.22 146.10,533.06 146.15,533.19 146.21,533.00 146.27,532.64 146.33,532.98 146.39,532.95 146.45,533.26 146.51,532.82 146.56,533.04 146.62,532.89 146.68,533.29 146.74,533.06 146.80,533.63 146.86,533.19 146.92,533.30 146.97,533.34 147.03,532.73 147.09,533.45 147.15,533.15 147.21,533.15 147.27,533.00 147.33,532.89 147.38,533.47 147.44,533.24 147.50,533.27 147.56,532.96 147.62,532.91 147.68,533.21 147.74,533.24 147.80,533.34 147.85,533.04 147.91,532.75 147.97,533.03 148.03,533.27 148.09,533.30 148.15,533.27 148.21,533.48 148.26,532.74 148.32,533.10 148.38,533.19 148.44,532.63 148.50,533.07 148.56,532.79 148.62,533.06 148.67,532.88 148.73,533.10 148.79,533.20 148.85,533.03 148.91,532.96 148.97,532.88 149.03,533.08 149.08,533.17 149.14,533.20 149.20,533.05 149.26,533.23 149.32,533.19 149.38,533.00 149.44,532.99 149.49,533.01 149.55,533.28 149.61,533.44 149.67,533.06 149.73,533.09 149.79,533.20 149.85,533.07 149.91,532.93 149.96,533.16 150.02,533.03 150.08,533.33 150.14,533.17 150.20,533.30 150.26,533.44 150.32,533.02 150.37,533.74 150.43,533.13 150.49,532.95 150.55,533.03 150.61,533.46 150.67,533.07 150.73,533.52 150.78,533.32 150.84,532.81 150.90,533.09 150.96,532.86 151.02,533.36 151.08,533.58 151.14,533.29 151.19,532.84 151.25,532.92 151.31,532.89 151.37,533.15 151.43,533.14 151.49,533.17 151.55,532.48 151.61,533.10 151.66,532.73 151.72,533.16 151.78,532.82 151.84,533.36 151.90,533.23 151.96,533.04 152.02,533.25 152.07,533.21 152.13,533.15 152.19,533.24 152.25,532.78 152.31,532.87 152.37,533.43 152.43,532.74 152.48,533.13 152.54,533.12 152.60,533.15 152.66,532.93 152.72,532.96 152.78,533.23 152.84,533.11 152.89,533.41 152.95,532.71 153.01,533.30 153.07,533.31 153.13,533.27 153.19,533.09 153.25,532.95 153.30,533.19 153.36,533.11 153.42,533.19 153.48,532.83 153.54,533.07 153.60,533.49 153.66,532.79 153.72,533.04 153.77,532.69 153.83,533.25 153.89,533.22 153.95,533.15 154.01,533.42 154.07,533.20 154.13,532.84 154.18,532.96 154.24,533.64 154.30,532.83 154.36,533.04 154.42,532.93 154.48,533.10 154.54,532.82 154.59,531.94 154.65,531.05 154.71,530.17 154.77,529.29 154.83,528.41 154.89,527.53 154.95,526.65 155.00,525.77 155.06,524.89 155.12,523.78 155.18,522.28 155.24,520.78 155.30,519.28 155.36,517.78 155.42,516.28 155.47,514.78 155.53,513.28 155.59,512.52 155.65,511.87 155.71,511.22 155.77,510.56 155.83,509.91 155.88,509.26 155.94,508.61 156.00,507.71 156.06,506.40 156.12,505.10 156.18,503.79 156.24,502.49 156.29,501.19 156.35,499.88 156.41,498.58 156.47,497.13 156.53,495.66 156.59,494.19 156.65,492.73 156.70,491.26 156.76,489.36 156.82,487.40 156.88,487.02 156.94,489.17 157.00,491.32 157.06,493.47 157.11,495.63 157.17,498.38 157.23,502.10 157.29,505.82 157.35,509.53 157.41,513.25 157.47,516.12 157.53,517.62 157.58,519.12 157.64,520.62 157.70,522.12 157.76,523.62 157.82,525.12 157.88,526.62 157.94,527.36 157.99,528.02 158.05,528.67 158.11,529.32 158.17,529.97 158.23,530.63 158.29,531.28 158.35,531.74 158.40,531.91 158.46,532.09 158.52,532.26 158.58,532.43 158.64,532.60 158.70,532.77 158.76,532.94 158.81,532.85 158.87,533.28 158.93,532.85 158.99,533.17 159.05,532.79 159.11,532.80 159.17,533.00 159.23,533.21 159.28,533.05 159.34,533.04 159.40,533.43 159.46,533.18 159.52,533.27 159.58,532.81 159.64,532.74 159.69,533.27 159.75,533.23 159.81,533.40 159.87,533.06 159.93,532.94 159.99,532.72 160.05,533.40 160.10,532.91 160.16,533.15 160.22,533.27 160.28,533.19 160.34,533.28 160.40,533.02 160.46,533.11 160.51,532.85 160.57,533.23 160.63,533.52 160.69,533.33 160.75,533.04 160.81,533.44 160.87,533.28 160.92,533.00 160.98,533.42 161.04,532.93 161.10,533.04 161.16,533.24 161.22,533.13 161.28,533.23 161.34,533.20 161.39,533.19 161.45,533.11 161.51,533.14 161.57,533.28 161.63,533.33 161.69,532.66 161.75,533.36 161.80,533.15 161.86,532.85 161.92,532.90 161.98,533.28 162.04,532.68 162.10,532.73 162.16,533.19 162.21,533.39 162.27,532.98 162.33,533.16 162.39,533.18 162.45,533.29 162.51,533.25 162.57,533.08 162.62,532.92 162.68,533.57 162.74,533.64 162.80,532.91 162.86,533.30 162.92,532.97 162.98,533.09 163.03,532.84 163.09,532.92 163.15,533.18 163.21,533.15 163.27,533.05 163.33,532.95 163.39,533.25 163.45,533.45 163.50,533.09 163.56,533.13 163.62,533.15 163.68,533.34 163.74,532.98 163.80,533.50 163.86,533.22 163.91,532.83 163.97,533.36 164.03,533.03 164.09,533.02 164.15,533.02 164.21,533.48 164.27,532.89 164.32,533.08 164.38,533.01 164.44,531.80 164.50,531.80 164.56,531.80 164.62,531.80 164.68,531.80 164.73,531.80 164.79,531.80 164.85,531.80 164.91,531.80 164.97,531.80 165.03,531.80 165.09,531.80 165.15,533.16 165.20,533.34 165.26,533.19 165.32,533.09 165.38,535.10 165.44,535.10 165.50,535.10 165.56,535.10 165.61,535.10 165.67,535.10 165.73,535.10 165.79,535.10 165.85,535.10 165.91,535.10 165.97,535.10 166.02,535.10 166.08,535.10 166.14,535.10 166.20,535.10 166.26,535.10 166.32,535.10 166.38,535.10 166.43,535.10 166.49,535.10 166.55,535.10 166.61,535.10 166.67,535.10 166.73,535.10 166.79,535.10 166.84,535.10 166.90,535.10 166.96,535.10 167.02,535.10 167.08,535.10 167.14,535.10 167.20,535.10 167.26,535.10 167.31,535.10 167.37,535.10 167.43,535.10 167.49,535.10 167.55,535.10 167.61,535.10 167.67,535.10 167.72,535.10 167.78,535.10 167.84,535.10 167.90,535.10 167.96,535.10 168.02,535.10 168.08,535.10 168.13,535.10 168.19,535.10 168.25,535.10 168.31,535.10 168.37,535.10 168.43,535.10 168.49,535.10 168.54,535.10 168.60,535.10 168.66,535.10 168.72,535.10 168.78,535.10 168.84,535.10 168.90,535.10 168.96,535.10 169.01,535.10 169.07,535.10 169.13,535.10 169.19,535.10 169.25,535.10 169.31,535.10 169.37,535.10 169.42,535.10 169.48,535.10 169.54,535.10 169.60,535.10 169.66,535.10 169.72,535.10 169.78,535.10 169.83,535.10 169.89,535.10 169.95,535.10 170.01,535.10 170.07,535.10 170.13,535.10 170.19,535.10 170.24,535.10 170.30,535.10 170.36,535.10 170.42,535.10 170.48,535.10 170.54,535.10 170.60,535.10 170.65,535.10 170.71,535.10 170.77,535.10 170.83,535.10 170.89,533.56 170.95,533.56 171.01,533.56 171.07,533.56 171.12,533.56 171.18,533.56 171.24,533.56 171.30,533.56 171.36,533.56 171.42,533.56 171.48,533.56 171.53,533.56 171.59,535.10 171.65,535.10 171.71,535.10 171.77,535.10 171.83,535.10 171.89,535.10 171.94,535.10 172.00,535.10 172.06,535.10 172.12,535.10 172.18,535.10 172.24,535.10 172.30,535.10 172.35,535.10 172.41,535.10 172.47,535.10 172.53,535.10 172.59,535.10 172.65,535.10 172.71,535.10 172.76,535.10 172.82,535.10 172.88,535.10 172.94,535.10 173.00,535.10 173.06,535.10 173.12,535.10 173.18,535.10 173.23,535.10 173.29,535.10 173.35,535.10 173.41,535.10 173.47,535.10 173.53,535.10 173.59,535.10 173.64,535.10 173.70,535.10 173.76,535.10 173.82,535.10 173.88,535.10 173.94,535.10 174.00,535.10 174.05,535.10 174.11,535.10 174.17,535.10 174.23,535.10 174.29,535.10 174.35,535.10 174.41,535.10 174.46,535.10 174.52,535.10 174.58,535.10 174.64,535.10 174.70,535.10 174.76,535.10 174.82,535.10 174.88,535.10 174.93,535.10 174.99,535.10 175.05,535.10 175.11,535.10 175.17,535.10 175.23,535.10 175.29,535.10 175.34,535.10 175.40,535.10 175.46,535.10 175.52,535.10 175.58,535.10 175.64,535.10 175.70,535.10 175.75,535.10 175.81,535.10 175.87,535.10 175.93,535.10 175.99,535.10 176.05,535.10 176.11,535.10 176.16,535.10 176.22,535.10 176.28,535.10 176.34,535.10 176.40,535.10 176.46,535.10 176.52,535.10 176.57,535.10 176.63,535.10 176.69,535.10 176.75,535.10 176.81,535.10 176.87,535.10 176.93,535.10 176.99,535.10 177.04,535.10 177.10,535.10 177.16,535.10 177.22,535.10 177.28,535.10 177.34,535.10 177.40,535.10 177.45,535.10 177.51,535.10 177.57,535.10 177.63,535.10 177.69,535.10 177.75,535.10 177.81,535.10 177.86,535.10 177.92,535.10 177.98,535.10 178.04,535.10 178.10,535.10 178.16,535.10 178.22,535.10 178.27,535.10 178.33,535.10 178.39,535.10 178.45,535.10 178.51,535.10 178.57,535.10 178.63,535.10 178.69,535.10 178.74,535.10 178.80,535.10 178.86,535.10 178.92,535.10 178.98,535.10 179.04,535.10 179.10,535.10 179.15,535.10 179.21,535.10 179.27,535.10 179.33,535.10 179.39,535.10 179.45,535.10 179.51,535.10 179.56,535.10 179.62,535.10 179.68,535.10 179.74,535.10 179.80,535.10 179.86,535.10 179.92,535.10 179.97,535.10 180.03,535.10 180.09,535.10 180.15,535.10 180.21,535.10 180.27,535.10 180.33,535.10 180.38,535.10 180.44,535.10 180.50,535.10 180.56,535.10 180.62,535.10 180.68,535.10 180.74,535.10 180.80,535.10 180.85,535.10 180.91,535.10 180.97,535.10 181.03,535.10 181.09,535.10 181.15,535.10 181.21,535.10 181.26,535.10 181.32,535.10 181.38,535.10 181.44,535.10 181.50,535.10 181.56,535.10 181.62,535.10 181.67,535.10 181.73,535.10 181.79,535.10 181.85,535.10 181.91,535.10 181.97,535.10 182.03,535.10 182.08,535.10 182.14,535.10 182.20,535.10 182.26,535.10 182.32,535.10 182.38,535.10 182.44,535.10 182.50,535.10 182.55,535.10 182.61,535.10 182.67,535.10 182.73,535.10 182.79,535.10 182.85,535.10 182.91,535.10 182.96,535.10 183.02,535.10 183.08,535.10 183.14,535.10 183.20,535.10 183.26,535.10 183.32,535.10 183.37,535.10 183.43,535.10 183.49,535.10 183.55,535.10 183.61,535.10 183.67,535.10 183.73,535.10 183.78,535.10 183.84,535.10 183.90,535.10 183.96,535.10 184.02,535.10 184.08,535.10 184.14,535.10 184.19,535.10 184.25,535.10 184.31,535.10 184.37,535.10 184.43,535.10 184.49,535.10 184.55,535.10 184.61,535.10 184.66,535.10 184.72,535.10 184.78,535.10 184.84,535.10 184.90,535.10 184.96,535.10 185.02,535.10 185.07,535.10 185.13,535.10 185.19,535.10 185.25,535.10 185.31,535.10 185.37,535.10 185.43,535.10 185.48,535.10 185.54,533.34 185.60,533.34 185.66,533.34 185.72,533.34 185.78,533.34 185.84,533.34 185.89,533.34 185.95,533.34 186.01,533.34 186.07,533.34 186.13,533.34 186.19,533.34 186.25,535.10 186.30,535.10 186.36,535.10 186.42,535.10 186.48,535.10 186.54,535.10 186.60,535.10 186.66,535.10 186.72,535.10 186.77,535.10 186.83,535.10 186.89,535.10 186.95,535.10 187.01,535.10 187.07,535.10 187.13,535.10 187.18,535.10 187.24,535.10 187.30,535.10 187.36,535.10 187.42,535.10 187.48,535.10 187.54,535.10 187.59,535.10 187.65,535.10 187.71,535.10 187.77,535.10 187.83,535.10 187.89,535.10 187.95,535.10 188.00,535.10 188.06,535.10 188.12,535.10 188.18,535.10 188.24,535.10 188.30,535.10 188.36,535.10 188.42,535.10 188.47,535.10 188.53,535.10 188.59,535.10 188.65,535.10 188.71,535.10 188.77,535.10 188.83,535.10 188.88,535.10 188.94,535.10 189.00,535.10 189.06,535.10 189.12,535.10 189.18,535.10 189.24,535.10 189.29,535.10 189.35,535.10 189.41,535.10 189.47,535.10 189.53,535.10 189.59,535.10 189.65,535.10 189.70,535.10 189.76,535.10 189.82,535.10 189.88,535.10 189.94,535.10 190.00,535.10 190.06,535.10 190.11,535.10 190.17,535.10 190.23,535.10 190.29,535.10 190.35,535.10 190.41,535.10 190.47,535.10 190.53,535.10 190.58,535.10 190.64,535.10 190.70,535.10 190.76,535.10 190.82,535.10 190.88,535.10 190.94,535.10 190.99,535.10 191.05,535.10 191.11,535.10 191.17,535.10 191.23,535.10 191.29,535.10 191.35,535.10 191.40,535.10 191.46,535.10 191.52,535.10 191.58,535.10 191.64,535.10 191.70,535.10 191.76,535.10 191.81,535.10 191.87,535.10 191.93,535.10 191.99,535.10 192.05,535.10 192.11,535.10 192.17,535.10 192.23,535.10 192.28,535.10 192.34,535.10 192.40,535.10 192.46,535.10 192.52,535.10 192.58,535.10 192.64,535.10 192.69,535.10 192.75,535.10 192.81,535.10 192.87,535.10 192.93,535.10 192.99,535.10 193.05,535.10 193.10,535.10 193.16,535.10 193.22,535.10 193.28,535.10 193.34,535.10 193.40,535.10 193.46,535.10 193.51,535.10 193.57,535.10 193.63,535.10 193.69,535.10 193.75,535.10 193.81,535.10 193.87,535.10 193.92,535.10 193.98,535.10 194.04,535.10 194.10,535.10 194.16,535.10 194.22,535.10 194.28,535.10 194.34,535.10 194.39,535.10 194.45,535.10 194.51,535.10 194.57,535.10 194.63,535.10 194.69,535.10 194.75,535.10 194.80,535.10 194.86,535.10 194.92,535.10 194.98,535.10 195.04,535.10 195.10,535.10 195.16,535.10 195.21,535.10 195.27,535.10 195.33,535.10 195.39,535.10 195.45,535.10 195.51,535.10 195.57,535.10 195.62,535.10 195.68,535.10 195.74,535.10 195.80,535.10 195.86,535.10 195.92,535.10 195.98,535.10 196.04,535.10 196.09,535.10 196.15,535.10 196.21,535.10 196.27,535.10 196.33,535.10 196.39,535.10 196.45,535.10 196.50,535.10 196.56,535.10 196.62,535.10 196.68,535.10 196.74,535.10 196.80,535.10 196.86,535.10 196.91,535.10 196.97,535.10 197.03,535.10 197.09,535.10 197.15,535.10 197.21,535.10 197.27,535.10 197.32,535.10 197.38,535.10 197.44,535.10 197.50,535.10 197.56,535.10 197.62,535.10 197.68,535.10 197.73,535.10 197.79,535.10 197.85,535.10 197.91,535.10 197.97,535.10 198.03,535.10 198.09,535.10 198.15,535.10 198.20,535.10 198.26,535.10 198.32,535.10 198.38,535.10 198.44,535.10 198.50,535.10 198.56,535.10 198.61,535.10 198.67,535.10 198.73,535.10 198.79,535.10 198.85,535.10 198.91,535.10 198.97,535.10 199.02,535.10 199.08,535.10 199.14,535.10 199.20,535.10 199.26,535.10 199.32,535.10 199.38,535.10 199.43,535.10 199.49,535.10 199.55,535.10 199.61,535.10 199.67,535.10 199.73,535.10 199.79,535.10 199.84,535.10 199.90,535.10 199.96,535.10 200.02,535.10 200.08,535.10 200.14,535.10 200.20,535.10 200.26,535.10 200.31,535.10 200.37,535.10 200.43,535.10 200.49,535.10 200.55,535.10 200.61,535.10 200.67,535.10 200.72,535.10 200.78,535.10 200.84,535.10 200.90,535.10 200.96,535.10 201.02,535.10 201.08,535.10 201.13,535.10 201.19,535.10 201.25,535.10 201.31,535.10 201.37,535.10 201.43,535.10 201.49,535.10 201.54,535.10 201.60,535.10 201.66,535.10 201.72,535.10 201.78,535.10 201.84,535.10 201.90,535.10 201.96,535.10 202.01,535.10 202.07,535.10 202.13,535.10 202.19,535.10 202.25,535.10 202.31,535.10 202.37,535.10 202.42,535.10 202.48,535.10 202.54,535.10 202.60,535.10 202.66,535.10 202.72,535.10 202.78,535.10 202.83,535.10 202.89,535.10 202.95,535.10 203.01,535.10 203.07,535.10 203.13,535.10 203.19,535.10 203.24,535.10 203.30,535.10 203.36,535.10 203.42,535.10 203.48,535.10 203.54,535.10 203.60,535.10 203.65,535.10 203.71,535.10 203.77,535.10 203.83,535.10 203.89,535.10 203.95,535.10 204.01,535.10 204.07,535.10 204.12,535.10 204.18,535.10 204.24,535.10 204.30,535.10 204.36,535.10 204.42,535.10 204.48,535.10 204.53,535.10 204.59,535.10 204.65,535.10 204.71,535.10 204.77,535.10 204.83,535.10 204.89,535.10 204.94,535.10 205.00,535.10 205.06,535.10 205.12,535.10 205.18,535.10 205.24,535.10 205.30,535.10 205.35,535.10 205.41,535.10 205.47,535.10 205.53,535.10 205.59,535.10 205.65,535.10 205.71,535.10 205.77,535.10 205.82,535.10 205.88,535.10 205.94,535.10 206.00,535.10 206.06,535.10 206.12,535.10 206.18,535.10 206.23,535.10 206.29,535.10 206.35,535.10 206.41,535.10 206.47,535.10 206.53,535.10 206.59,535.10 206.64,535.10 206.70,535.10 206.76,535.10 206.82,535.10 206.88,535.10 206.94,535.10 207.00,535.10 207.05,535.10 207.11,535.10 207.17,535.10 207.23,535.10 207.29,535.10 207.35,535.10 207.41,535.10 207.46,535.10 207.52,535.10 207.58,535.10 207.64,535.10 207.70,535.10 207.76,535.10 207.82,535.10 207.88,535.10 207.93,535.10 207.99,535.10 208.05,535.10 208.11,535.10 208.17,535.10 208.23,535.10 208.29,535.10 208.34,535.10 208.40,535.10 208.46,535.10 208.52,535.10 208.58,535.10 208.64,535.10 208.70,535.10 208.75,535.10 208.81,535.10 208.87,535.10 208.93,535.10 208.99,535.10 209.05,535.10 209.11,535.10 209.16,535.10 209.22,535.10 209.28,535.10 209.34,535.10 209.40,535.10 209.46,535.10 209.52,535.10 209.57,535.10 209.63,535.10 209.69,535.10 209.75,535.10 209.81,535.10 209.87,535.10 209.93,535.10 209.99,535.10 210.04,535.10 210.10,535.10 210.16,535.10 210.22,535.10 210.28,535.10 210.34,535.10 210.40,535.10 210.45,535.10 210.51,535.10 210.57,535.10 210.63,535.10 210.69,535.10 210.75,535.10 210.81,535.10 210.86,535.10 210.92,535.10 210.98,535.10 211.04,535.10 211.10,535.10 211.16,535.10 211.22,535.10 211.27,535.10 211.33,535.10 211.39,535.10 211.45,535.10 211.51,535.10 211.57,535.10 211.63,535.10 211.69,535.10 211.74,535.10 211.80,535.10 211.86,535.10 211.92,535.10 211.98,535.10 212.04,535.10 212.10,535.10 212.15,535.10 212.21,535.10 212.27,535.10 212.33,535.10 212.39,535.10 212.45,535.10 212.51,535.10 212.56,535.10 212.62,535.10 212.68,535.10 212.74,535.10 212.80,535.10 212.86,535.10 212.92,535.10 212.97,535.10 213.03,535.10 213.09,535.10 213.15,535.10 213.21,534.91 213.27,534.61 213.33,534.31 213.38,534.00 213.44,533.70 213.50,533.40 213.56,533.09 213.62,532.79 213.68,532.49 213.74,531.61 213.80,530.38 213.85,529.15 213.91,527.93 213.97,526.70 214.03,525.47 214.09,524.25 214.15,523.02 214.21,521.79 214.26,520.57 214.32,518.80 214.38,516.71 214.44,514.62 214.50,512.53 214.56,510.44 214.62,508.35 214.67,506.26 214.73,504.32 214.79,503.41 214.85,502.50 214.91,501.59 214.97,500.69 215.03,499.78 215.08,498.87 215.14,497.96 215.20,496.48 215.26,494.66 215.32,492.84 215.38,491.02 215.44,489.21 215.50,487.39 215.55,485.57 215.61,483.72 215.67,481.68 215.73,479.64 215.79,477.59 215.85,475.55 215.91,473.41 215.96,470.68 216.02,467.96 216.08,468.87 216.14,471.87 216.20,474.86 216.26,477.86 216.32,480.86 216.37,485.25 216.43,490.43 216.49,495.61 216.55,500.79 216.61,505.97 216.67,509.18 216.73,511.27 216.78,513.36 216.84,515.45 216.90,517.54 216.96,519.63 217.02,521.72 217.08,523.64 217.14,524.55 217.19,525.46 217.25,526.37 217.31,527.28 217.37,528.19 217.43,529.10 217.49,530.00 217.55,530.48 217.61,530.72 217.66,530.96 217.72,531.20 217.78,531.44 217.84,531.68 217.90,531.91 217.96,532.15 218.02,532.39 218.07,532.63 218.13,532.76 218.19,532.83 218.25,532.90 218.31,532.96 218.37,533.03 218.43,533.10 218.48,533.17 218.54,533.24 218.60,533.17 218.66,533.27 218.72,533.44 218.78,533.09 218.84,533.38 218.89,533.35 218.95,533.13 219.01,533.26 219.07,533.44 219.13,533.60 219.19,533.08 219.25,533.84 219.31,533.51 219.36,533.76 219.42,533.50 219.48,533.18 219.54,533.44 219.60,533.46 219.66,533.38 219.72,532.93 219.77,533.06 219.83,533.32 219.89,533.51 219.95,533.46 220.01,533.29 220.07,533.42 220.13,533.39 220.18,533.60 220.24,533.67 220.30,533.61 220.36,533.31 220.42,533.57 220.48,532.80 220.54,533.24 220.59,533.22 220.65,533.14 220.71,533.59 220.77,533.62 220.83,533.41 220.89,533.23 220.95,533.23 221.00,532.99 221.06,533.04 221.12,533.12 221.18,533.10 221.24,533.29 221.30,533.15 221.36,533.41 221.42,533.43 221.47,533.13 221.53,533.71 221.59,533.03 221.65,532.92 221.71,533.44 221.77,533.16 221.83,533.29 221.88,533.55 221.94,533.25 222.00,533.21 222.06,533.10 222.12,533.40 222.18,533.29 222.24,533.46 222.29,533.10 222.35,533.35 222.41,533.13 222.47,533.47 222.53,533.30 222.59,533.52 222.65,533.49 222.70,533.08 222.76,533.36 222.82,533.34 222.88,533.16 222.94,533.50 223.00,532.89 223.06,533.50 223.11,533.41 223.17,532.84 223.23,533.71 223.29,532.93 223.35,533.24 223.41,533.21 223.47,533.56 223.53,533.29 223.58,533.61 223.64,533.10 223.70,533.38 223.76,533.47 223.82,533.44 223.88,533.36 223.94,533.11 223.99,533.25 224.05,533.50 224.11,533.52 224.17,533.56 224.23,533.15 224.29,533.22 224.35,533.58 224.40,533.69 224.46,533.35 224.52,533.46 224.58,533.22 224.64,533.36 224.70,533.25 224.76,533.16 224.81,533.10 224.87,533.38 224.93,533.18 224.99,533.46 225.05,533.60 225.11,533.29 225.17,533.07 225.23,533.02 225.28,533.35 225.34,533.72 225.40,533.27 225.46,533.39 225.52,533.20 225.58,533.10 225.64,533.44 225.69,533.50 225.75,533.43 225.81,533.49 225.87,533.56 225.93,533.29 225.99,533.50 226.05,533.40 226.10,533.42 226.16,533.48 226.22,533.21 226.28,533.45 226.34,533.36 226.40,533.17 226.46,533.38 226.51,533.67 226.57,533.45 226.63,533.45 226.69,533.21 226.75,532.98 226.81,533.30 226.87,533.38 226.92,533.03 226.98,533.50 227.04,533.28 227.10,533.24 227.16,533.36 227.22,533.39 227.28,533.31 227.34,533.01 227.39,533.22 227.45,533.48 227.51,533.28 227.57,533.14 227.63,532.96 227.69,533.17 227.75,533.31 227.80,533.04 227.86,533.15 227.92,533.32 227.98,533.49 228.04,533.33 228.10,533.14 228.16,533.58 228.21,533.70 228.27,533.24 228.33,533.58 228.39,533.17 228.45,532.76 228.51,532.35 228.57,531.93 228.62,531.52 228.68,530.25 228.74,528.58 228.80,526.91 228.86,525.24 228.92,523.57 228.98,521.91 229.04,520.24 229.09,518.57 229.15,516.90 229.21,515.23 229.27,512.75 229.33,509.91 229.39,507.07 229.45,504.23 229.50,501.39 229.56,498.54 229.62,495.70 229.68,493.17 229.74,491.94 229.80,490.70 229.86,489.46 229.91,488.23 229.97,486.99 230.03,485.76 230.09,484.52 230.15,482.43 230.21,479.96 230.27,477.49 230.32,475.01 230.38,472.54 230.44,470.07 230.50,467.60 230.56,465.07 230.62,462.29 230.68,459.51 230.73,456.73 230.79,453.95 230.85,450.98 230.91,447.28 230.97,443.57 231.03,445.30 231.09,449.38 231.15,453.46 231.20,457.54 231.26,461.61 231.32,467.77 231.38,474.81 231.44,481.85 231.50,488.89 231.56,495.94 231.61,500.03 231.67,502.88 231.73,505.72 231.79,508.56 231.85,511.40 231.91,514.24 231.97,517.09 232.02,519.60 232.08,520.84 232.14,522.07 232.20,523.31 232.26,524.54 232.32,525.78 232.38,527.01 232.43,528.25 232.49,528.84 232.55,529.17 232.61,529.49 232.67,529.82 232.73,530.14 232.79,530.47 232.85,530.79 232.90,531.11 232.96,531.44 233.02,531.76 233.08,531.92 233.14,532.02 233.20,532.11 233.26,532.20 233.31,532.29 233.37,532.39 233.43,532.48 233.49,532.57 233.55,532.66 233.61,532.76 233.67,532.85 233.72,532.94 233.78,533.03 233.84,533.12 233.90,533.22 233.96,533.27 234.02,533.21 234.08,533.33 234.13,533.36 234.19,533.26 234.25,533.27 234.31,533.06 234.37,533.48 234.43,533.11 234.49,533.46 234.54,533.20 234.60,533.59 234.66,533.38 234.72,533.49 234.78,532.96 234.84,533.56 234.90,533.10 234.96,533.53 235.01,533.60 235.07,533.28 235.13,533.12 235.19,533.36 235.25,533.22 235.31,533.30 235.37,533.36 235.42,533.04 235.48,533.35 235.54,533.15 235.60,533.60 235.66,533.39 235.72,533.14 235.78,533.45 235.83,533.82 235.89,533.18 235.95,533.22 236.01,533.41 236.07,533.32 236.13,533.42 236.19,533.26 236.24,533.10 236.30,533.27 236.36,533.36 236.42,533.45 236.48,533.38 236.54,533.45 236.60,533.13 236.65,533.57 236.71,533.47 236.77,533.26 236.83,533.27 236.89,533.28 236.95,533.43 237.01,533.29 237.07,533.65 237.12,533.67 237.18,533.62 237.24,533.25 237.30,533.04 237.36,533.43 237.42,533.46 237.48,533.40 237.53,532.94 237.59,533.29 237.65,533.31 237.71,533.46 237.77,533.22 237.83,533.05 237.89,533.29 237.94,533.51 238.00,533.04 238.06,533.34 238.12,532.94 238.18,533.56 238.24,533.36 238.30,533.27 238.35,533.72 238.41,533.31 238.47,533.20 238.53,533.36 238.59,533.24 238.65,533.29 238.71,533.52 238.77,533.17 238.82,533.50 238.88,533.40 238.94,533.50 239.00,533.19 239.06,533.44 239.12,533.44 239.18,533.81 239.23,533.40 239.29,533.12 239.35,533.79 239.41,533.26 239.47,533.35 239.53,533.72 239.59,533.43 239.64,533.13 239.70,533.34 239.76,533.26 239.82,533.10 239.88,533.41 239.94,533.15 240.00,533.61 240.05,533.53 240.11,533.02 240.17,533.04 240.23,533.13 240.29,533.66 240.35,533.39 240.41,533.53 240.46,532.92 240.52,533.63 240.58,533.61 240.64,533.47 240.70,533.26 240.76,533.46 240.82,533.40 240.88,533.27 240.93,533.33 240.99,533.74 241.05,533.61 241.11,532.98 241.17,533.32 241.23,532.94 241.29,533.01 241.34,533.09 241.40,533.32 241.46,532.99 241.52,533.43 241.58,532.84 241.64,533.20 241.70,533.20 241.75,533.41 241.81,533.45 241.87,533.38 241.93,533.44 241.99,533.51 242.05,533.56 242.11,533.28 242.16,533.06 242.22,532.89 242.28,532.97 242.34,532.66 242.40,532.34 242.46,531.30 242.52,530.03 242.58,528.75 242.63,527.47 242.69,526.19 242.75,524.91 242.81,523.64 242.87,522.36 242.93,521.08 242.99,519.80 243.04,517.85 243.10,515.67 243.16,513.49 243.22,511.31 243.28,509.14 243.34,506.96 243.40,504.78 243.45,502.91 243.51,501.97 243.57,501.02 243.63,500.07 243.69,499.13 243.75,498.18 243.81,497.23 243.86,496.29 243.92,494.63 243.98,492.73 244.04,490.84 244.10,488.94 244.16,487.05 244.22,485.16 244.27,483.26 244.33,481.31 244.39,479.18 244.45,477.05 244.51,474.92 244.57,472.79 244.63,470.47 244.69,467.63 244.74,464.79 244.80,466.47 244.86,469.60 244.92,472.72 244.98,475.85 245.04,478.97 245.10,483.82 245.15,489.22 245.21,494.61 245.27,500.01 245.33,505.41 245.39,508.36 245.45,510.53 245.51,512.71 245.56,514.89 245.62,517.07 245.68,519.25 245.74,521.42 245.80,523.28 245.86,524.23 245.92,525.17 245.97,526.12 246.03,527.07 246.09,528.01 246.15,528.96 246.21,529.91 246.27,530.32 246.33,530.57 246.38,530.82 246.44,531.07 246.50,531.31 246.56,531.56 246.62,531.81 246.68,532.06 246.74,532.31 246.80,532.56 246.85,532.67 246.91,532.74 246.97,532.81 247.03,532.88 247.09,532.95 247.15,533.02 247.21,533.10 247.26,533.17 247.32,533.24 247.38,533.21 247.44,533.36 247.50,533.06 247.56,533.49 247.62,533.59 247.67,533.35 247.73,533.46 247.79,533.37 247.85,533.10 247.91,533.55 247.97,533.21 248.03,533.16 248.08,533.12 248.14,533.78 248.20,533.32 248.26,533.50 248.32,533.40 248.38,533.53 248.44,533.42 248.50,533.15 248.55,532.98 248.61,533.20 248.67,533.62 248.73,533.08 248.79,533.62 248.85,533.43 248.91,533.11 248.96,533.48 249.02,533.20 249.08,533.41 249.14,533.60 249.20,533.31 249.26,533.47 249.32,532.97 249.37,532.95 249.43,533.01 249.49,533.57 249.55,532.94 249.61,533.28 249.67,533.24 249.73,533.31 249.78,533.47 249.84,533.32 249.90,533.16 249.96,533.01 250.02,533.23 250.08,533.35 250.14,533.45 250.19,533.42 250.25,533.00 250.31,533.20 250.37,533.30 250.43,533.71 250.49,533.73 250.55,533.20 250.61,533.21 250.66,533.11 250.72,533.31 250.78,533.49 250.84,533.72 250.90,533.55 250.96,533.85 251.02,533.29 251.07,533.25 251.13,533.05 251.19,533.75 251.25,533.66 251.31,533.22 251.37,533.28 251.43,533.79 251.48,533.50 251.54,533.33 251.60,533.44 251.66,533.27 251.72,533.34 251.78,533.47 251.84,533.27 251.89,533.37 251.95,533.10 252.01,533.67 252.07,533.40 252.13,533.50 252.19,533.41 252.25,533.26 252.31,533.21 252.36,533.82 252.42,533.10 252.48,533.24 252.54,533.24 252.60,533.34 252.66,533.15 252.72,533.26 252.77,533.75 252.83,533.50 252.89,533.41 252.95,533.43 253.01,533.45 253.07,533.22 253.13,533.60 253.18,533.52 253.24,533.57 253.30,533.36 253.36,533.26 253.42,533.55 253.48,533.27 253.54,533.47 253.59,533.05 253.65,533.84 253.71,533.36 253.77,533.10 253.83,533.43 253.89,533.60 253.95,533.54 254.00,533.23 254.06,533.47 254.12,533.12 254.18,533.34 254.24,533.47 254.30,533.45 254.36,533.25 254.42,533.13 254.47,533.53 254.53,533.61 254.59,533.61 254.65,533.25 254.71,532.95 254.77,533.46 254.83,533.20 254.88,533.44 254.94,533.14 255.00,533.67 255.06,533.22 255.12,533.63 255.18,533.53 255.24,533.27 255.29,533.40 255.35,533.36 255.41,533.23 255.47,533.30 255.53,533.02 255.59,533.18 255.65,533.53 255.70,533.36 255.76,533.47 255.82,533.44 255.88,532.95 255.94,533.52 256.00,533.07 256.06,533.01 256.12,532.75 256.17,533.34 256.23,533.29 256.29,533.28 256.35,533.42 256.41,532.95 256.47,532.91 256.53,533.85 256.58,533.41 256.64,533.08 256.70,533.57 256.76,533.50 256.82,533.34 256.88,533.35 256.94,533.39 256.99,533.38 257.05,532.95 257.11,533.86 257.17,533.46 257.23,533.60 257.29,533.29 257.35,533.45 257.40,533.24 257.46,533.34 257.52,532.84 257.58,533.30 257.64,533.06 257.70,532.26 257.76,531.32 257.81,530.39 257.87,529.45 257.93,528.52 257.99,527.58 258.05,526.64 258.11,525.71 258.17,524.77 258.23,523.84 258.28,522.36 258.34,520.77 258.40,519.18 258.46,517.58 258.52,515.99 258.58,514.39 258.64,512.80 258.69,511.49 258.75,510.79 258.81,510.10 258.87,509.41 258.93,508.71 258.99,508.02 259.05,507.33 259.10,506.64 259.16,505.37 259.22,503.99 259.28,502.60 259.34,501.21 259.40,499.83 259.46,498.44 259.51,497.05 259.57,495.61 259.63,494.05 259.69,492.49 259.75,490.93 259.81,489.37 259.87,487.65 259.92,485.57 259.98,483.49 260.04,485.00 260.10,487.29 260.16,489.57 260.22,491.86 260.28,494.15 260.34,497.81 260.39,501.76 260.45,505.71 260.51,509.66 260.57,513.62 260.63,515.62 260.69,517.22 260.75,518.81 260.80,520.41 260.86,522.00 260.92,523.60 260.98,525.19 261.04,526.49 261.10,527.18 261.16,527.88 261.21,528.57 261.27,529.26 261.33,529.96 261.39,530.65 261.45,531.34 261.51,531.61 261.57,531.79 261.62,531.98 261.68,532.16 261.74,532.34 261.80,532.52 261.86,532.70 261.92,532.89 261.98,533.07 262.04,533.25 262.09,533.32 262.15,533.38 262.21,533.43 262.27,533.48 262.33,533.53 262.39,533.36 262.45,533.23 262.50,533.47 262.56,533.05 262.62,533.53 262.68,533.35 262.74,533.10 262.80,533.30 262.86,533.53 262.91,533.28 262.97,533.44 263.03,533.11 263.09,533.18 263.15,533.40 263.21,533.24 263.27,532.97 263.32,533.10 263.38,533.16 263.44,533.39 263.50,533.48 263.56,533.52 263.62,533.12 263.68,533.59 263.73,533.26 263.79,533.00 263.85,533.71 263.91,533.27 263.97,533.57 264.03,533.38 264.09,533.24 264.15,533.57 264.20,533.65 264.26,533.44 264.32,533.31 264.38,533.44 264.44,533.57 264.50,533.20 264.56,533.60 264.61,533.67 264.67,533.33 264.73,532.87 264.79,533.47 264.85,533.37 264.91,533.58 264.97,533.49 265.02,533.60 265.08,533.29 265.14,533.50 265.20,533.53 265.26,533.15 265.32,533.68 265.38,533.15 265.43,533.39 265.49,533.56 265.55,533.36 265.61,533.41 265.67,533.28 265.73,533.40 265.79,532.93 265.85,533.12 265.90,533.10 265.96,533.62 266.02,533.43 266.08,533.09 266.14,533.22 266.20,533.35 266.26,533.37 266.31,533.12 266.37,533.77 266.43,533.54 266.49,533.66 266.55,533.09 266.61,533.66 266.67,533.41 266.72,533.05 266.78,533.42 266.84,533.29 266.90,533.34 266.96,533.20 267.02,532.86 267.08,533.61 267.13,533.36 267.19,532.98 267.25,532.82 267.31,533.40 267.37,533.04 267.43,533.20 267.49,533.21 267.54,533.66 267.60,533.71 267.66,533.32 267.72,533.37 267.78,533.37 267.84,533.61 267.90,533.03 267.96,533.39 268.01,532.74 268.07,533.40 268.13,533.26 268.19,533.18 268.25,533.42 268.31,533.57 268.37,533.47 268.42,533.34 268.48,533.46 268.54,532.90 268.60,533.46 268.66,533.17 268.72,533.16 268.78,533.30 268.83,533.58 268.89,533.23 268.95,533.13 269.01,533.31 269.07,533.34 269.13,533.82 269.19,533.59 269.24,533.38 269.30,533.30 269.36,533.18 269.42,533.41 269.48,533.30 269.54,533.57 269.60,533.20 269.66,533.18 269.71,533.37 269.77,533.13 269.83,533.41 269.89,533.45 269.95,533.41 270.01,532.90 270.07,533.70 270.12,533.30 270.18,533.42 270.24,533.32 270.30,533.67 270.36,533.18 270.42,533.20 270.48,533.40 270.53,533.44 270.59,533.33 270.65,533.13 270.71,533.68 270.77,533.03 270.83,533.41 270.89,533.15 270.94,533.52 271.00,532.90 271.06,533.28 271.12,532.94 271.18,533.47 271.24,533.48 271.30,533.09 271.35,533.18 271.41,533.26 271.47,533.06 271.53,533.24 271.59,533.41 271.65,533.75 271.71,533.84 271.77,533.19 271.82,533.21 271.88,533.53 271.94,533.21 272.00,533.32 272.06,532.58 272.12,531.77 272.18,530.96 272.23,530.14 272.29,529.33 272.35,528.52 272.41,527.70 272.47,526.89 272.53,526.08 272.59,525.26 272.64,523.95 272.70,522.56 272.76,521.18 272.82,519.79 272.88,518.41 272.94,517.02 273.00,515.64 273.05,514.55 273.11,513.94 273.17,513.34 273.23,512.74 273.29,512.14 273.35,511.53 273.41,510.93 273.46,510.33 273.52,509.20 273.58,507.99 273.64,506.79 273.70,505.58 273.76,504.38 273.82,503.17 273.88,501.97 273.93,500.71 273.99,499.35 274.05,497.99 274.11,496.64 274.17,495.28 274.23,493.76 274.29,491.95 274.34,490.14 274.40,491.69 274.46,493.68 274.52,495.66 274.58,497.65 274.64,499.64 274.70,502.91 274.75,506.34 274.81,509.77 274.87,513.21 274.93,516.64 274.99,518.26 275.05,519.65 275.11,521.03 275.16,522.42 275.22,523.80 275.28,525.19 275.34,526.57 275.40,527.66 275.46,528.26 275.52,528.86 275.58,529.46 275.63,530.06 275.69,530.67 275.75,531.27 275.81,531.87 275.87,532.08 275.93,532.24 275.99,532.40 276.04,532.55 276.10,532.71 276.16,532.87 276.22,533.03 276.28,533.15 276.34,533.03 276.40,532.96 276.45,533.01 276.51,533.08 276.57,533.55 276.63,533.35 276.69,533.22 276.75,533.32 276.81,533.76 276.86,533.37 276.92,533.49 276.98,533.28 277.04,533.25 277.10,533.65 277.16,533.50 277.22,533.29 277.27,533.56 277.33,533.34 277.39,533.52 277.45,533.49 277.51,533.13 277.57,533.36 277.63,533.45 277.69,532.99 277.74,533.40 277.80,533.34 277.86,533.33 277.92,532.66 277.98,533.19 278.04,533.14 278.10,533.41 278.15,533.14 278.21,533.08 278.27,533.59 278.33,533.23 278.39,532.96 278.45,532.93 278.51,533.28 278.56,532.82 278.62,533.48 278.68,533.10 278.74,533.21 278.80,533.56 278.86,533.10 278.92,533.61 278.97,533.47 279.03,533.35 279.09,533.59 279.15,533.07 279.21,533.43 279.27,533.60 279.33,533.27 279.39,533.33 279.44,533.57 279.50,533.45 279.56,533.13 279.62,533.14 279.68,533.68 279.74,533.11 279.80,533.11 279.85,533.07 279.91,533.43 279.97,533.50 280.03,533.35 280.09,533.47 280.15,533.38 280.21,532.68 280.26,532.68 280.32,532.68 280.38,532.68 280.44,532.68 280.50,532.68 280.56,532.68 280.62,532.68 280.67,532.68 280.73,532.68 280.79,532.68 280.85,532.68 280.91,533.36 280.97,533.19 281.03,533.27 281.08,532.76 281.14,535.10 281.20,535.10 281.26,535.10 281.32,535.10 281.38,535.10 281.44,535.10 281.50,535.10 281.55,535.10 281.61,535.10 281.67,535.10 281.73,535.10 281.79,535.10 281.85,535.10 281.91,535.10 281.96,535.10 282.02,535.10 282.08,535.10 282.14,535.10 282.20,535.10 282.26,533.78 282.32,533.78 282.37,533.78 282.43,533.78 282.49,533.78 282.55,533.78 282.61,533.78 282.67,533.78 282.73,533.78 282.78,533.78 282.84,533.78 282.90,533.78 282.96,535.10 283.02,535.10 283.08,535.10 283.14,535.10 283.19,535.10 283.25,535.10 283.31,535.10 283.37,535.10 283.43,535.10 283.49,535.10 283.55,535.10 283.61,535.10 283.66,535.10 283.72,535.10 283.78,535.10 283.84,535.10 283.90,535.10 283.96,535.10 284.02,535.10 284.07,535.10 284.13,535.10 284.19,535.10 284.25,535.10 284.31,535.10 284.37,535.10 284.43,535.10 284.48,535.10 284.54,535.10 284.60,535.10 284.66,535.10 284.72,535.10 284.78,535.10 284.84,535.10 284.89,535.10 284.95,535.10 285.01,535.10 285.07,535.10 285.13,535.10 285.19,535.10 285.25,535.10 285.31,535.10 285.36,535.10 285.42,535.10 285.48,535.10 285.54,535.10 285.60,535.10 285.66,535.10 285.72,535.10 285.77,535.10 285.83,535.10 285.89,535.10 285.95,535.10 286.01,535.10 286.07,535.10 286.13,535.10 286.18,535.10 286.24,535.10 286.30,535.10 286.36,535.10 286.42,535.10 286.48,535.10 286.54,535.10 286.59,535.10 286.65,535.10 286.71,535.10 286.77,535.10 286.83,535.10 286.89,535.10 286.95,535.10 287.00,535.10 287.06,535.10 287.12,535.10 287.18,535.10 287.24,535.10 287.30,535.10 287.36,535.10 287.42,535.10 287.47,535.10 287.53,535.10 287.59,535.10 287.65,535.10 287.71,535.10 287.77,535.10 287.83,535.10 287.88,535.10 287.94,535.10 288.00,535.10 288.06,535.10 288.12,535.10 288.18,535.10 288.24,535.10 288.29,535.10 288.35,535.10 288.41,535.10 288.47,535.10 288.53,535.10 288.59,535.10 288.65,535.10 288.70,535.10 288.76,535.10 288.82,535.10 288.88,535.10 288.94,535.10 289.00,535.10 289.06,535.10 289.12,535.10 289.17,535.10 289.23,535.10 289.29,535.10 289.35,535.10 289.41,535.10 289.47,535.10 289.53,535.10 289.58,535.10 289.64,535.10 289.70,535.10 289.76,535.10 289.82,535.10 289.88,535.10 289.94,535.10 289.99,535.10 290.05,535.10 290.11,535.10 290.17,535.10 290.23,535.10 290.29,535.10 290.35,535.10 290.40,535.10 290.46,535.10 290.52,535.10 290.58,535.10 290.64,535.10 290.70,535.10 290.76,535.10 290.81,535.10 290.87,535.10 290.93,535.10 290.99,535.10 291.05,535.10 291.11,535.10 291.17,535.10 291.23,535.10 291.28,535.10 291.34,535.10 291.40,535.10 291.46,535.10 291.52,535.10 291.58,535.10 291.64,535.10 291.69,535.10 291.75,535.10 291.81,535.10 291.87,535.10 291.93,535.10 291.99,535.10 292.05,535.10 292.10,535.10 292.16,535.10 292.22,535.10 292.28,535.10 292.34,535.10 292.40,535.10 292.46,535.10 292.51,535.10 292.57,535.10 292.63,535.10 292.69,535.10 292.75,535.10 292.81,535.10 292.87,535.10 292.93,535.10 292.98,535.10 293.04,535.10 293.10,535.10 293.16,535.10 293.22,535.10 293.28,535.10 293.34,535.10 293.39,535.10 293.45,535.10 293.51,535.10 293.57,535.10 293.63,535.10 293.69,535.10 293.75,535.10 293.80,535.10 293.86,535.10 293.92,535.10 293.98,535.10 294.04,535.10 294.10,535.10 294.16,535.10 294.21,535.10 294.27,535.10 294.33,535.10 294.39,535.10 294.45,535.10 294.51,535.10 294.57,535.10 294.62,535.10 294.68,535.10 294.74,535.10 294.80,535.10 294.86,535.10 294.92,535.10 294.98,535.10 295.04,535.10 295.09,535.10 295.15,535.10 295.21,535.10 295.27,535.10 295.33,535.10 295.39,535.10 295.45,535.10 295.50,535.10 295.56,535.10 295.62,535.10 295.68,535.10 295.74,535.10 295.80,535.10 295.86,535.10 295.91,535.10 295.97,535.10 296.03,535.10 296.09,535.10 296.15,535.10 296.21,535.10 296.27,535.10 296.32,535.10 296.38,535.10 296.44,535.10 296.50,535.10 296.56,535.10 296.62,535.10 296.68,535.10 296.73,535.10 296.79,535.10 296.85,535.10 296.91,535.10 296.97,535.10 297.03,535.10 297.09,535.10 297.15,535.10 297.20,535.10 297.26,535.10 297.32,535.10 297.38,535.10 297.44,535.10 297.50,535.10 297.56,535.10 297.61,535.10 297.67,535.10 297.73,535.10 297.79,535.10 297.85,535.10 297.91,535.10 297.97,535.10 298.02,535.10 298.08,535.10 298.14,535.10 298.20,535.10 298.26,535.10 298.32,535.10 298.38,535.10 298.43,535.10 298.49,535.10 298.55,535.10 298.61,535.10 298.67,535.10 298.73,535.10 298.79,535.10 298.85,535.10 298.90,535.10 298.96,535.10 299.02,535.10 299.08,535.10 299.14,535.10 299.20,535.10 299.26,535.10 299.31,535.10 299.37,535.10 299.43,535.10 299.49,535.10 299.55,535.10 299.61,535.10 299.67,535.10 299.72,535.10 299.78,535.10 299.84,535.10 299.90,535.10 299.96,535.10 300.02,535.10 300.08,535.10 300.13,535.10 300.19,535.10 300.25,535.10 300.31,535.10 300.37,535.10 300.43,535.10 300.49,535.10 300.54,535.10 300.60,535.10 300.66,535.10 300.72,535.10 300.78,535.10 300.84,535.10 300.90,535.10 300.96,535.10 301.01,535.10 301.07,535.10 301.13,535.10 301.19,535.10 301.25,535.10 301.31,535.10 301.37,535.10 301.42,535.10 301.48,535.10 301.54,535.10 301.60,535.10" fill="none" stroke="#0000ff" stroke-width="1.5" stroke-linejoin="round"/>
<polyline points="464.60,533.43 465.40,533.38 466.20,533.57 467.00,532.94 467.80,532.94 468.60,532.59 469.40,531.91 470.20,531.46 471.00,531.27 471.80,531.23 472.60,530.77 473.40,529.93 474.20,529.72 475.00,529.95 475.80,529.10 476.60,529.89 477.40,529.72 478.20,528.91 479.00,529.80 479.80,528.55 480.60,529.09 481.40,528.25 482.20,528.40 483.00,528.42 483.80,528.27 484.60,527.74 485.40,527.83 486.20,527.85 487.00,526.04 487.80,524.86 488.60,523.51 489.40,521.62 490.20,519.64 491.00,517.92 491.80,516.05 492.60,513.93 493.40,511.01 494.20,508.47 495.00,506.01 495.80,506.04 496.60,505.03 497.40,504.62 498.20,504.56 499.00,504.38 499.80,504.51 500.60,503.55 501.40,504.68 502.20,505.27 503.00,505.62 503.80,505.65 504.60,506.17 505.40,507.12 506.20,507.39 507.00,508.63 507.80,509.33 508.60,509.72 509.40,509.20 510.20,508.56 511.00,507.88 511.80,506.39 512.60,504.50 513.40,502.42 514.20,501.86 515.00,500.16 515.80,498.65 516.60,496.56 517.40,495.90 518.20,495.36 519.00,495.35 519.80,495.11 520.60,493.73 521.40,492.70 522.20,491.85 523.00,491.21 523.80,490.42 524.60,490.73 525.40,489.16 526.20,487.89 527.00,489.63 527.80,491.80 528.60,494.11 529.40,495.92 530.20,496.15 531.00,497.60 531.80,496.70 532.60,493.40 533.40,490.23 534.20,486.31 535.00,482.95 535.80,478.12 536.60,471.10 537.40,468.08 538.20,465.34 539.00,464.59 539.80,464.30 540.60,463.56 541.40,463.30 542.20,463.86 543.00,463.97 543.80,464.57 544.60,464.37 545.40,464.63 546.20,465.02 547.00,466.05 547.80,467.72 548.60,469.33 549.40,470.92 550.20,471.26 551.00,471.64 551.80,471.98 552.60,472.24 553.40,472.70 554.20,473.08 555.00,473.37 555.80,471.94 556.60,470.58 557.40,468.97 558.20,468.20 559.00,466.90 559.80,468.30 560.60,468.66 561.40,469.27 562.20,469.34 563.00,469.93 563.80,469.89 564.60,470.51 565.40,470.40 566.20,472.05 567.00,475.80 567.80,478.43 568.60,481.09 569.40,482.88 570.20,484.25 571.00,484.41 571.80,482.56 572.60,481.30 573.40,476.73 574.20,471.90 575.00,467.47 575.80,461.88 576.60,457.49 577.40,457.04 578.20,455.27 579.00,454.74 579.80,453.38 580.60,452.50 581.40,451.89 582.20,453.21 583.00,454.51 583.80,454.95 584.60,456.16 585.40,457.38 586.20,456.75 587.00,457.58 587.80,456.97 588.60,456.80 589.40,456.60 590.20,455.97 591.00,457.67 591.80,456.97 592.60,455.90 593.40,454.22 594.20,452.39 595.00,451.10 595.80,449.29 596.60,448.23 597.40,446.57 598.20,445.77 599.00,444.55 599.80,442.76 600.60,442.24 601.40,440.80 602.20,439.38 603.00,438.00 603.80,436.44 604.60,434.68 605.40,432.92 606.20,431.38 607.00,431.92 607.80,436.57 608.60,442.53 609.40,447.81 610.20,452.15 611.00,455.86 611.80,457.58 612.60,455.85 613.40,454.01 614.20,449.28 615.00,442.65 615.80,436.01 616.60,431.21 617.40,426.07 618.20,422.95 619.00,420.64 619.80,418.54 620.60,416.73 621.40,415.99 622.20,415.20 623.00,417.27 623.80,420.49 624.60,424.10 625.40,426.96 626.20,428.29 627.00,429.66 627.80,430.80 628.60,431.98 629.40,431.11 630.20,428.71 631.00,428.40 631.80,427.67 632.60,426.72 633.40,426.92 634.20,424.53 635.00,422.70 635.80,419.63 636.60,418.42 637.40,416.59 638.20,417.57 639.00,418.21 639.80,419.17 640.60,419.71 641.40,420.88 642.20,422.36 643.00,424.41 643.80,426.18 644.60,427.34 645.40,426.73 646.20,426.58 647.00,427.51 647.80,431.29 648.60,436.87 649.40,442.40 650.20,445.70 651.00,448.33 651.80,447.91 652.60,445.63 653.40,442.10 654.20,435.80 655.00,429.41 655.80,423.35 656.60,417.45 657.40,411.60 658.20,405.10 659.00,399.27 659.80,394.77 660.60,391.57 661.40,390.84 662.20,390.17 663.00,391.76 663.80,393.12 664.60,394.10 665.40,395.47 666.20,398.22 667.00,400.39 667.80,402.54 668.60,406.09 669.40,409.32 670.20,411.98 671.00,414.25 671.80,416.70 672.60,418.06 673.40,419.69 674.20,422.44 675.00,423.61 675.80,422.96 676.60,422.38 677.40,423.67 678.20,424.86 679.00,425.24 679.80,426.64 680.60,426.68 681.40,426.44 682.20,427.53 683.00,429.21 683.80,430.14 684.60,432.04 685.40,435.12 686.20,437.51 687.00,441.15 687.80,444.81 688.60,447.78 689.40,451.63 690.20,453.48 691.00,456.11 691.80,458.66 692.60,461.44 693.40,463.50 694.20,466.50 695.00,467.85 695.80,470.14 696.60,472.69 697.40,475.75 698.20,478.12 699.00,480.72 699.80,482.43 700.60,485.27 701.40,486.15 702.20,486.95 703.00,487.79 703.80,489.55 704.60,489.03 705.40,490.47 706.20,490.99 707.00,491.61 707.80,491.99 708.60,493.00 709.40,494.92 710.20,495.16 711.00,496.66 711.80,496.91 712.60,498.45 713.40,500.16 714.20,500.73 715.00,501.72 715.80,503.01 716.60,503.77 717.40,504.56 718.20,505.84 719.00,506.26 719.80,507.67 720.60,508.75 721.40,508.94 722.20,510.13 723.00,510.18 723.80,511.47 724.60,511.65 725.40,512.72 726.20,512.47 727.00,513.51 727.80,514.46 728.60,514.38 729.40,514.92 730.20,515.86 731.00,515.43 731.80,515.96 732.60,516.82 733.40,518.18 734.20,518.05 735.00,518.67 735.80,519.30 736.60,520.42 737.40,520.22 738.20,521.82 739.00,521.43 739.80,522.43 740.60,521.61 741.40,522.87 742.20,523.12 743.00,523.39 743.80,523.48 744.60,524.03 745.40,523.72 746.20,525.19 747.00,524.26 747.80,525.29 748.60,525.79 749.40,525.64 750.20,526.00 751.00,525.88 751.80,526.27 752.60,526.71 753.40,526.32 754.20,525.76 755.00,527.54 755.80,527.17 756.60,527.70 757.40,527.71 758.20,527.58 759.00,528.06 759.80,527.89 760.60,528.44 761.40,528.50 762.20,528.63 763.00,528.84 763.80,529.13 764.60,528.67 765.40,528.83 766.20,528.53 767.00,528.14 767.80,528.36 768.60,528.76 769.40,528.71 770.20,528.45 771.00,528.43 771.80,528.62 772.60,528.61 773.40,528.73 774.20,528.56 775.00,528.35 775.80,528.91 776.60,529.09 777.40,529.02 778.20,528.40" fill="none" stroke="#0000ff" stroke-width="1.5" stroke-linejoin="round"/>
<path d="M67.20,32.35 V252.85 M66.35,252.85 H381.60" stroke="#000" stroke-width="1.7" fill="none"/>
<path d="M67.20,252.85 v5.6 M125.80,252.85 v5.6 M184.40,252.85 v5.6 M243.00,252.85 v5.6 M301.60,252.85 v5.6 M360.20,252.85 v5.6 M67.20,252.85 h-5.6 M67.20,197.94 h-5.6 M67.20,143.02 h-5.6 M67.20,88.11 h-5.6 M67.20,33.20 h-5.6 " stroke="#000" stroke-width="1.7" fill="none"/>
<text x="67.20" y="274.30" font-size="13.3" text-anchor="middle" stroke="#000" stroke-width="0.3" textLength="7.95" lengthAdjust="spacingAndGlyphs">0</text>
<text x="125.80" y="274.30" font-size="13.3" text-anchor="middle" stroke="#000" stroke-width="0.3" textLength="7.95" lengthAdjust="spacingAndGlyphs">2</text>
<text x="184.40" y="274.30" font-size="13.3" text-anchor="middle" stroke="#000" stroke-width="0.3" textLength="7.95" lengthAdjust="spacingAndGlyphs">4</text>
<text x="243.00" y="274.30" font-size="13.3" text-anchor="middle" stroke="#000" stroke-width="0.3" textLength="7.95" lengthAdjust="spacingAndGlyphs">6</text>
<text x="301.60" y="274.30" font-size="13.3" text-anchor="middle" stroke="#000" stroke-width="0.3" textLength="7.95" lengthAdjust="spacingAndGlyphs">8</text>
<text x="360.20" y="274.30" font-size="13.3" text-anchor="middle" stroke="#000" stroke-width="0.3" textLength="15.90" lengthAdjust="spacingAndGlyphs">10</text>
<text x="55.90" y="258.25" font-size="13.3" text-anchor="end" stroke="#000" stroke-width="0.3" textLength="7.95" lengthAdjust="spacingAndGlyphs">0</text>
<text x="55.90" y="203.34" font-size="13.3" text-anchor="end" stroke="#000" stroke-width="0.3" textLength="23.59" lengthAdjust="spacingAndGlyphs">2e5</text>
<text x="55.90" y="148.42" font-size="13.3" text-anchor="end" stroke="#000" stroke-width="0.3" textLength="23.59" lengthAdjust="spacingAndGlyphs">4e5</text>
<text x="55.90" y="93.51" font-size="13.3" text-anchor="end" stroke="#000" stroke-width="0.3" textLength="23.59" lengthAdjust="spacingAndGlyphs">6e5</text>
<text x="55.90" y="38.60" font-size="13.3" text-anchor="end" stroke="#000" stroke-width="0.3" textLength="23.59" lengthAdjust="spacingAndGlyphs">8e5</text>
<text x="228.30" y="289.70" font-size="15" font-weight="bold" stroke="#000" stroke-width="0.35" text-anchor="middle" textLength="62.5" lengthAdjust="spacingAndGlyphs">time (s)</text>
<text transform="translate(26.80,261.20) rotate(-90)" x="0" y="0" font-size="15" font-weight="bold" stroke="#000" stroke-width="0.35" textLength="235.80" lengthAdjust="spacingAndGlyphs">Calcium flux rate (number/s)</text>
<path d="M454.80,32.35 V252.85 M453.95,252.85 H779.00" stroke="#000" stroke-width="1.7" fill="none"/>
<path d="M454.80,252.85 v5.6 M555.54,252.85 v5.6 M656.27,252.85 v5.6 M757.00,252.85 v5.6 M454.80,252.85 h-5.6 M454.80,197.94 h-5.6 M454.80,143.02 h-5.6 M454.80,88.11 h-5.6 M454.80,33.20 h-5.6 " stroke="#000" stroke-width="1.7" fill="none"/>
<text x="454.80" y="274.30" font-size="13.3" text-anchor="middle" stroke="#000" stroke-width="0.3" textLength="7.95" lengthAdjust="spacingAndGlyphs">1</text>
<text x="555.54" y="274.30" font-size="13.3" text-anchor="middle" stroke="#000" stroke-width="0.3" textLength="27.82" lengthAdjust="spacingAndGlyphs">1.05</text>
<text x="656.27" y="274.30" font-size="13.3" text-anchor="middle" stroke="#000" stroke-width="0.3" textLength="19.87" lengthAdjust="spacingAndGlyphs">1.1</text>
<text x="757.00" y="274.30" font-size="13.3" text-anchor="middle" stroke="#000" stroke-width="0.3" textLength="27.82" lengthAdjust="spacingAndGlyphs">1.15</text>
<text x="443.50" y="258.25" font-size="13.3" text-anchor="end" stroke="#000" stroke-width="0.3" textLength="7.95" lengthAdjust="spacingAndGlyphs">0</text>
<text x="443.50" y="203.34" font-size="13.3" text-anchor="end" stroke="#000" stroke-width="0.3" textLength="23.59" lengthAdjust="spacingAndGlyphs">2e5</text>
<text x="443.50" y="148.42" font-size="13.3" text-anchor="end" stroke="#000" stroke-width="0.3" textLength="23.59" lengthAdjust="spacingAndGlyphs">4e5</text>
<text x="443.50" y="93.51" font-size="13.3" text-anchor="end" stroke="#000" stroke-width="0.3" textLength="23.59" lengthAdjust="spacingAndGlyphs">6e5</text>
<text x="443.50" y="38.60" font-size="13.3" text-anchor="end" stroke="#000" stroke-width="0.3" textLength="23.59" lengthAdjust="spacingAndGlyphs">8e5</text>
<text x="616.00" y="289.70" font-size="15" font-weight="bold" stroke="#000" stroke-width="0.35" text-anchor="middle" textLength="62.5" lengthAdjust="spacingAndGlyphs">time (s)</text>
<text transform="translate(414.30,261.20) rotate(-90)" x="0" y="0" font-size="15" font-weight="bold" stroke="#000" stroke-width="0.35" textLength="235.80" lengthAdjust="spacingAndGlyphs">Calcium flux rate (number/s)</text>
<path d="M67.20,314.45 V535.10 M66.35,535.10 H381.60" stroke="#000" stroke-width="1.7" fill="none"/>
<path d="M67.20,535.10 v5.6 M125.80,535.10 v5.6 M184.40,535.10 v5.6 M243.00,535.10 v5.6 M301.60,535.10 v5.6 M360.20,535.10 v5.6 M67.20,535.10 h-5.6 M67.20,480.15 h-5.6 M67.20,425.20 h-5.6 M67.20,370.25 h-5.6 M67.20,315.30 h-5.6 " stroke="#000" stroke-width="1.7" fill="none"/>
<text x="67.20" y="556.20" font-size="13.3" text-anchor="middle" stroke="#000" stroke-width="0.3" textLength="7.95" lengthAdjust="spacingAndGlyphs">0</text>
<text x="125.80" y="556.20" font-size="13.3" text-anchor="middle" stroke="#000" stroke-width="0.3" textLength="7.95" lengthAdjust="spacingAndGlyphs">2</text>
<text x="184.40" y="556.20" font-size="13.3" text-anchor="middle" stroke="#000" stroke-width="0.3" textLength="7.95" lengthAdjust="spacingAndGlyphs">4</text>
<text x="243.00" y="556.20" font-size="13.3" text-anchor="middle" stroke="#000" stroke-width="0.3" textLength="7.95" lengthAdjust="spacingAndGlyphs">6</text>
<text x="301.60" y="556.20" font-size="13.3" text-anchor="middle" stroke="#000" stroke-width="0.3" textLength="7.95" lengthAdjust="spacingAndGlyphs">8</text>
<text x="360.20" y="556.20" font-size="13.3" text-anchor="middle" stroke="#000" stroke-width="0.3" textLength="15.90" lengthAdjust="spacingAndGlyphs">10</text>
<text x="55.90" y="540.50" font-size="13.3" text-anchor="end" stroke="#000" stroke-width="0.3" textLength="7.95" lengthAdjust="spacingAndGlyphs">0</text>
<text x="55.90" y="485.55" font-size="13.3" text-anchor="end" stroke="#000" stroke-width="0.3" textLength="23.85" lengthAdjust="spacingAndGlyphs">500</text>
<text x="55.90" y="430.60" font-size="13.3" text-anchor="end" stroke="#000" stroke-width="0.3" textLength="31.80" lengthAdjust="spacingAndGlyphs">1000</text>
<text x="55.90" y="375.65" font-size="13.3" text-anchor="end" stroke="#000" stroke-width="0.3" textLength="31.80" lengthAdjust="spacingAndGlyphs">1500</text>
<text x="55.90" y="320.70" font-size="13.3" text-anchor="end" stroke="#000" stroke-width="0.3" textLength="31.80" lengthAdjust="spacingAndGlyphs">2000</text>
<text x="228.00" y="570.90" font-size="15" font-weight="bold" stroke="#000" stroke-width="0.35" text-anchor="middle" textLength="62.5" lengthAdjust="spacingAndGlyphs">time (s)</text>
<text transform="translate(18.30,517.60) rotate(-90)" x="0" y="0" font-size="15" font-weight="bold" stroke="#000" stroke-width="0.35" textLength="183.60" lengthAdjust="spacingAndGlyphs">free Calcium (number)</text>
<path d="M454.80,314.45 V535.10 M453.95,535.10 H779.00" stroke="#000" stroke-width="1.7" fill="none"/>
<path d="M454.80,535.10 v5.6 M555.54,535.10 v5.6 M656.27,535.10 v5.6 M757.00,535.10 v5.6 M454.80,535.10 h-5.6 M454.80,480.15 h-5.6 M454.80,425.20 h-5.6 M454.80,370.25 h-5.6 M454.80,315.30 h-5.6 " stroke="#000" stroke-width="1.7" fill="none"/>
<text x="454.80" y="556.20" font-size="13.3" text-anchor="middle" stroke="#000" stroke-width="0.3" textLength="7.95" lengthAdjust="spacingAndGlyphs">1</text>
<text x="555.54" y="556.20" font-size="13.3" text-anchor="middle" stroke="#000" stroke-width="0.3" textLength="27.82" lengthAdjust="spacingAndGlyphs">1.05</text>
<text x="656.27" y="556.20" font-size="13.3" text-anchor="middle" stroke="#000" stroke-width="0.3" textLength="19.87" lengthAdjust="spacingAndGlyphs">1.1</text>
<text x="757.00" y="556.20" font-size="13.3" text-anchor="middle" stroke="#000" stroke-width="0.3" textLength="27.82" lengthAdjust="spacingAndGlyphs">1.15</text>
<text x="443.50" y="540.50" font-size="13.3" text-anchor="end" stroke="#000" stroke-width="0.3" textLength="7.95" lengthAdjust="spacingAndGlyphs">0</text>
<text x="443.50" y="485.55" font-size="13.3" text-anchor="end" stroke="#000" stroke-width="0.3" textLength="23.85" lengthAdjust="spacingAndGlyphs">500</text>
<text x="443.50" y="430.60" font-size="13.3" text-anchor="end" stroke="#000" stroke-width="0.3" textLength="31.80" lengthAdjust="spacingAndGlyphs">1000</text>
<text x="443.50" y="375.65" font-size="13.3" text-anchor="end" stroke="#000" stroke-width="0.3" textLength="31.80" lengthAdjust="spacingAndGlyphs">1500</text>
<text x="443.50" y="320.70" font-size="13.3" text-anchor="end" stroke="#000" stroke-width="0.3" textLength="31.80" lengthAdjust="spacingAndGlyphs">2000</text>
<text x="616.00" y="570.90" font-size="15" font-weight="bold" stroke="#000" stroke-width="0.35" text-anchor="middle" textLength="62.5" lengthAdjust="spacingAndGlyphs">time (s)</text>
<text transform="translate(406.30,517.60) rotate(-90)" x="0" y="0" font-size="15" font-weight="bold" stroke="#000" stroke-width="0.35" textLength="183.60" lengthAdjust="spacingAndGlyphs">free Calcium (number)</text>
<path d="M264.2,46.0 H285.1" stroke="#4aa14a" stroke-width="2.1"/>
<path d="M264.2,60.6 H285.1" stroke="#0000ff" stroke-width="1.4"/>
<text x="291.8" y="49.7" font-size="10" font-weight="bold" textLength="88.6" lengthAdjust="spacingAndGlyphs">through NMDAR</text>
<text x="291.8" y="63.7" font-size="10" font-weight="bold" textLength="77.8" lengthAdjust="spacingAndGlyphs">through VDCC</text>
<path d="M651.7,46.0 H672.6" stroke="#4aa14a" stroke-width="2.1"/>
<path d="M651.7,60.6 H672.6" stroke="#0000ff" stroke-width="1.4"/>
<text x="679.3" y="49.7" font-size="10" font-weight="bold" textLength="88.6" lengthAdjust="spacingAndGlyphs">through NMDAR</text>
<text x="679.3" y="63.7" font-size="10" font-weight="bold" textLength="77.8" lengthAdjust="spacingAndGlyphs">through VDCC</text>
</svg>
</body></html>
